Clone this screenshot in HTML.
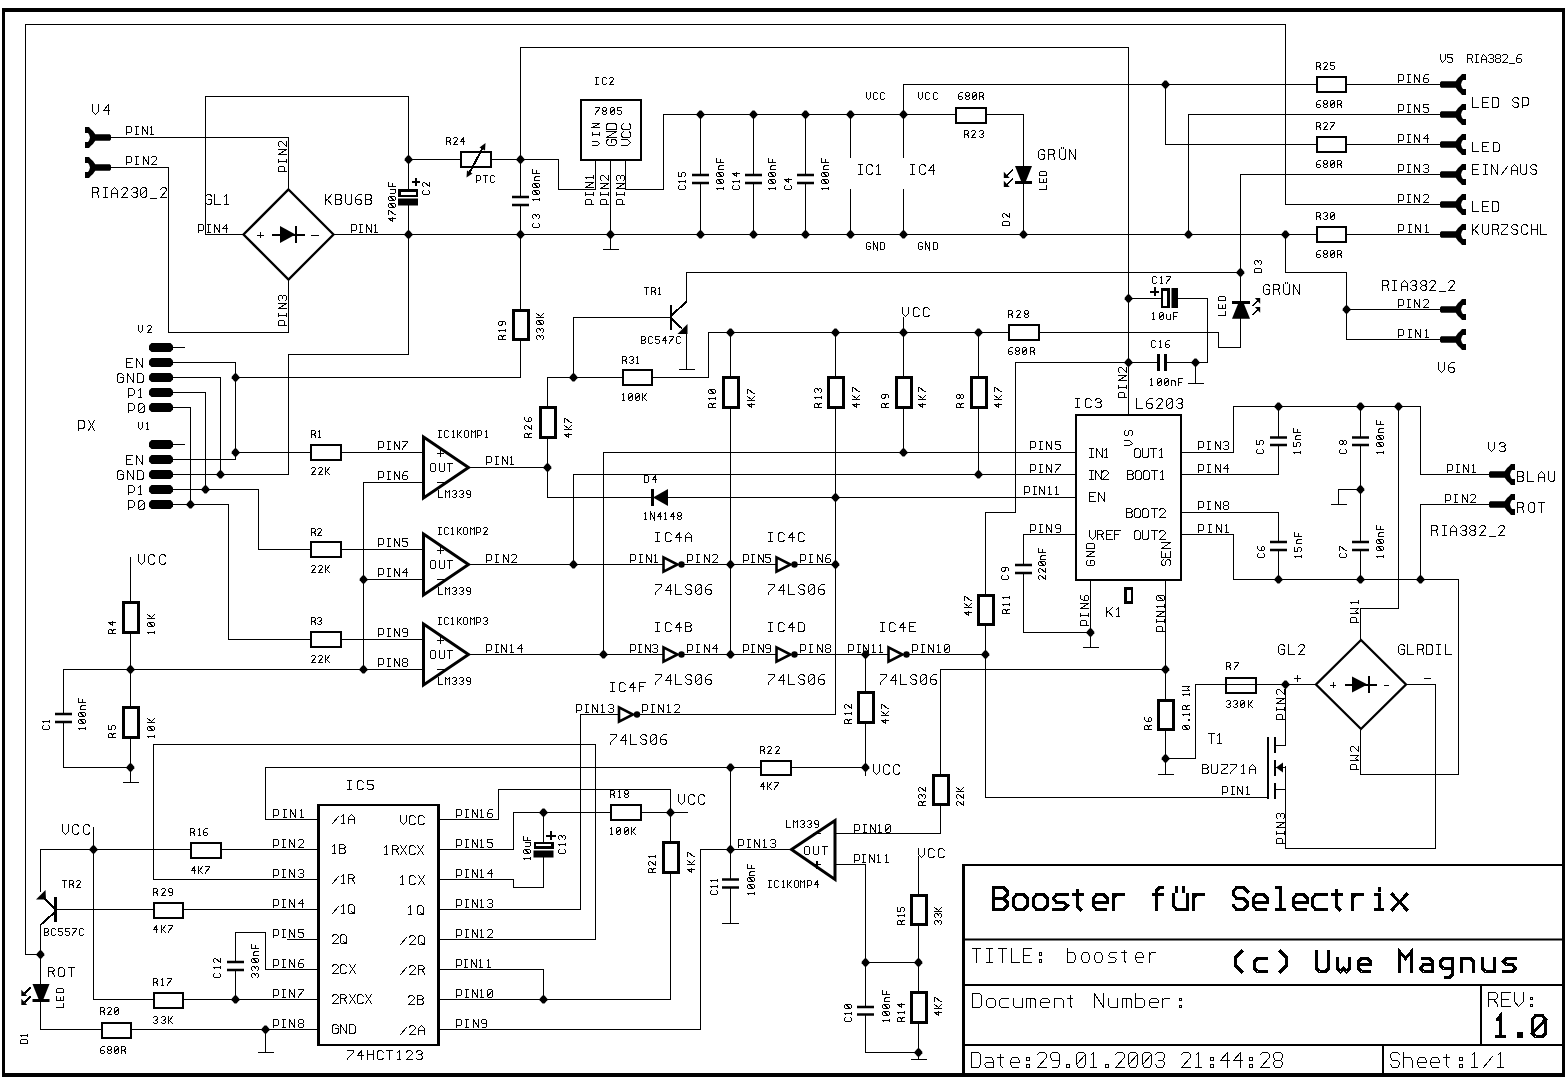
<!DOCTYPE html>
<html><head><meta charset="utf-8"><style>
html,body{margin:0;padding:0;background:#fff;font-family:"Liberation Sans",sans-serif;}
svg{display:block;}
.w{fill:none;stroke:#000;stroke-width:1;shape-rendering:crispEdges;stroke-linecap:square;}
line{stroke:#000;shape-rendering:crispEdges;}
.f{fill:#000;stroke:none;}
.b{fill:none;stroke:#000;shape-rendering:crispEdges;}
.p{fill:none;stroke:#000;stroke-linejoin:miter;}
.t{fill:none;stroke:#000;stroke-linecap:square;stroke-linejoin:miter;shape-rendering:crispEdges;}
</style></head><body>
<svg width="1567" height="1080" viewBox="0 0 1567 1080">
<rect x="0" y="0" width="1567" height="1080" fill="#fff"/>
<rect x="2" y="8" width="1563" height="4" class="f"/>
<rect x="2" y="1073" width="1563" height="4" class="f"/>
<rect x="2" y="8" width="3" height="1069" class="f"/>
<rect x="1562" y="8" width="3" height="1069" class="f"/>
<polyline class="w" points="25.5,954.5 25.5,24.5 1285.5,24.5 1285.5,204.5 1440.5,204.5"/>
<polygon points="85,127 89,127 90.7,129 93,131 94,132.5 95.3,134.3 109.8,134.3 111,135.5 111,139.5 109.8,140.7 95.3,140.7 94,142.5 93,144 90.7,146 89,148 85,148 85,142.1 88,142.1 89.2,140.2 90,137.5 89.2,134.8 88,132.9 85,132.9" class="f"/>
<polygon points="85,157 89,157 90.7,159 93,161 94,162.5 95.3,164.3 109.8,164.3 111,165.5 111,169.5 109.8,170.7 95.3,170.7 94,172.5 93,174 90.7,176 89,178 85,178 85,172.1 88,172.1 89.2,170.2 90,167.5 89.2,164.8 88,162.9 85,162.9" class="f"/>
<path class="t" stroke-width="1" d="M92.5 104.5 L92.5 111.5 L95.5 114.5 L98.5 111.5 L98.5 104.5 M108.5 114.5 L108.5 104.5 L103.5 110.5 L109.5 110.5"/>
<path class="t" stroke-width="1" d="M126.5 134.5 L126.5 126.5 L130.5 126.5 L131.5 127.5 L131.5 131.5 L130.5 132.5 L126.5 132.5 M135.5 126.5 L138.5 126.5 M136.5 126.5 L136.5 134.5 M135.5 134.5 L138.5 134.5 M142.5 134.5 L142.5 126.5 L147.5 134.5 L147.5 126.5 M150.5 127.5 L151.5 126.5 L151.5 134.5 M150.5 134.5 L153.5 134.5"/>
<path class="t" stroke-width="1" d="M126.5 164.5 L126.5 156.5 L130.5 156.5 L131.5 157.5 L131.5 161.5 L130.5 162.5 L126.5 162.5 M135.5 156.5 L138.5 156.5 M136.5 156.5 L136.5 164.5 M135.5 164.5 L138.5 164.5 M143.5 164.5 L143.5 156.5 L148.5 164.5 L148.5 156.5 M151.5 157.5 L152.5 156.5 L155.5 156.5 L156.5 157.5 L156.5 159.5 L151.5 164.5 L156.5 164.5"/>
<path class="t" stroke-width="1" d="M92.5 197.5 L92.5 187.5 L97.5 187.5 L98.5 189.5 L98.5 190.5 L97.5 192.5 L92.5 192.5 M96.5 192.5 L98.5 195.5 L98.5 197.5 M103.5 187.5 L107.5 187.5 M105.5 187.5 L105.5 197.5 M103.5 197.5 L107.5 197.5 M111.5 197.5 L111.5 190.5 L114.5 187.5 L117.5 190.5 L117.5 197.5 M111.5 193.5 L117.5 193.5 M121.5 189.5 L123.5 187.5 L126.5 187.5 L127.5 189.5 L127.5 190.5 L121.5 197.5 L127.5 197.5 M131.5 189.5 L133.5 187.5 L136.5 187.5 L137.5 189.5 L137.5 190.5 L136.5 192.5 L137.5 194.5 L137.5 195.5 L136.5 197.5 L133.5 197.5 L131.5 195.5 M133.5 192.5 L136.5 192.5 M142.5 187.5 L145.5 187.5 L146.5 189.5 L146.5 195.5 L145.5 197.5 L142.5 197.5 L140.5 195.5 L140.5 189.5 L142.5 187.5 M140.5 195.5 L146.5 189.5 M150.5 198.5 L156.5 198.5 M160.5 189.5 L162.5 187.5 L165.5 187.5 L166.5 189.5 L166.5 190.5 L160.5 197.5 L166.5 197.5"/>
<polyline class="w" points="111.5,137.5 288.5,137.5 288.5,190.5"/>
<polyline class="w" points="111.5,167.5 168.5,167.5 168.5,332.5 288.5,332.5 288.5,279.5"/>
<polygon points="288.5,189.5 333.5,234.5 288.5,279.5 243.5,234.5" class="p" stroke-width="2.3"/>
<line x1="272" y1="235" x2="304.5" y2="235" stroke-width="2"/>
<polygon points="280,226 295.5,234.5 280,243" class="f"/>
<line x1="296" y1="226" x2="296" y2="243" stroke-width="2"/>
<line x1="257" y1="235" x2="264" y2="235" stroke-width="1"/>
<line x1="260.5" y1="232" x2="260.5" y2="238" stroke-width="1"/>
<line x1="311" y1="235" x2="318.5" y2="235" stroke-width="1"/>
<path class="t" stroke-width="1" d="M211.5 196.5 L210.5 194.5 L207.5 194.5 L205.5 196.5 L205.5 202.5 L207.5 204.5 L210.5 204.5 L211.5 202.5 L211.5 199.5 L208.5 199.5 M214.5 194.5 L214.5 204.5 L220.5 204.5 M224.5 196.5 L226.5 194.5 L226.5 204.5 M224.5 204.5 L228.5 204.5"/>
<path class="t" stroke-width="1" d="M325.5 194.5 L325.5 204.5 M331.5 194.5 L327.5 199.5 L331.5 204.5 M325.5 200.5 L327.5 199.5 M335.5 204.5 L335.5 194.5 L340.5 194.5 L341.5 196.5 L341.5 197.5 L340.5 199.5 L335.5 199.5 M340.5 199.5 L341.5 201.5 L341.5 202.5 L340.5 204.5 L335.5 204.5 M345.5 194.5 L345.5 202.5 L347.5 204.5 L350.5 204.5 L351.5 202.5 L351.5 194.5 M361.5 194.5 L358.5 194.5 L355.5 197.5 L355.5 202.5 L357.5 204.5 L360.5 204.5 L361.5 202.5 L361.5 201.5 L360.5 199.5 L355.5 199.5 M365.5 204.5 L365.5 194.5 L370.5 194.5 L371.5 196.5 L371.5 197.5 L370.5 199.5 L365.5 199.5 M370.5 199.5 L371.5 201.5 L371.5 202.5 L370.5 204.5 L365.5 204.5"/>
<path class="t" stroke-width="1" d="M198.5 232.5 L198.5 224.5 L202.5 224.5 L203.5 225.5 L203.5 229.5 L202.5 230.5 L198.5 230.5 M207.5 224.5 L210.5 224.5 M208.5 224.5 L208.5 232.5 M207.5 232.5 L210.5 232.5 M214.5 232.5 L214.5 224.5 L219.5 232.5 L219.5 224.5 M226.5 232.5 L226.5 224.5 L222.5 228.5 L227.5 228.5"/>
<path class="t" stroke-width="1" d="M351.5 232.5 L351.5 224.5 L355.5 224.5 L356.5 225.5 L356.5 229.5 L355.5 230.5 L351.5 230.5 M359.5 224.5 L362.5 224.5 M360.5 224.5 L360.5 232.5 M359.5 232.5 L362.5 232.5 M366.5 232.5 L366.5 224.5 L371.5 232.5 L371.5 224.5 M374.5 225.5 L375.5 224.5 L375.5 232.5 M374.5 232.5 L377.5 232.5"/>
<path class="t" stroke-width="1" d="M286.5 171.5 L278.5 171.5 L278.5 167.5 L279.5 166.5 L283.5 166.5 L284.5 167.5 L284.5 171.5 M278.5 162.5 L278.5 159.5 M278.5 161.5 L286.5 161.5 M286.5 162.5 L286.5 159.5 M286.5 154.5 L278.5 154.5 L286.5 149.5 L278.5 149.5 M279.5 146.5 L278.5 145.5 L278.5 142.5 L279.5 141.5 L281.5 141.5 L286.5 146.5 L286.5 141.5"/>
<path class="t" stroke-width="1" d="M286.5 325.5 L278.5 325.5 L278.5 321.5 L279.5 320.5 L283.5 320.5 L284.5 321.5 L284.5 325.5 M278.5 316.5 L278.5 313.5 M278.5 315.5 L286.5 315.5 M286.5 316.5 L286.5 313.5 M286.5 308.5 L278.5 308.5 L286.5 303.5 L278.5 303.5 M279.5 300.5 L278.5 299.5 L278.5 296.5 L279.5 295.5 L281.5 295.5 L282.5 296.5 L283.5 295.5 L285.5 295.5 L286.5 296.5 L286.5 299.5 L285.5 300.5 M282.5 298.5 L282.5 296.5"/>
<polyline class="w" points="243.5,234.5 205.5,234.5 205.5,96.5 408.5,96.5 408.5,190.5"/>
<polyline class="w" points="408.5,205.5 408.5,354.5 288.5,354.5 288.5,474.5 172.5,474.5"/>
<polyline class="w" points="334.5,234.5 1316.5,234.5"/>
<polyline class="w" points="1346.5,234.5 1440.5,234.5"/>
<polygon points="407.5,230.5 409.5,230.5 412.3,233.7 412.3,235.3 409.5,238.5 407.5,238.5 404.7,235.3 404.7,233.7" class="f"/>
<polygon points="519.5,230.5 521.5,230.5 524.3,233.7 524.3,235.3 521.5,238.5 519.5,238.5 516.7,235.3 516.7,233.7" class="f"/>
<polygon points="609.5,230.5 611.5,230.5 614.3,233.7 614.3,235.3 611.5,238.5 609.5,238.5 606.7,235.3 606.7,233.7" class="f"/>
<polygon points="699.5,230.5 701.5,230.5 704.3,233.7 704.3,235.3 701.5,238.5 699.5,238.5 696.7,235.3 696.7,233.7" class="f"/>
<polygon points="752.5,230.5 754.5,230.5 757.3,233.7 757.3,235.3 754.5,238.5 752.5,238.5 749.7,235.3 749.7,233.7" class="f"/>
<polygon points="804.5,230.5 806.5,230.5 809.3,233.7 809.3,235.3 806.5,238.5 804.5,238.5 801.7,235.3 801.7,233.7" class="f"/>
<polygon points="849.5,230.5 851.5,230.5 854.3,233.7 854.3,235.3 851.5,238.5 849.5,238.5 846.7,235.3 846.7,233.7" class="f"/>
<polygon points="902.5,230.5 904.5,230.5 907.3,233.7 907.3,235.3 904.5,238.5 902.5,238.5 899.7,235.3 899.7,233.7" class="f"/>
<polygon points="1022.5,230.5 1024.5,230.5 1027.3,233.7 1027.3,235.3 1024.5,238.5 1022.5,238.5 1019.7,235.3 1019.7,233.7" class="f"/>
<polygon points="1187.5,230.5 1189.5,230.5 1192.3,233.7 1192.3,235.3 1189.5,238.5 1187.5,238.5 1184.7,235.3 1184.7,233.7" class="f"/>
<polygon points="1284.5,230.5 1286.5,230.5 1289.3,233.7 1289.3,235.3 1286.5,238.5 1284.5,238.5 1281.7,235.3 1281.7,233.7" class="f"/>
<rect x="399.25" y="190.25" width="17.5" height="5.5" class="b" stroke-width="2.5"/>
<rect x="398" y="198.5" width="20" height="7" class="f"/>
<line x1="412" y1="181.5" x2="420" y2="181.5" stroke-width="2"/>
<line x1="416" y1="177.5" x2="416" y2="185.5" stroke-width="2"/>
<path class="t" stroke-width="1" d="M423.5 190.5 L422.5 191.5 L422.5 193.5 L423.5 194.5 L428.5 194.5 L429.5 193.5 L429.5 191.5 L428.5 190.5 M423.5 186.5 L422.5 185.5 L422.5 183.5 L423.5 182.5 L424.5 182.5 L429.5 186.5 L429.5 182.5"/>
<path class="t" stroke-width="1" d="M395.5 218.5 L388.5 218.5 L392.5 221.5 L392.5 217.5 M388.5 214.5 L388.5 210.5 L389.5 210.5 L394.5 214.5 L395.5 214.5 M388.5 206.5 L388.5 204.5 L389.5 203.5 L394.5 203.5 L395.5 204.5 L395.5 206.5 L394.5 207.5 L389.5 207.5 L388.5 206.5 M394.5 207.5 L389.5 203.5 M388.5 199.5 L388.5 197.5 L389.5 196.5 L394.5 196.5 L395.5 197.5 L395.5 199.5 L394.5 200.5 L389.5 200.5 L388.5 199.5 M394.5 200.5 L389.5 196.5 M390.5 193.5 L394.5 193.5 L395.5 192.5 L395.5 189.5 M390.5 189.5 L395.5 189.5 M388.5 182.5 L388.5 186.5 L395.5 186.5 M392.5 186.5 L392.5 183.5"/>
<polygon points="407.5,155.5 409.5,155.5 412.3,158.7 412.3,160.3 409.5,163.5 407.5,163.5 404.7,160.3 404.7,158.7" class="f"/>
<polyline class="w" points="408.5,159.5 460.5,159.5"/>
<rect x="461" y="152" width="30" height="15" class="b" stroke-width="2"/>
<polyline class="w" points="491.5,159.5 520.5,159.5"/>
<line x1="468.5" y1="174.5" x2="483.5" y2="146.5" stroke-width="2"/>
<polygon points="485.5,143 479.5,147.5 485,150.5" class="f"/>
<polygon points="466.5,177.5 467,170.5 472.5,173.5" class="f"/>
<path class="t" stroke-width="1" d="M446.5 144.5 L446.5 137.5 L449.5 137.5 L450.5 138.5 L450.5 139.5 L449.5 141.5 L446.5 141.5 M449.5 141.5 L450.5 143.5 L450.5 144.5 M453.5 138.5 L454.5 137.5 L456.5 137.5 L457.5 138.5 L457.5 139.5 L453.5 144.5 L457.5 144.5 M463.5 144.5 L463.5 137.5 L460.5 141.5 L464.5 141.5"/>
<path class="t" stroke-width="1" d="M476.5 182.5 L476.5 175.5 L479.5 175.5 L480.5 176.5 L480.5 179.5 L479.5 180.5 L476.5 180.5 M483.5 175.5 L487.5 175.5 M485.5 175.5 L485.5 182.5 M494.5 176.5 L493.5 175.5 L491.5 175.5 L490.5 176.5 L490.5 181.5 L491.5 182.5 L493.5 182.5 L494.5 181.5"/>
<polygon points="519.5,155.5 521.5,155.5 524.3,158.7 524.3,160.3 521.5,163.5 519.5,163.5 516.7,160.3 516.7,158.7" class="f"/>
<polyline class="w" points="520.5,47.5 1128.5,47.5 1128.5,415.5"/>
<polyline class="w" points="520.5,47.5 520.5,197.5"/>
<rect x="512" y="195.75" width="17" height="2.5" class="f"/>
<rect x="512" y="203.75" width="17" height="2.5" class="f"/>
<polyline class="w" points="520.5,205.5 520.5,309.5"/>
<rect x="513.5" y="310.5" width="15" height="29" class="b" stroke-width="3"/>
<polyline class="w" points="520.5,340.5 520.5,377.5 235.5,377.5"/>
<path class="t" stroke-width="1" d="M533.5 200.5 L532.5 199.5 L539.5 199.5 M539.5 200.5 L539.5 198.5 M532.5 193.5 L532.5 191.5 L533.5 190.5 L538.5 190.5 L539.5 191.5 L539.5 193.5 L538.5 194.5 L533.5 194.5 L532.5 193.5 M538.5 194.5 L533.5 190.5 M532.5 186.5 L532.5 184.5 L533.5 183.5 L538.5 183.5 L539.5 184.5 L539.5 186.5 L538.5 187.5 L533.5 187.5 L532.5 186.5 M538.5 187.5 L533.5 183.5 M539.5 180.5 L534.5 180.5 L534.5 177.5 L536.5 176.5 L539.5 176.5 M532.5 169.5 L532.5 173.5 L539.5 173.5 M536.5 173.5 L536.5 170.5"/>
<path class="t" stroke-width="1" d="M533.5 223.5 L532.5 224.5 L532.5 226.5 L533.5 227.5 L538.5 227.5 L539.5 226.5 L539.5 224.5 L538.5 223.5 M533.5 218.5 L532.5 217.5 L532.5 215.5 L533.5 214.5 L534.5 214.5 L536.5 215.5 L537.5 214.5 L538.5 214.5 L539.5 215.5 L539.5 217.5 L538.5 218.5 M536.5 216.5 L536.5 215.5"/>
<path class="t" stroke-width="1" d="M505.5 339.5 L498.5 339.5 L498.5 336.5 L499.5 335.5 L500.5 335.5 L502.5 336.5 L502.5 339.5 M502.5 336.5 L504.5 335.5 L505.5 335.5 M499.5 331.5 L498.5 330.5 L505.5 330.5 M505.5 331.5 L505.5 329.5 M505.5 324.5 L505.5 322.5 L504.5 321.5 L499.5 321.5 L498.5 322.5 L498.5 324.5 L499.5 325.5 L500.5 325.5 L502.5 324.5 L502.5 321.5"/>
<path class="t" stroke-width="1" d="M537.5 339.5 L536.5 338.5 L536.5 336.5 L537.5 335.5 L538.5 335.5 L540.5 336.5 L541.5 335.5 L542.5 335.5 L543.5 336.5 L543.5 338.5 L542.5 339.5 M540.5 337.5 L540.5 336.5 M537.5 332.5 L536.5 331.5 L536.5 329.5 L537.5 328.5 L538.5 328.5 L540.5 329.5 L541.5 328.5 L542.5 328.5 L543.5 329.5 L543.5 331.5 L542.5 332.5 M540.5 330.5 L540.5 329.5 M536.5 323.5 L536.5 321.5 L537.5 320.5 L542.5 320.5 L543.5 321.5 L543.5 323.5 L542.5 324.5 L537.5 324.5 L536.5 323.5 M542.5 324.5 L537.5 320.5 M536.5 317.5 L543.5 317.5 M536.5 313.5 L540.5 316.5 L543.5 313.5 M540.5 317.5 L540.5 316.5"/>
<polygon points="234.5,373.5 236.5,373.5 239.3,376.7 239.3,378.3 236.5,381.5 234.5,381.5 231.7,378.3 231.7,376.7" class="f"/>
<rect x="581" y="100" width="60" height="60" class="b" stroke-width="2"/>
<path class="t" stroke-width="1" d="M595.5 77.5 L598.5 77.5 M596.5 77.5 L596.5 84.5 M595.5 84.5 L598.5 84.5 M606.5 78.5 L605.5 77.5 L603.5 77.5 L602.5 78.5 L602.5 83.5 L603.5 84.5 L605.5 84.5 L606.5 83.5 M609.5 78.5 L610.5 77.5 L612.5 77.5 L613.5 78.5 L613.5 79.5 L609.5 84.5 L613.5 84.5"/>
<path class="t" stroke-width="1" d="M595.5 107.5 L599.5 107.5 L599.5 108.5 L595.5 113.5 L595.5 114.5 M603.5 107.5 L605.5 107.5 L606.5 108.5 L606.5 109.5 L605.5 111.5 L603.5 111.5 L602.5 109.5 L602.5 108.5 L603.5 107.5 M603.5 111.5 L602.5 112.5 L602.5 113.5 L603.5 114.5 L605.5 114.5 L606.5 113.5 L606.5 112.5 L605.5 111.5 M611.5 107.5 L613.5 107.5 L614.5 108.5 L614.5 113.5 L613.5 114.5 L611.5 114.5 L610.5 113.5 L610.5 108.5 L611.5 107.5 M610.5 113.5 L614.5 108.5 M621.5 107.5 L617.5 107.5 L617.5 110.5 L620.5 110.5 L621.5 111.5 L621.5 113.5 L620.5 114.5 L618.5 114.5 L617.5 113.5"/>
<path class="t" stroke-width="1" d="M592.5 145.5 L597.5 145.5 L599.5 143.5 L597.5 141.5 L592.5 141.5 M592.5 135.5 L592.5 132.5 M592.5 134.5 L599.5 134.5 M599.5 135.5 L599.5 132.5 M599.5 127.5 L592.5 127.5 L599.5 123.5 L592.5 123.5"/>
<path class="t" stroke-width="1" d="M608.5 139.5 L606.5 140.5 L606.5 143.5 L608.5 145.5 L614.5 145.5 L616.5 143.5 L616.5 140.5 L614.5 139.5 L611.5 139.5 L611.5 142.5 M616.5 137.5 L606.5 137.5 L616.5 131.5 L606.5 131.5 M606.5 129.5 L606.5 124.5 L608.5 123.5 L614.5 123.5 L616.5 124.5 L616.5 129.5 L606.5 129.5"/>
<path class="t" stroke-width="1" d="M621.5 145.5 L627.5 145.5 L630.5 142.5 L627.5 139.5 L621.5 139.5 M623.5 131.5 L621.5 133.5 L621.5 136.5 L623.5 137.5 L629.5 137.5 L630.5 136.5 L630.5 133.5 L629.5 131.5 M623.5 123.5 L621.5 125.5 L621.5 128.5 L623.5 129.5 L629.5 129.5 L630.5 128.5 L630.5 125.5 L629.5 123.5"/>
<path class="t" stroke-width="1" d="M593.5 204.5 L585.5 204.5 L585.5 200.5 L586.5 199.5 L590.5 199.5 L591.5 200.5 L591.5 204.5 M585.5 195.5 L585.5 192.5 M585.5 194.5 L593.5 194.5 M593.5 195.5 L593.5 192.5 M593.5 187.5 L585.5 187.5 L593.5 182.5 L585.5 182.5 M586.5 178.5 L585.5 177.5 L593.5 177.5 M593.5 178.5 L593.5 175.5"/>
<path class="t" stroke-width="1" d="M608.5 204.5 L600.5 204.5 L600.5 200.5 L601.5 199.5 L605.5 199.5 L606.5 200.5 L606.5 204.5 M600.5 195.5 L600.5 192.5 M600.5 194.5 L608.5 194.5 M608.5 195.5 L608.5 192.5 M608.5 188.5 L600.5 188.5 L608.5 183.5 L600.5 183.5 M601.5 180.5 L600.5 179.5 L600.5 176.5 L601.5 175.5 L603.5 175.5 L608.5 180.5 L608.5 175.5"/>
<path class="t" stroke-width="1" d="M624.5 204.5 L616.5 204.5 L616.5 200.5 L617.5 199.5 L621.5 199.5 L622.5 200.5 L622.5 204.5 M616.5 195.5 L616.5 192.5 M616.5 194.5 L624.5 194.5 M624.5 195.5 L624.5 192.5 M624.5 188.5 L616.5 188.5 L624.5 183.5 L616.5 183.5 M617.5 180.5 L616.5 179.5 L616.5 176.5 L617.5 175.5 L619.5 175.5 L620.5 176.5 L621.5 175.5 L623.5 175.5 L624.5 176.5 L624.5 179.5 L623.5 180.5 M620.5 178.5 L620.5 176.5"/>
<polyline class="w" points="520.5,159.5 558.5,159.5 558.5,189.5 595.5,189.5 595.5,161.5"/>
<polyline class="w" points="610.5,161.5 610.5,249.5"/>
<line x1="602.5" y1="249.5" x2="618.5" y2="249.5" stroke-width="1.2"/>
<polyline class="w" points="625.5,161.5 625.5,189.5 663.5,189.5 663.5,114.5 955.5,114.5"/>
<polygon points="699.5,110.5 701.5,110.5 704.3,113.7 704.3,115.3 701.5,118.5 699.5,118.5 696.7,115.3 696.7,113.7" class="f"/>
<polygon points="752.5,110.5 754.5,110.5 757.3,113.7 757.3,115.3 754.5,118.5 752.5,118.5 749.7,115.3 749.7,113.7" class="f"/>
<polygon points="804.5,110.5 806.5,110.5 809.3,113.7 809.3,115.3 806.5,118.5 804.5,118.5 801.7,115.3 801.7,113.7" class="f"/>
<polygon points="849.5,110.5 851.5,110.5 854.3,113.7 854.3,115.3 851.5,118.5 849.5,118.5 846.7,115.3 846.7,113.7" class="f"/>
<polygon points="902.5,110.5 904.5,110.5 907.3,113.7 907.3,115.3 904.5,118.5 902.5,118.5 899.7,115.3 899.7,113.7" class="f"/>
<polyline class="w" points="700.5,114.5 700.5,175.5"/>
<rect x="692" y="173.75" width="17" height="2.5" class="f"/>
<rect x="692" y="181.75" width="17" height="2.5" class="f"/>
<polyline class="w" points="700.5,183.5 700.5,234.5"/>
<polyline class="w" points="753.5,114.5 753.5,175.5"/>
<rect x="745" y="173.75" width="17" height="2.5" class="f"/>
<rect x="745" y="181.75" width="17" height="2.5" class="f"/>
<polyline class="w" points="753.5,183.5 753.5,234.5"/>
<polyline class="w" points="805.5,114.5 805.5,175.5"/>
<rect x="797" y="173.75" width="17" height="2.5" class="f"/>
<rect x="797" y="181.75" width="17" height="2.5" class="f"/>
<polyline class="w" points="805.5,183.5 805.5,234.5"/>
<path class="t" stroke-width="1" d="M679.5 185.5 L678.5 186.5 L678.5 188.5 L679.5 189.5 L684.5 189.5 L685.5 188.5 L685.5 186.5 L684.5 185.5 M679.5 182.5 L678.5 181.5 L685.5 181.5 M685.5 182.5 L685.5 180.5 M678.5 172.5 L678.5 176.5 L681.5 176.5 L681.5 173.5 L682.5 172.5 L684.5 172.5 L685.5 173.5 L685.5 175.5 L684.5 176.5"/>
<path class="t" stroke-width="1" d="M717.5 189.5 L716.5 188.5 L723.5 188.5 M723.5 189.5 L723.5 187.5 M716.5 182.5 L716.5 180.5 L717.5 179.5 L722.5 179.5 L723.5 180.5 L723.5 182.5 L722.5 183.5 L717.5 183.5 L716.5 182.5 M722.5 183.5 L717.5 179.5 M716.5 175.5 L716.5 173.5 L717.5 172.5 L722.5 172.5 L723.5 173.5 L723.5 175.5 L722.5 176.5 L717.5 176.5 L716.5 175.5 M722.5 176.5 L717.5 172.5 M723.5 169.5 L718.5 169.5 L718.5 166.5 L720.5 165.5 L723.5 165.5 M716.5 158.5 L716.5 162.5 L723.5 162.5 M720.5 162.5 L720.5 159.5"/>
<path class="t" stroke-width="1" d="M733.5 185.5 L732.5 186.5 L732.5 188.5 L733.5 189.5 L738.5 189.5 L739.5 188.5 L739.5 186.5 L738.5 185.5 M733.5 182.5 L732.5 181.5 L739.5 181.5 M739.5 182.5 L739.5 180.5 M739.5 173.5 L732.5 173.5 L736.5 176.5 L736.5 172.5"/>
<path class="t" stroke-width="1" d="M769.5 189.5 L768.5 188.5 L775.5 188.5 M775.5 189.5 L775.5 187.5 M768.5 182.5 L768.5 180.5 L769.5 179.5 L774.5 179.5 L775.5 180.5 L775.5 182.5 L774.5 183.5 L769.5 183.5 L768.5 182.5 M774.5 183.5 L769.5 179.5 M768.5 175.5 L768.5 173.5 L769.5 172.5 L774.5 172.5 L775.5 173.5 L775.5 175.5 L774.5 176.5 L769.5 176.5 L768.5 175.5 M774.5 176.5 L769.5 172.5 M775.5 169.5 L770.5 169.5 L770.5 166.5 L772.5 165.5 L775.5 165.5 M768.5 158.5 L768.5 162.5 L775.5 162.5 M772.5 162.5 L772.5 159.5"/>
<path class="t" stroke-width="1" d="M785.5 185.5 L784.5 186.5 L784.5 188.5 L785.5 189.5 L790.5 189.5 L791.5 188.5 L791.5 186.5 L790.5 185.5 M791.5 179.5 L784.5 179.5 L788.5 182.5 L788.5 178.5"/>
<path class="t" stroke-width="1" d="M822.5 189.5 L821.5 188.5 L828.5 188.5 M828.5 189.5 L828.5 187.5 M821.5 182.5 L821.5 180.5 L822.5 179.5 L827.5 179.5 L828.5 180.5 L828.5 182.5 L827.5 183.5 L822.5 183.5 L821.5 182.5 M827.5 183.5 L822.5 179.5 M821.5 175.5 L821.5 173.5 L822.5 172.5 L827.5 172.5 L828.5 173.5 L828.5 175.5 L827.5 176.5 L822.5 176.5 L821.5 175.5 M827.5 176.5 L822.5 172.5 M828.5 169.5 L823.5 169.5 L823.5 166.5 L825.5 165.5 L828.5 165.5 M821.5 158.5 L821.5 162.5 L828.5 162.5 M825.5 162.5 L825.5 159.5"/>
<polyline class="w" points="850.5,114.5 850.5,157.5"/>
<polyline class="w" points="850.5,189.5 850.5,234.5"/>
<polyline class="w" points="903.5,114.5 903.5,157.5"/>
<polyline class="w" points="903.5,189.5 903.5,234.5"/>
<path class="t" stroke-width="1" d="M858.5 164.5 L862.5 164.5 M860.5 164.5 L860.5 174.5 M858.5 174.5 L862.5 174.5 M872.5 166.5 L871.5 164.5 L868.5 164.5 L866.5 166.5 L866.5 172.5 L868.5 174.5 L871.5 174.5 L872.5 172.5 M876.5 166.5 L878.5 164.5 L878.5 174.5 M876.5 174.5 L880.5 174.5"/>
<path class="t" stroke-width="1" d="M910.5 164.5 L914.5 164.5 M912.5 164.5 L912.5 174.5 M910.5 174.5 L914.5 174.5 M925.5 166.5 L924.5 164.5 L921.5 164.5 L919.5 166.5 L919.5 172.5 L921.5 174.5 L924.5 174.5 L925.5 172.5 M933.5 174.5 L933.5 164.5 L928.5 170.5 L934.5 170.5"/>
<path class="t" stroke-width="1" d="M866.5 92.5 L866.5 97.5 L868.5 99.5 L870.5 97.5 L870.5 92.5 M877.5 93.5 L876.5 92.5 L874.5 92.5 L873.5 93.5 L873.5 98.5 L874.5 99.5 L876.5 99.5 L877.5 98.5 M884.5 93.5 L883.5 92.5 L881.5 92.5 L880.5 93.5 L880.5 98.5 L881.5 99.5 L883.5 99.5 L884.5 98.5"/>
<path class="t" stroke-width="1" d="M918.5 92.5 L918.5 97.5 L920.5 99.5 L922.5 97.5 L922.5 92.5 M929.5 93.5 L928.5 92.5 L926.5 92.5 L925.5 93.5 L925.5 98.5 L926.5 99.5 L928.5 99.5 L929.5 98.5 M937.5 93.5 L936.5 92.5 L934.5 92.5 L933.5 93.5 L933.5 98.5 L934.5 99.5 L936.5 99.5 L937.5 98.5"/>
<path class="t" stroke-width="1" d="M870.5 243.5 L869.5 242.5 L867.5 242.5 L866.5 243.5 L866.5 248.5 L867.5 249.5 L869.5 249.5 L870.5 248.5 L870.5 246.5 L868.5 246.5 M873.5 249.5 L873.5 242.5 L877.5 249.5 L877.5 242.5 M880.5 242.5 L883.5 242.5 L884.5 243.5 L884.5 248.5 L883.5 249.5 L880.5 249.5 L880.5 242.5"/>
<path class="t" stroke-width="1" d="M922.5 243.5 L921.5 242.5 L919.5 242.5 L918.5 243.5 L918.5 248.5 L919.5 249.5 L921.5 249.5 L922.5 248.5 L922.5 246.5 L920.5 246.5 M925.5 249.5 L925.5 242.5 L929.5 249.5 L929.5 242.5 M933.5 242.5 L936.5 242.5 L937.5 243.5 L937.5 248.5 L936.5 249.5 L933.5 249.5 L933.5 242.5"/>
<rect x="956" y="107.5" width="30" height="15" class="b" stroke-width="2"/>
<polyline class="w" points="986.5,114.5 1023.5,114.5 1023.5,167.5"/>
<polygon points="1015,166 1032,166 1026,181 1021,181" class="f"/>
<rect x="1015" y="181" width="17" height="3" class="f"/>
<line x1="1013" y1="169.5" x2="1007" y2="175.5" stroke-width="1.6"/>
<polygon points="1003.8,171.8 1003.8,178 1009.7,178" class="f"/>
<line x1="1013" y1="178.5" x2="1007" y2="184.5" stroke-width="1.6"/>
<polygon points="1003.8,180.8 1003.8,187 1009.7,187" class="f"/>
<polyline class="w" points="1023.5,183.5 1023.5,234.5"/>
<path class="t" stroke-width="1" d="M962.5 92.5 L960.5 92.5 L958.5 94.5 L958.5 98.5 L959.5 99.5 L961.5 99.5 L962.5 98.5 L962.5 97.5 L961.5 96.5 L958.5 96.5 M966.5 92.5 L968.5 92.5 L969.5 93.5 L969.5 94.5 L968.5 96.5 L966.5 96.5 L965.5 94.5 L965.5 93.5 L966.5 92.5 M966.5 96.5 L965.5 97.5 L965.5 98.5 L966.5 99.5 L968.5 99.5 L969.5 98.5 L969.5 97.5 L968.5 96.5 M973.5 92.5 L975.5 92.5 L976.5 93.5 L976.5 98.5 L975.5 99.5 L973.5 99.5 L972.5 98.5 L972.5 93.5 L973.5 92.5 M972.5 98.5 L976.5 93.5 M979.5 99.5 L979.5 92.5 L982.5 92.5 L983.5 93.5 L983.5 94.5 L982.5 96.5 L979.5 96.5 M982.5 96.5 L983.5 98.5 L983.5 99.5"/>
<path class="t" stroke-width="1" d="M964.5 137.5 L964.5 130.5 L967.5 130.5 L968.5 131.5 L968.5 132.5 L967.5 134.5 L964.5 134.5 M967.5 134.5 L968.5 136.5 L968.5 137.5 M971.5 131.5 L972.5 130.5 L974.5 130.5 L975.5 131.5 L975.5 132.5 L971.5 137.5 L975.5 137.5 M979.5 131.5 L980.5 130.5 L982.5 130.5 L983.5 131.5 L983.5 132.5 L982.5 134.5 L983.5 135.5 L983.5 136.5 L982.5 137.5 L980.5 137.5 L979.5 136.5 M981.5 134.5 L982.5 134.5"/>
<path class="t" stroke-width="1" d="M1044.5 151.5 L1043.5 149.5 L1040.5 149.5 L1038.5 151.5 L1038.5 157.5 L1040.5 159.5 L1043.5 159.5 L1044.5 157.5 L1044.5 154.5 L1041.5 154.5 M1048.5 159.5 L1048.5 149.5 L1053.5 149.5 L1054.5 151.5 L1054.5 152.5 L1053.5 154.5 L1048.5 154.5 M1052.5 154.5 L1054.5 157.5 L1054.5 159.5 M1059.5 149.5 L1059.5 157.5 L1061.5 159.5 L1064.5 159.5 L1065.5 157.5 L1065.5 149.5 M1061.5 147.5 L1061.5 148.5 M1063.5 147.5 L1063.5 148.5 M1069.5 159.5 L1069.5 149.5 L1075.5 159.5 L1075.5 149.5"/>
<path class="t" stroke-width="1" d="M1039.5 189.5 L1046.5 189.5 L1046.5 185.5 M1039.5 178.5 L1039.5 182.5 L1046.5 182.5 L1046.5 178.5 M1043.5 182.5 L1043.5 179.5 M1039.5 175.5 L1039.5 172.5 L1040.5 171.5 L1045.5 171.5 L1046.5 172.5 L1046.5 175.5 L1039.5 175.5"/>
<path class="t" stroke-width="1" d="M1002.5 225.5 L1002.5 222.5 L1003.5 221.5 L1008.5 221.5 L1009.5 222.5 L1009.5 225.5 L1002.5 225.5 M1003.5 217.5 L1002.5 216.5 L1002.5 214.5 L1003.5 213.5 L1004.5 213.5 L1009.5 217.5 L1009.5 213.5"/>
<polyline class="w" points="903.5,114.5 903.5,84.5 1316.5,84.5"/>
<rect x="1316.5" y="77" width="29" height="15" class="b" stroke-width="2"/>
<polyline class="w" points="1346.5,84.5 1440.5,84.5"/>
<polygon points="1164.5,80.5 1166.5,80.5 1169.3,83.7 1169.3,85.3 1166.5,88.5 1164.5,88.5 1161.7,85.3 1161.7,83.7" class="f"/>
<polyline class="w" points="1165.5,84.5 1165.5,144.5 1316.5,144.5"/>
<rect x="1316.5" y="137" width="29" height="15" class="b" stroke-width="2"/>
<polyline class="w" points="1346.5,144.5 1440.5,144.5"/>
<polyline class="w" points="1188.5,234.5 1188.5,114.5 1440.5,114.5"/>
<polyline class="w" points="1240.5,174.5 1440.5,174.5"/>
<rect x="1316.5" y="227" width="29" height="15" class="b" stroke-width="2"/>
<polygon points="1466,74 1462,74 1460.3,76 1458,78 1457,79.5 1455.7,81.3 1441.2,81.3 1440,82.5 1440,86.5 1441.2,87.7 1455.7,87.7 1457,89.5 1458,91 1460.3,93 1462,95 1466,95 1466,89.1 1463,89.1 1461.8,87.2 1461,84.5 1461.8,81.8 1463,79.9 1466,79.9" class="f"/>
<polygon points="1466,104 1462,104 1460.3,106 1458,108 1457,109.5 1455.7,111.3 1441.2,111.3 1440,112.5 1440,116.5 1441.2,117.7 1455.7,117.7 1457,119.5 1458,121 1460.3,123 1462,125 1466,125 1466,119.1 1463,119.1 1461.8,117.2 1461,114.5 1461.8,111.8 1463,109.9 1466,109.9" class="f"/>
<polygon points="1466,134 1462,134 1460.3,136 1458,138 1457,139.5 1455.7,141.3 1441.2,141.3 1440,142.5 1440,146.5 1441.2,147.7 1455.7,147.7 1457,149.5 1458,151 1460.3,153 1462,155 1466,155 1466,149.1 1463,149.1 1461.8,147.2 1461,144.5 1461.8,141.8 1463,139.9 1466,139.9" class="f"/>
<polygon points="1466,164 1462,164 1460.3,166 1458,168 1457,169.5 1455.7,171.3 1441.2,171.3 1440,172.5 1440,176.5 1441.2,177.7 1455.7,177.7 1457,179.5 1458,181 1460.3,183 1462,185 1466,185 1466,179.1 1463,179.1 1461.8,177.2 1461,174.5 1461.8,171.8 1463,169.9 1466,169.9" class="f"/>
<polygon points="1466,194 1462,194 1460.3,196 1458,198 1457,199.5 1455.7,201.3 1441.2,201.3 1440,202.5 1440,206.5 1441.2,207.7 1455.7,207.7 1457,209.5 1458,211 1460.3,213 1462,215 1466,215 1466,209.1 1463,209.1 1461.8,207.2 1461,204.5 1461.8,201.8 1463,199.9 1466,199.9" class="f"/>
<polygon points="1466,224 1462,224 1460.3,226 1458,228 1457,229.5 1455.7,231.3 1441.2,231.3 1440,232.5 1440,236.5 1441.2,237.7 1455.7,237.7 1457,239.5 1458,241 1460.3,243 1462,245 1466,245 1466,239.1 1463,239.1 1461.8,237.2 1461,234.5 1461.8,231.8 1463,229.9 1466,229.9" class="f"/>
<path class="t" stroke-width="1" d="M1316.5 69.5 L1316.5 62.5 L1319.5 62.5 L1320.5 63.5 L1320.5 64.5 L1319.5 66.5 L1316.5 66.5 M1319.5 66.5 L1320.5 68.5 L1320.5 69.5 M1323.5 63.5 L1324.5 62.5 L1326.5 62.5 L1327.5 63.5 L1327.5 64.5 L1323.5 69.5 L1327.5 69.5 M1334.5 62.5 L1330.5 62.5 L1330.5 65.5 L1333.5 65.5 L1334.5 66.5 L1334.5 68.5 L1333.5 69.5 L1331.5 69.5 L1330.5 68.5"/>
<path class="t" stroke-width="1" d="M1320.5 100.5 L1318.5 100.5 L1316.5 102.5 L1316.5 106.5 L1317.5 107.5 L1319.5 107.5 L1320.5 106.5 L1320.5 105.5 L1319.5 104.5 L1316.5 104.5 M1324.5 100.5 L1326.5 100.5 L1327.5 101.5 L1327.5 102.5 L1326.5 104.5 L1324.5 104.5 L1323.5 102.5 L1323.5 101.5 L1324.5 100.5 M1324.5 104.5 L1323.5 105.5 L1323.5 106.5 L1324.5 107.5 L1326.5 107.5 L1327.5 106.5 L1327.5 105.5 L1326.5 104.5 M1331.5 100.5 L1333.5 100.5 L1334.5 101.5 L1334.5 106.5 L1333.5 107.5 L1331.5 107.5 L1330.5 106.5 L1330.5 101.5 L1331.5 100.5 M1330.5 106.5 L1334.5 101.5 M1337.5 107.5 L1337.5 100.5 L1340.5 100.5 L1341.5 101.5 L1341.5 102.5 L1340.5 104.5 L1337.5 104.5 M1340.5 104.5 L1341.5 106.5 L1341.5 107.5"/>
<path class="t" stroke-width="1" d="M1316.5 129.5 L1316.5 122.5 L1319.5 122.5 L1320.5 123.5 L1320.5 124.5 L1319.5 126.5 L1316.5 126.5 M1319.5 126.5 L1320.5 128.5 L1320.5 129.5 M1323.5 123.5 L1324.5 122.5 L1326.5 122.5 L1327.5 123.5 L1327.5 124.5 L1323.5 129.5 L1327.5 129.5 M1330.5 122.5 L1334.5 122.5 L1334.5 123.5 L1330.5 128.5 L1330.5 129.5"/>
<path class="t" stroke-width="1" d="M1320.5 160.5 L1318.5 160.5 L1316.5 162.5 L1316.5 166.5 L1317.5 167.5 L1319.5 167.5 L1320.5 166.5 L1320.5 165.5 L1319.5 164.5 L1316.5 164.5 M1324.5 160.5 L1326.5 160.5 L1327.5 161.5 L1327.5 162.5 L1326.5 164.5 L1324.5 164.5 L1323.5 162.5 L1323.5 161.5 L1324.5 160.5 M1324.5 164.5 L1323.5 165.5 L1323.5 166.5 L1324.5 167.5 L1326.5 167.5 L1327.5 166.5 L1327.5 165.5 L1326.5 164.5 M1331.5 160.5 L1333.5 160.5 L1334.5 161.5 L1334.5 166.5 L1333.5 167.5 L1331.5 167.5 L1330.5 166.5 L1330.5 161.5 L1331.5 160.5 M1330.5 166.5 L1334.5 161.5 M1337.5 167.5 L1337.5 160.5 L1340.5 160.5 L1341.5 161.5 L1341.5 162.5 L1340.5 164.5 L1337.5 164.5 M1340.5 164.5 L1341.5 166.5 L1341.5 167.5"/>
<path class="t" stroke-width="1" d="M1316.5 219.5 L1316.5 212.5 L1319.5 212.5 L1320.5 213.5 L1320.5 214.5 L1319.5 216.5 L1316.5 216.5 M1319.5 216.5 L1320.5 218.5 L1320.5 219.5 M1323.5 213.5 L1324.5 212.5 L1326.5 212.5 L1327.5 213.5 L1327.5 214.5 L1326.5 216.5 L1327.5 217.5 L1327.5 218.5 L1326.5 219.5 L1324.5 219.5 L1323.5 218.5 M1325.5 216.5 L1326.5 216.5 M1331.5 212.5 L1333.5 212.5 L1334.5 213.5 L1334.5 218.5 L1333.5 219.5 L1331.5 219.5 L1330.5 218.5 L1330.5 213.5 L1331.5 212.5 M1330.5 218.5 L1334.5 213.5"/>
<path class="t" stroke-width="1" d="M1320.5 250.5 L1318.5 250.5 L1316.5 252.5 L1316.5 256.5 L1317.5 257.5 L1319.5 257.5 L1320.5 256.5 L1320.5 255.5 L1319.5 254.5 L1316.5 254.5 M1324.5 250.5 L1326.5 250.5 L1327.5 251.5 L1327.5 252.5 L1326.5 254.5 L1324.5 254.5 L1323.5 252.5 L1323.5 251.5 L1324.5 250.5 M1324.5 254.5 L1323.5 255.5 L1323.5 256.5 L1324.5 257.5 L1326.5 257.5 L1327.5 256.5 L1327.5 255.5 L1326.5 254.5 M1331.5 250.5 L1333.5 250.5 L1334.5 251.5 L1334.5 256.5 L1333.5 257.5 L1331.5 257.5 L1330.5 256.5 L1330.5 251.5 L1331.5 250.5 M1330.5 256.5 L1334.5 251.5 M1337.5 257.5 L1337.5 250.5 L1340.5 250.5 L1341.5 251.5 L1341.5 252.5 L1340.5 254.5 L1337.5 254.5 M1340.5 254.5 L1341.5 256.5 L1341.5 257.5"/>
<path class="t" stroke-width="1" d="M1398.5 82.5 L1398.5 74.5 L1402.5 74.5 L1403.5 75.5 L1403.5 79.5 L1402.5 80.5 L1398.5 80.5 M1407.5 74.5 L1410.5 74.5 M1408.5 74.5 L1408.5 82.5 M1407.5 82.5 L1410.5 82.5 M1414.5 82.5 L1414.5 74.5 L1419.5 82.5 L1419.5 74.5 M1428.5 74.5 L1425.5 74.5 L1423.5 77.5 L1423.5 81.5 L1424.5 82.5 L1427.5 82.5 L1428.5 81.5 L1428.5 79.5 L1427.5 78.5 L1423.5 78.5"/>
<path class="t" stroke-width="1" d="M1398.5 112.5 L1398.5 104.5 L1402.5 104.5 L1403.5 105.5 L1403.5 109.5 L1402.5 110.5 L1398.5 110.5 M1407.5 104.5 L1410.5 104.5 M1408.5 104.5 L1408.5 112.5 M1407.5 112.5 L1410.5 112.5 M1414.5 112.5 L1414.5 104.5 L1419.5 112.5 L1419.5 104.5 M1428.5 104.5 L1423.5 104.5 L1423.5 107.5 L1427.5 107.5 L1428.5 109.5 L1428.5 111.5 L1427.5 112.5 L1424.5 112.5 L1423.5 111.5"/>
<path class="t" stroke-width="1" d="M1398.5 142.5 L1398.5 134.5 L1402.5 134.5 L1403.5 135.5 L1403.5 139.5 L1402.5 140.5 L1398.5 140.5 M1407.5 134.5 L1410.5 134.5 M1408.5 134.5 L1408.5 142.5 M1407.5 142.5 L1410.5 142.5 M1414.5 142.5 L1414.5 134.5 L1419.5 142.5 L1419.5 134.5 M1427.5 142.5 L1427.5 134.5 L1423.5 138.5 L1428.5 138.5"/>
<path class="t" stroke-width="1" d="M1398.5 172.5 L1398.5 164.5 L1402.5 164.5 L1403.5 165.5 L1403.5 169.5 L1402.5 170.5 L1398.5 170.5 M1407.5 164.5 L1410.5 164.5 M1408.5 164.5 L1408.5 172.5 M1407.5 172.5 L1410.5 172.5 M1414.5 172.5 L1414.5 164.5 L1419.5 172.5 L1419.5 164.5 M1423.5 165.5 L1424.5 164.5 L1427.5 164.5 L1428.5 165.5 L1428.5 167.5 L1427.5 168.5 L1428.5 169.5 L1428.5 171.5 L1427.5 172.5 L1424.5 172.5 L1423.5 171.5 M1425.5 168.5 L1427.5 168.5"/>
<path class="t" stroke-width="1" d="M1398.5 202.5 L1398.5 194.5 L1402.5 194.5 L1403.5 195.5 L1403.5 199.5 L1402.5 200.5 L1398.5 200.5 M1407.5 194.5 L1410.5 194.5 M1408.5 194.5 L1408.5 202.5 M1407.5 202.5 L1410.5 202.5 M1414.5 202.5 L1414.5 194.5 L1419.5 202.5 L1419.5 194.5 M1423.5 195.5 L1424.5 194.5 L1427.5 194.5 L1428.5 195.5 L1428.5 197.5 L1423.5 202.5 L1428.5 202.5"/>
<path class="t" stroke-width="1" d="M1398.5 232.5 L1398.5 224.5 L1402.5 224.5 L1403.5 225.5 L1403.5 229.5 L1402.5 230.5 L1398.5 230.5 M1408.5 224.5 L1411.5 224.5 M1409.5 224.5 L1409.5 232.5 M1408.5 232.5 L1411.5 232.5 M1415.5 232.5 L1415.5 224.5 L1420.5 232.5 L1420.5 224.5 M1425.5 225.5 L1426.5 224.5 L1426.5 232.5 M1425.5 232.5 L1428.5 232.5"/>
<path class="t" stroke-width="1" d="M1440.5 54.5 L1440.5 59.5 L1442.5 62.5 L1445.5 59.5 L1445.5 54.5 M1452.5 54.5 L1447.5 54.5 L1447.5 57.5 L1451.5 57.5 L1452.5 59.5 L1452.5 61.5 L1451.5 62.5 L1448.5 62.5 L1447.5 61.5"/>
<path class="t" stroke-width="1" d="M1467.5 62.5 L1467.5 54.5 L1471.5 54.5 L1472.5 55.5 L1472.5 57.5 L1471.5 58.5 L1467.5 58.5 M1470.5 58.5 L1472.5 61.5 L1472.5 62.5 M1475.5 54.5 L1478.5 54.5 M1476.5 54.5 L1476.5 62.5 M1475.5 62.5 L1478.5 62.5 M1481.5 62.5 L1481.5 57.5 L1483.5 54.5 L1486.5 57.5 L1486.5 62.5 M1481.5 59.5 L1486.5 59.5 M1488.5 55.5 L1489.5 54.5 L1492.5 54.5 L1493.5 55.5 L1493.5 57.5 L1492.5 58.5 L1493.5 59.5 L1493.5 61.5 L1492.5 62.5 L1489.5 62.5 L1488.5 61.5 M1490.5 58.5 L1492.5 58.5 M1496.5 54.5 L1499.5 54.5 L1500.5 55.5 L1500.5 57.5 L1499.5 58.5 L1496.5 58.5 L1495.5 57.5 L1495.5 55.5 L1496.5 54.5 M1496.5 58.5 L1495.5 59.5 L1495.5 61.5 L1496.5 62.5 L1499.5 62.5 L1500.5 61.5 L1500.5 59.5 L1499.5 58.5 M1502.5 55.5 L1503.5 54.5 L1506.5 54.5 L1507.5 55.5 L1507.5 57.5 L1502.5 62.5 L1507.5 62.5 M1509.5 63.5 L1514.5 63.5 M1521.5 54.5 L1518.5 54.5 L1516.5 57.5 L1516.5 61.5 L1517.5 62.5 L1520.5 62.5 L1521.5 61.5 L1521.5 59.5 L1520.5 58.5 L1516.5 58.5"/>
<path class="t" stroke-width="1" d="M1472.5 97.5 L1472.5 107.5 L1478.5 107.5 M1488.5 97.5 L1482.5 97.5 L1482.5 107.5 L1488.5 107.5 M1482.5 102.5 L1487.5 102.5 M1492.5 97.5 L1497.5 97.5 L1498.5 99.5 L1498.5 105.5 L1497.5 107.5 L1492.5 107.5 L1492.5 97.5 M1518.5 99.5 L1517.5 97.5 L1514.5 97.5 L1512.5 99.5 L1512.5 100.5 L1514.5 102.5 L1517.5 102.5 L1518.5 104.5 L1518.5 105.5 L1517.5 107.5 L1514.5 107.5 L1512.5 105.5 M1522.5 107.5 L1522.5 97.5 L1527.5 97.5 L1528.5 99.5 L1528.5 103.5 L1527.5 105.5 L1522.5 105.5"/>
<path class="t" stroke-width="1" d="M1472.5 142.5 L1472.5 151.5 L1478.5 151.5 M1488.5 142.5 L1482.5 142.5 L1482.5 151.5 L1488.5 151.5 M1482.5 146.5 L1486.5 146.5 M1493.5 142.5 L1497.5 142.5 L1499.5 144.5 L1499.5 150.5 L1497.5 151.5 L1493.5 151.5 L1493.5 142.5"/>
<path class="t" stroke-width="1" d="M1478.5 164.5 L1472.5 164.5 L1472.5 174.5 L1478.5 174.5 M1472.5 169.5 L1477.5 169.5 M1483.5 164.5 L1487.5 164.5 M1485.5 164.5 L1485.5 174.5 M1483.5 174.5 L1487.5 174.5 M1491.5 174.5 L1491.5 164.5 L1497.5 174.5 L1497.5 164.5 M1501.5 174.5 L1507.5 166.5 M1511.5 174.5 L1511.5 167.5 L1514.5 164.5 L1517.5 167.5 L1517.5 174.5 M1511.5 170.5 L1517.5 170.5 M1520.5 164.5 L1520.5 172.5 L1522.5 174.5 L1525.5 174.5 L1526.5 172.5 L1526.5 164.5 M1536.5 166.5 L1535.5 164.5 L1532.5 164.5 L1530.5 166.5 L1530.5 167.5 L1532.5 169.5 L1535.5 169.5 L1536.5 171.5 L1536.5 172.5 L1535.5 174.5 L1532.5 174.5 L1530.5 172.5"/>
<path class="t" stroke-width="1" d="M1472.5 201.5 L1472.5 211.5 L1478.5 211.5 M1488.5 201.5 L1482.5 201.5 L1482.5 211.5 L1488.5 211.5 M1482.5 206.5 L1487.5 206.5 M1492.5 201.5 L1497.5 201.5 L1498.5 203.5 L1498.5 209.5 L1497.5 211.5 L1492.5 211.5 L1492.5 201.5"/>
<path class="t" stroke-width="1" d="M1472.5 224.5 L1472.5 234.5 M1478.5 224.5 L1474.5 229.5 L1478.5 234.5 M1472.5 230.5 L1474.5 229.5 M1482.5 224.5 L1482.5 232.5 L1484.5 234.5 L1487.5 234.5 L1488.5 232.5 L1488.5 224.5 M1492.5 234.5 L1492.5 224.5 L1497.5 224.5 L1498.5 226.5 L1498.5 227.5 L1497.5 229.5 L1492.5 229.5 M1496.5 229.5 L1498.5 232.5 L1498.5 234.5 M1501.5 224.5 L1507.5 224.5 L1507.5 226.5 L1501.5 232.5 L1501.5 234.5 L1507.5 234.5 M1517.5 226.5 L1516.5 224.5 L1513.5 224.5 L1511.5 226.5 L1511.5 227.5 L1513.5 229.5 L1516.5 229.5 L1517.5 231.5 L1517.5 232.5 L1516.5 234.5 L1513.5 234.5 L1511.5 232.5 M1527.5 226.5 L1526.5 224.5 L1523.5 224.5 L1521.5 226.5 L1521.5 232.5 L1523.5 234.5 L1526.5 234.5 L1527.5 232.5 M1531.5 224.5 L1531.5 234.5 M1537.5 224.5 L1537.5 234.5 M1531.5 229.5 L1537.5 229.5 M1540.5 224.5 L1540.5 234.5 L1546.5 234.5"/>
<polygon points="149,345.5 151.5,343 170.5,343 173,345.5 173,349.5 170.5,352 151.5,352 149,349.5" class="f"/>
<polygon points="149,360.5 151.5,358 170.5,358 173,360.5 173,364.5 170.5,367 151.5,367 149,364.5" class="f"/>
<polygon points="149,375.5 151.5,373 170.5,373 173,375.5 173,379.5 170.5,382 151.5,382 149,379.5" class="f"/>
<polygon points="149,390.5 151.5,388 170.5,388 173,390.5 173,394.5 170.5,397 151.5,397 149,394.5" class="f"/>
<polygon points="149,405.5 151.5,403 170.5,403 173,405.5 173,409.5 170.5,412 151.5,412 149,409.5" class="f"/>
<polygon points="149,442.5 151.5,440 170.5,440 173,442.5 173,446.5 170.5,449 151.5,449 149,446.5" class="f"/>
<polygon points="149,457.5 151.5,455 170.5,455 173,457.5 173,461.5 170.5,464 151.5,464 149,461.5" class="f"/>
<polygon points="149,472.5 151.5,470 170.5,470 173,472.5 173,476.5 170.5,479 151.5,479 149,476.5" class="f"/>
<polygon points="149,487.5 151.5,485 170.5,485 173,487.5 173,491.5 170.5,494 151.5,494 149,491.5" class="f"/>
<polygon points="149,502.5 151.5,500 170.5,500 173,502.5 173,506.5 170.5,509 151.5,509 149,506.5" class="f"/>
<polyline class="w" points="173.5,347.5 184.5,347.5"/>
<polyline class="w" points="173.5,444.5 184.5,444.5"/>
<path class="t" stroke-width="1" d="M138.5 325.5 L138.5 330.5 L140.5 332.5 L142.5 330.5 L142.5 325.5 M147.5 326.5 L148.5 325.5 L150.5 325.5 L151.5 326.5 L151.5 327.5 L147.5 332.5 L151.5 332.5"/>
<path class="t" stroke-width="1" d="M138.5 422.5 L138.5 427.5 L140.5 429.5 L142.5 427.5 L142.5 422.5 M146.5 423.5 L147.5 422.5 L147.5 429.5 M146.5 429.5 L148.5 429.5"/>
<path class="t" stroke-width="1" d="M78.5 430.5 L78.5 420.5 L83.5 420.5 L84.5 422.5 L84.5 426.5 L83.5 428.5 L78.5 428.5 M88.5 420.5 L94.5 430.5 M94.5 420.5 L88.5 430.5"/>
<path class="t" stroke-width="1" d="M132.5 358.5 L126.5 358.5 L126.5 367.5 L132.5 367.5 M126.5 362.5 L130.5 362.5 M136.5 367.5 L136.5 358.5 L142.5 367.5 L142.5 358.5"/>
<path class="t" stroke-width="1" d="M123.5 375.5 L121.5 373.5 L118.5 373.5 L117.5 375.5 L117.5 381.5 L118.5 382.5 L121.5 382.5 L123.5 381.5 L123.5 377.5 L120.5 377.5 M127.5 382.5 L127.5 373.5 L133.5 382.5 L133.5 373.5 M137.5 373.5 L141.5 373.5 L143.5 375.5 L143.5 381.5 L141.5 382.5 L137.5 382.5 L137.5 373.5"/>
<path class="t" stroke-width="1" d="M128.5 397.5 L128.5 388.5 L132.5 388.5 L134.5 390.5 L134.5 393.5 L132.5 395.5 L128.5 395.5 M138.5 390.5 L140.5 388.5 L140.5 397.5 M138.5 397.5 L141.5 397.5"/>
<path class="t" stroke-width="1" d="M128.5 412.5 L128.5 403.5 L132.5 403.5 L134.5 405.5 L134.5 408.5 L132.5 410.5 L128.5 410.5 M139.5 403.5 L142.5 403.5 L144.5 405.5 L144.5 411.5 L142.5 412.5 L139.5 412.5 L138.5 411.5 L138.5 405.5 L139.5 403.5 M138.5 411.5 L144.5 405.5"/>
<path class="t" stroke-width="1" d="M132.5 455.5 L126.5 455.5 L126.5 464.5 L132.5 464.5 M126.5 459.5 L130.5 459.5 M136.5 464.5 L136.5 455.5 L142.5 464.5 L142.5 455.5"/>
<path class="t" stroke-width="1" d="M123.5 472.5 L121.5 470.5 L118.5 470.5 L117.5 472.5 L117.5 478.5 L118.5 479.5 L121.5 479.5 L123.5 478.5 L123.5 474.5 L120.5 474.5 M127.5 479.5 L127.5 470.5 L133.5 479.5 L133.5 470.5 M137.5 470.5 L141.5 470.5 L143.5 472.5 L143.5 478.5 L141.5 479.5 L137.5 479.5 L137.5 470.5"/>
<path class="t" stroke-width="1" d="M128.5 494.5 L128.5 485.5 L132.5 485.5 L134.5 487.5 L134.5 490.5 L132.5 492.5 L128.5 492.5 M138.5 487.5 L140.5 485.5 L140.5 494.5 M138.5 494.5 L141.5 494.5"/>
<path class="t" stroke-width="1" d="M128.5 509.5 L128.5 500.5 L132.5 500.5 L134.5 502.5 L134.5 505.5 L132.5 507.5 L128.5 507.5 M139.5 500.5 L142.5 500.5 L144.5 502.5 L144.5 508.5 L142.5 509.5 L139.5 509.5 L138.5 508.5 L138.5 502.5 L139.5 500.5 M138.5 508.5 L144.5 502.5"/>
<polyline class="w" points="173.5,362.5 235.5,362.5 235.5,459.5 173.5,459.5"/>
<polygon points="234.5,448.5 236.5,448.5 239.3,451.7 239.3,453.3 236.5,456.5 234.5,456.5 231.7,453.3 231.7,451.7" class="f"/>
<polyline class="w" points="173.5,377.5 220.5,377.5 220.5,474.5"/>
<polygon points="219.5,470.5 221.5,470.5 224.3,473.7 224.3,475.3 221.5,478.5 219.5,478.5 216.7,475.3 216.7,473.7" class="f"/>
<polyline class="w" points="173.5,392.5 205.5,392.5 205.5,489.5"/>
<polygon points="204.5,485.5 206.5,485.5 209.3,488.7 209.3,490.3 206.5,493.5 204.5,493.5 201.7,490.3 201.7,488.7" class="f"/>
<polyline class="w" points="173.5,407.5 190.5,407.5 190.5,504.5"/>
<polygon points="189.5,500.5 191.5,500.5 194.3,503.7 194.3,505.3 191.5,508.5 189.5,508.5 186.7,505.3 186.7,503.7" class="f"/>
<polyline class="w" points="173.5,489.5 258.5,489.5 258.5,549.5 310.5,549.5"/>
<polyline class="w" points="173.5,504.5 228.5,504.5 228.5,639.5 310.5,639.5"/>
<polyline class="w" points="235.5,452.5 310.5,452.5"/>
<rect x="311" y="445" width="30" height="15" class="b" stroke-width="2"/>
<rect x="311" y="542" width="30" height="15" class="b" stroke-width="2"/>
<rect x="311" y="632" width="30" height="15" class="b" stroke-width="2"/>
<path class="t" stroke-width="1" d="M311.5 437.5 L311.5 430.5 L314.5 430.5 L315.5 431.5 L315.5 432.5 L314.5 434.5 L311.5 434.5 M314.5 434.5 L315.5 436.5 L315.5 437.5 M318.5 431.5 L319.5 430.5 L319.5 437.5 M318.5 437.5 L320.5 437.5"/>
<path class="t" stroke-width="1" d="M311.5 468.5 L312.5 467.5 L314.5 467.5 L315.5 468.5 L315.5 469.5 L311.5 474.5 L315.5 474.5 M318.5 468.5 L319.5 467.5 L321.5 467.5 L322.5 468.5 L322.5 469.5 L318.5 474.5 L322.5 474.5 M325.5 467.5 L325.5 474.5 M329.5 467.5 L326.5 471.5 L329.5 474.5 M325.5 471.5 L326.5 471.5"/>
<path class="t" stroke-width="1" d="M311.5 535.5 L311.5 528.5 L314.5 528.5 L315.5 529.5 L315.5 530.5 L314.5 532.5 L311.5 532.5 M314.5 532.5 L315.5 534.5 L315.5 535.5 M317.5 529.5 L318.5 528.5 L320.5 528.5 L321.5 529.5 L321.5 530.5 L317.5 535.5 L321.5 535.5"/>
<path class="t" stroke-width="1" d="M311.5 566.5 L312.5 565.5 L314.5 565.5 L315.5 566.5 L315.5 567.5 L311.5 572.5 L315.5 572.5 M318.5 566.5 L319.5 565.5 L321.5 565.5 L322.5 566.5 L322.5 567.5 L318.5 572.5 L322.5 572.5 M325.5 565.5 L325.5 572.5 M329.5 565.5 L326.5 569.5 L329.5 572.5 M325.5 569.5 L326.5 569.5"/>
<path class="t" stroke-width="1" d="M311.5 624.5 L311.5 617.5 L314.5 617.5 L315.5 618.5 L315.5 619.5 L314.5 621.5 L311.5 621.5 M314.5 621.5 L315.5 623.5 L315.5 624.5 M317.5 618.5 L318.5 617.5 L320.5 617.5 L321.5 618.5 L321.5 619.5 L320.5 621.5 L321.5 622.5 L321.5 623.5 L320.5 624.5 L318.5 624.5 L317.5 623.5 M319.5 621.5 L320.5 621.5"/>
<path class="t" stroke-width="1" d="M311.5 656.5 L312.5 655.5 L314.5 655.5 L315.5 656.5 L315.5 657.5 L311.5 662.5 L315.5 662.5 M318.5 656.5 L319.5 655.5 L321.5 655.5 L322.5 656.5 L322.5 657.5 L318.5 662.5 L322.5 662.5 M325.5 655.5 L325.5 662.5 M329.5 655.5 L326.5 659.5 L329.5 662.5 M325.5 659.5 L326.5 659.5"/>
<polyline class="w" points="342.5,452.5 422.5,452.5"/>
<polyline class="w" points="342.5,549.5 422.5,549.5"/>
<polyline class="w" points="342.5,639.5 422.5,639.5"/>
<polyline class="w" points="363.5,482.5 422.5,482.5"/>
<polyline class="w" points="363.5,482.5 363.5,669.5"/>
<polyline class="w" points="363.5,579.5 422.5,579.5"/>
<polyline class="w" points="63.5,669.5 422.5,669.5"/>
<polygon points="362.5,575.5 364.5,575.5 367.3,578.7 367.3,580.3 364.5,583.5 362.5,583.5 359.7,580.3 359.7,578.7" class="f"/>
<polygon points="362.5,665.5 364.5,665.5 367.3,668.7 367.3,670.3 364.5,673.5 362.5,673.5 359.7,670.3 359.7,668.7" class="f"/>
<path class="t" stroke-width="1" d="M378.5 449.5 L378.5 441.5 L382.5 441.5 L383.5 442.5 L383.5 446.5 L382.5 447.5 L378.5 447.5 M387.5 441.5 L390.5 441.5 M388.5 441.5 L388.5 449.5 M387.5 449.5 L390.5 449.5 M394.5 449.5 L394.5 441.5 L399.5 449.5 L399.5 441.5 M402.5 441.5 L407.5 441.5 L407.5 442.5 L402.5 448.5 L402.5 449.5"/>
<path class="t" stroke-width="1" d="M378.5 479.5 L378.5 471.5 L382.5 471.5 L383.5 472.5 L383.5 476.5 L382.5 477.5 L378.5 477.5 M387.5 471.5 L390.5 471.5 M388.5 471.5 L388.5 479.5 M387.5 479.5 L390.5 479.5 M394.5 479.5 L394.5 471.5 L399.5 479.5 L399.5 471.5 M407.5 471.5 L404.5 471.5 L402.5 474.5 L402.5 478.5 L403.5 479.5 L406.5 479.5 L407.5 478.5 L407.5 476.5 L406.5 475.5 L402.5 475.5"/>
<path class="t" stroke-width="1" d="M378.5 546.5 L378.5 538.5 L382.5 538.5 L383.5 539.5 L383.5 543.5 L382.5 544.5 L378.5 544.5 M387.5 538.5 L390.5 538.5 M388.5 538.5 L388.5 546.5 M387.5 546.5 L390.5 546.5 M394.5 546.5 L394.5 538.5 L399.5 546.5 L399.5 538.5 M407.5 538.5 L402.5 538.5 L402.5 541.5 L406.5 541.5 L407.5 543.5 L407.5 545.5 L406.5 546.5 L403.5 546.5 L402.5 545.5"/>
<path class="t" stroke-width="1" d="M378.5 576.5 L378.5 568.5 L382.5 568.5 L383.5 569.5 L383.5 573.5 L382.5 574.5 L378.5 574.5 M387.5 568.5 L390.5 568.5 M388.5 568.5 L388.5 576.5 M387.5 576.5 L390.5 576.5 M394.5 576.5 L394.5 568.5 L399.5 576.5 L399.5 568.5 M406.5 576.5 L406.5 568.5 L402.5 572.5 L407.5 572.5"/>
<path class="t" stroke-width="1" d="M378.5 636.5 L378.5 628.5 L382.5 628.5 L383.5 629.5 L383.5 633.5 L382.5 634.5 L378.5 634.5 M387.5 628.5 L390.5 628.5 M388.5 628.5 L388.5 636.5 M387.5 636.5 L390.5 636.5 M394.5 636.5 L394.5 628.5 L399.5 636.5 L399.5 628.5 M403.5 636.5 L406.5 636.5 L407.5 635.5 L407.5 629.5 L406.5 628.5 L403.5 628.5 L402.5 629.5 L402.5 631.5 L403.5 632.5 L407.5 632.5"/>
<path class="t" stroke-width="1" d="M378.5 666.5 L378.5 658.5 L382.5 658.5 L383.5 659.5 L383.5 663.5 L382.5 664.5 L378.5 664.5 M387.5 658.5 L390.5 658.5 M388.5 658.5 L388.5 666.5 M387.5 666.5 L390.5 666.5 M394.5 666.5 L394.5 658.5 L399.5 666.5 L399.5 658.5 M403.5 658.5 L406.5 658.5 L407.5 659.5 L407.5 661.5 L406.5 662.5 L403.5 662.5 L402.5 661.5 L402.5 659.5 L403.5 658.5 M403.5 662.5 L402.5 663.5 L402.5 665.5 L403.5 666.5 L406.5 666.5 L407.5 665.5 L407.5 663.5 L406.5 662.5"/>
<polygon points="423.5,437 468.5,467.5 423.5,498" class="p" stroke-width="3" stroke-linejoin="bevel"/>
<path class="t" stroke-width="1" d="M438.5 430.5 L441.5 430.5 M439.5 430.5 L439.5 437.5 M438.5 437.5 L441.5 437.5 M448.5 431.5 L447.5 430.5 L445.5 430.5 L444.5 431.5 L444.5 436.5 L445.5 437.5 L447.5 437.5 L448.5 436.5 M452.5 431.5 L453.5 430.5 L453.5 437.5 M452.5 437.5 L454.5 437.5 M457.5 430.5 L457.5 437.5 M461.5 430.5 L458.5 434.5 L461.5 437.5 M457.5 434.5 L458.5 434.5 M465.5 430.5 L467.5 430.5 L468.5 431.5 L468.5 436.5 L467.5 437.5 L465.5 437.5 L464.5 436.5 L464.5 431.5 L465.5 430.5 M471.5 437.5 L471.5 430.5 L473.5 432.5 L475.5 430.5 L475.5 437.5 M477.5 437.5 L477.5 430.5 L480.5 430.5 L481.5 431.5 L481.5 434.5 L480.5 435.5 L477.5 435.5 M485.5 431.5 L486.5 430.5 L486.5 437.5 M485.5 437.5 L487.5 437.5"/>
<path class="t" stroke-width="1" d="M431.5 463.5 L434.5 463.5 L435.5 464.5 L435.5 470.5 L434.5 471.5 L431.5 471.5 L430.5 470.5 L430.5 464.5 L431.5 463.5 M439.5 463.5 L439.5 470.5 L440.5 471.5 L443.5 471.5 L444.5 470.5 L444.5 463.5 M447.5 463.5 L452.5 463.5 M449.5 463.5 L449.5 471.5"/>
<path class="t" stroke-width="1" d="M438.5 490.5 L438.5 497.5 L442.5 497.5 M445.5 497.5 L445.5 490.5 L447.5 492.5 L449.5 490.5 L449.5 497.5 M452.5 491.5 L453.5 490.5 L455.5 490.5 L456.5 491.5 L456.5 492.5 L455.5 494.5 L456.5 495.5 L456.5 496.5 L455.5 497.5 L453.5 497.5 L452.5 496.5 M454.5 494.5 L455.5 494.5 M459.5 491.5 L460.5 490.5 L462.5 490.5 L463.5 491.5 L463.5 492.5 L462.5 494.5 L463.5 495.5 L463.5 496.5 L462.5 497.5 L460.5 497.5 L459.5 496.5 M461.5 494.5 L462.5 494.5 M467.5 497.5 L469.5 497.5 L470.5 496.5 L470.5 491.5 L469.5 490.5 L467.5 490.5 L466.5 491.5 L466.5 492.5 L467.5 494.5 L470.5 494.5"/>
<line x1="437" y1="453.5" x2="444" y2="453.5" stroke-width="1.2"/>
<line x1="440.5" y1="449.5" x2="440.5" y2="456.5" stroke-width="1.2"/>
<line x1="437" y1="482.5" x2="445" y2="482.5" stroke-width="1.2"/>
<polygon points="423.5,534 468.5,564.5 423.5,595" class="p" stroke-width="3" stroke-linejoin="bevel"/>
<path class="t" stroke-width="1" d="M438.5 527.5 L441.5 527.5 M439.5 527.5 L439.5 534.5 M438.5 534.5 L441.5 534.5 M448.5 528.5 L447.5 527.5 L445.5 527.5 L444.5 528.5 L444.5 533.5 L445.5 534.5 L447.5 534.5 L448.5 533.5 M451.5 528.5 L452.5 527.5 L452.5 534.5 M451.5 534.5 L453.5 534.5 M457.5 527.5 L457.5 534.5 M461.5 527.5 L458.5 531.5 L461.5 534.5 M457.5 531.5 L458.5 531.5 M464.5 527.5 L466.5 527.5 L467.5 528.5 L467.5 533.5 L466.5 534.5 L464.5 534.5 L463.5 533.5 L463.5 528.5 L464.5 527.5 M470.5 534.5 L470.5 527.5 L472.5 529.5 L474.5 527.5 L474.5 534.5 M476.5 534.5 L476.5 527.5 L479.5 527.5 L480.5 528.5 L480.5 531.5 L479.5 532.5 L476.5 532.5 M483.5 528.5 L484.5 527.5 L486.5 527.5 L487.5 528.5 L487.5 529.5 L483.5 534.5 L487.5 534.5"/>
<path class="t" stroke-width="1" d="M431.5 560.5 L434.5 560.5 L435.5 561.5 L435.5 567.5 L434.5 568.5 L431.5 568.5 L430.5 567.5 L430.5 561.5 L431.5 560.5 M439.5 560.5 L439.5 567.5 L440.5 568.5 L443.5 568.5 L444.5 567.5 L444.5 560.5 M447.5 560.5 L452.5 560.5 M449.5 560.5 L449.5 568.5"/>
<path class="t" stroke-width="1" d="M438.5 587.5 L438.5 594.5 L442.5 594.5 M445.5 594.5 L445.5 587.5 L447.5 589.5 L449.5 587.5 L449.5 594.5 M452.5 588.5 L453.5 587.5 L455.5 587.5 L456.5 588.5 L456.5 589.5 L455.5 591.5 L456.5 592.5 L456.5 593.5 L455.5 594.5 L453.5 594.5 L452.5 593.5 M454.5 591.5 L455.5 591.5 M459.5 588.5 L460.5 587.5 L462.5 587.5 L463.5 588.5 L463.5 589.5 L462.5 591.5 L463.5 592.5 L463.5 593.5 L462.5 594.5 L460.5 594.5 L459.5 593.5 M461.5 591.5 L462.5 591.5 M467.5 594.5 L469.5 594.5 L470.5 593.5 L470.5 588.5 L469.5 587.5 L467.5 587.5 L466.5 588.5 L466.5 589.5 L467.5 591.5 L470.5 591.5"/>
<line x1="437" y1="550.5" x2="444" y2="550.5" stroke-width="1.2"/>
<line x1="440.5" y1="546.5" x2="440.5" y2="553.5" stroke-width="1.2"/>
<line x1="437" y1="579.5" x2="445" y2="579.5" stroke-width="1.2"/>
<polygon points="423.5,624 468.5,654.5 423.5,685" class="p" stroke-width="3" stroke-linejoin="bevel"/>
<path class="t" stroke-width="1" d="M438.5 617.5 L441.5 617.5 M439.5 617.5 L439.5 624.5 M438.5 624.5 L441.5 624.5 M448.5 618.5 L447.5 617.5 L445.5 617.5 L444.5 618.5 L444.5 623.5 L445.5 624.5 L447.5 624.5 L448.5 623.5 M451.5 618.5 L452.5 617.5 L452.5 624.5 M451.5 624.5 L453.5 624.5 M457.5 617.5 L457.5 624.5 M461.5 617.5 L458.5 621.5 L461.5 624.5 M457.5 621.5 L458.5 621.5 M464.5 617.5 L466.5 617.5 L467.5 618.5 L467.5 623.5 L466.5 624.5 L464.5 624.5 L463.5 623.5 L463.5 618.5 L464.5 617.5 M470.5 624.5 L470.5 617.5 L472.5 619.5 L474.5 617.5 L474.5 624.5 M476.5 624.5 L476.5 617.5 L479.5 617.5 L480.5 618.5 L480.5 621.5 L479.5 622.5 L476.5 622.5 M483.5 618.5 L484.5 617.5 L486.5 617.5 L487.5 618.5 L487.5 619.5 L486.5 621.5 L487.5 622.5 L487.5 623.5 L486.5 624.5 L484.5 624.5 L483.5 623.5 M485.5 621.5 L486.5 621.5"/>
<path class="t" stroke-width="1" d="M431.5 650.5 L434.5 650.5 L435.5 651.5 L435.5 657.5 L434.5 658.5 L431.5 658.5 L430.5 657.5 L430.5 651.5 L431.5 650.5 M439.5 650.5 L439.5 657.5 L440.5 658.5 L443.5 658.5 L444.5 657.5 L444.5 650.5 M447.5 650.5 L452.5 650.5 M449.5 650.5 L449.5 658.5"/>
<path class="t" stroke-width="1" d="M438.5 677.5 L438.5 684.5 L442.5 684.5 M445.5 684.5 L445.5 677.5 L447.5 679.5 L449.5 677.5 L449.5 684.5 M452.5 678.5 L453.5 677.5 L455.5 677.5 L456.5 678.5 L456.5 679.5 L455.5 681.5 L456.5 682.5 L456.5 683.5 L455.5 684.5 L453.5 684.5 L452.5 683.5 M454.5 681.5 L455.5 681.5 M459.5 678.5 L460.5 677.5 L462.5 677.5 L463.5 678.5 L463.5 679.5 L462.5 681.5 L463.5 682.5 L463.5 683.5 L462.5 684.5 L460.5 684.5 L459.5 683.5 M461.5 681.5 L462.5 681.5 M467.5 684.5 L469.5 684.5 L470.5 683.5 L470.5 678.5 L469.5 677.5 L467.5 677.5 L466.5 678.5 L466.5 679.5 L467.5 681.5 L470.5 681.5"/>
<line x1="437" y1="640.5" x2="444" y2="640.5" stroke-width="1.2"/>
<line x1="440.5" y1="636.5" x2="440.5" y2="643.5" stroke-width="1.2"/>
<line x1="437" y1="669.5" x2="445" y2="669.5" stroke-width="1.2"/>
<path class="t" stroke-width="1" d="M486.5 464.5 L486.5 456.5 L490.5 456.5 L491.5 457.5 L491.5 461.5 L490.5 462.5 L486.5 462.5 M495.5 456.5 L498.5 456.5 M496.5 456.5 L496.5 464.5 M495.5 464.5 L498.5 464.5 M502.5 464.5 L502.5 456.5 L507.5 464.5 L507.5 456.5 M510.5 457.5 L511.5 456.5 L511.5 464.5 M510.5 464.5 L513.5 464.5"/>
<path class="t" stroke-width="1" d="M486.5 562.5 L486.5 554.5 L490.5 554.5 L491.5 555.5 L491.5 559.5 L490.5 560.5 L486.5 560.5 M495.5 554.5 L498.5 554.5 M496.5 554.5 L496.5 562.5 M495.5 562.5 L498.5 562.5 M503.5 562.5 L503.5 554.5 L508.5 562.5 L508.5 554.5 M511.5 555.5 L512.5 554.5 L515.5 554.5 L516.5 555.5 L516.5 557.5 L511.5 562.5 L516.5 562.5"/>
<path class="t" stroke-width="1" d="M486.5 652.5 L486.5 644.5 L490.5 644.5 L491.5 645.5 L491.5 649.5 L490.5 650.5 L486.5 650.5 M495.5 644.5 L498.5 644.5 M496.5 644.5 L496.5 652.5 M495.5 652.5 L498.5 652.5 M501.5 652.5 L501.5 644.5 L506.5 652.5 L506.5 644.5 M510.5 645.5 L511.5 644.5 L511.5 652.5 M510.5 652.5 L513.5 652.5 M521.5 652.5 L521.5 644.5 L517.5 648.5 L522.5 648.5"/>
<path class="t" stroke-width="1" d="M138.5 554.5 L138.5 561.5 L141.5 564.5 L144.5 561.5 L144.5 554.5 M154.5 556.5 L153.5 554.5 L150.5 554.5 L148.5 556.5 L148.5 562.5 L150.5 564.5 L153.5 564.5 L154.5 562.5 M165.5 556.5 L164.5 554.5 L161.5 554.5 L159.5 556.5 L159.5 562.5 L161.5 564.5 L164.5 564.5 L165.5 562.5"/>
<polyline class="w" points="130.5,557.5 130.5,602.5"/>
<rect x="123.5" y="602.5" width="15" height="30" class="b" stroke-width="3"/>
<polyline class="w" points="130.5,633.5 130.5,707.5"/>
<rect x="123.5" y="707.5" width="15" height="30" class="b" stroke-width="3"/>
<polyline class="w" points="130.5,738.5 130.5,782.5"/>
<line x1="122.5" y1="782.5" x2="138.5" y2="782.5" stroke-width="1.2"/>
<polygon points="129.5,665.5 131.5,665.5 134.3,668.7 134.3,670.3 131.5,673.5 129.5,673.5 126.7,670.3 126.7,668.7" class="f"/>
<polygon points="129.5,763.5 131.5,763.5 134.3,766.7 134.3,768.3 131.5,771.5 129.5,771.5 126.7,768.3 126.7,766.7" class="f"/>
<polyline class="w" points="63.5,669.5 63.5,714.5"/>
<rect x="55" y="712.75" width="17" height="2.5" class="f"/>
<rect x="55" y="720.75" width="17" height="2.5" class="f"/>
<polyline class="w" points="63.5,722.5 63.5,767.5 130.5,767.5"/>
<path class="t" stroke-width="1" d="M115.5 633.5 L108.5 633.5 L108.5 630.5 L109.5 629.5 L110.5 629.5 L112.5 630.5 L112.5 633.5 M112.5 630.5 L114.5 629.5 L115.5 629.5 M115.5 622.5 L108.5 622.5 L112.5 625.5 L112.5 621.5"/>
<path class="t" stroke-width="1" d="M148.5 633.5 L147.5 632.5 L154.5 632.5 M154.5 633.5 L154.5 631.5 M147.5 625.5 L147.5 623.5 L148.5 622.5 L153.5 622.5 L154.5 623.5 L154.5 625.5 L153.5 626.5 L148.5 626.5 L147.5 625.5 M153.5 626.5 L148.5 622.5 M147.5 618.5 L154.5 618.5 M147.5 614.5 L151.5 617.5 L154.5 614.5 M151.5 618.5 L151.5 617.5"/>
<path class="t" stroke-width="1" d="M115.5 737.5 L108.5 737.5 L108.5 734.5 L109.5 733.5 L110.5 733.5 L112.5 734.5 L112.5 737.5 M112.5 734.5 L114.5 733.5 L115.5 733.5 M108.5 725.5 L108.5 729.5 L111.5 729.5 L111.5 726.5 L112.5 725.5 L114.5 725.5 L115.5 726.5 L115.5 728.5 L114.5 729.5"/>
<path class="t" stroke-width="1" d="M148.5 737.5 L147.5 736.5 L154.5 736.5 M154.5 737.5 L154.5 735.5 M147.5 729.5 L147.5 727.5 L148.5 726.5 L153.5 726.5 L154.5 727.5 L154.5 729.5 L153.5 730.5 L148.5 730.5 L147.5 729.5 M153.5 730.5 L148.5 726.5 M147.5 722.5 L154.5 722.5 M147.5 718.5 L151.5 721.5 L154.5 718.5 M151.5 722.5 L151.5 721.5"/>
<path class="t" stroke-width="1" d="M43.5 725.5 L42.5 726.5 L42.5 728.5 L43.5 729.5 L48.5 729.5 L49.5 728.5 L49.5 726.5 L48.5 725.5 M43.5 722.5 L42.5 721.5 L49.5 721.5 M49.5 722.5 L49.5 720.5"/>
<path class="t" stroke-width="1" d="M79.5 729.5 L78.5 728.5 L85.5 728.5 M85.5 729.5 L85.5 727.5 M78.5 722.5 L78.5 720.5 L79.5 719.5 L84.5 719.5 L85.5 720.5 L85.5 722.5 L84.5 723.5 L79.5 723.5 L78.5 722.5 M84.5 723.5 L79.5 719.5 M78.5 715.5 L78.5 713.5 L79.5 712.5 L84.5 712.5 L85.5 713.5 L85.5 715.5 L84.5 716.5 L79.5 716.5 L78.5 715.5 M84.5 716.5 L79.5 712.5 M85.5 709.5 L80.5 709.5 L80.5 706.5 L82.5 705.5 L85.5 705.5 M78.5 698.5 L78.5 702.5 L85.5 702.5 M82.5 702.5 L82.5 699.5"/>
<line x1="671" y1="305" x2="671" y2="330" stroke-width="2.2"/>
<polyline class="w" points="573.5,317.5 670.5,317.5"/>
<line x1="671" y1="316" x2="686.5" y2="301.5" stroke-width="2"/>
<polyline class="w" points="686.5,302.5 686.5,272.5 1240.5,272.5"/>
<line x1="671" y1="318" x2="682" y2="328.5" stroke-width="2"/>
<polygon points="687.5,324 687.5,334 677.5,334" class="f"/>
<polyline class="w" points="686.5,333.5 686.5,369.5"/>
<line x1="678.5" y1="369.5" x2="694.5" y2="369.5" stroke-width="1.2"/>
<path class="t" stroke-width="1" d="M644.5 287.5 L648.5 287.5 M646.5 287.5 L646.5 294.5 M651.5 294.5 L651.5 287.5 L654.5 287.5 L655.5 288.5 L655.5 289.5 L654.5 291.5 L651.5 291.5 M654.5 291.5 L655.5 293.5 L655.5 294.5 M658.5 288.5 L659.5 287.5 L659.5 294.5 M658.5 294.5 L660.5 294.5"/>
<path class="t" stroke-width="1" d="M641.5 343.5 L641.5 336.5 L644.5 336.5 L645.5 337.5 L645.5 338.5 L644.5 340.5 L641.5 340.5 M644.5 340.5 L645.5 341.5 L645.5 342.5 L644.5 343.5 L641.5 343.5 M652.5 337.5 L651.5 336.5 L649.5 336.5 L648.5 337.5 L648.5 342.5 L649.5 343.5 L651.5 343.5 L652.5 342.5 M659.5 336.5 L655.5 336.5 L655.5 339.5 L658.5 339.5 L659.5 340.5 L659.5 342.5 L658.5 343.5 L656.5 343.5 L655.5 342.5 M665.5 343.5 L665.5 336.5 L662.5 340.5 L666.5 340.5 M669.5 336.5 L673.5 336.5 L673.5 337.5 L669.5 342.5 L669.5 343.5 M680.5 337.5 L679.5 336.5 L677.5 336.5 L676.5 337.5 L676.5 342.5 L677.5 343.5 L679.5 343.5 L680.5 342.5"/>
<polygon points="572.5,373.5 574.5,373.5 577.3,376.7 577.3,378.3 574.5,381.5 572.5,381.5 569.7,378.3 569.7,376.7" class="f"/>
<polyline class="w" points="573.5,317.5 573.5,377.5"/>
<polyline class="w" points="573.5,377.5 622.5,377.5"/>
<rect x="622.5" y="370" width="29" height="14.5" class="b" stroke-width="2"/>
<polyline class="w" points="652.5,377.5 708.5,377.5 708.5,332.5 1008.5,332.5"/>
<path class="t" stroke-width="1" d="M622.5 363.5 L622.5 356.5 L625.5 356.5 L626.5 357.5 L626.5 358.5 L625.5 360.5 L622.5 360.5 M625.5 360.5 L626.5 362.5 L626.5 363.5 M629.5 357.5 L630.5 356.5 L632.5 356.5 L633.5 357.5 L633.5 358.5 L632.5 360.5 L633.5 361.5 L633.5 362.5 L632.5 363.5 L630.5 363.5 L629.5 362.5 M631.5 360.5 L632.5 360.5 M636.5 357.5 L637.5 356.5 L637.5 363.5 M636.5 363.5 L638.5 363.5"/>
<path class="t" stroke-width="1" d="M622.5 394.5 L623.5 393.5 L623.5 400.5 M622.5 400.5 L624.5 400.5 M629.5 393.5 L631.5 393.5 L632.5 394.5 L632.5 399.5 L631.5 400.5 L629.5 400.5 L628.5 399.5 L628.5 394.5 L629.5 393.5 M628.5 399.5 L632.5 394.5 M636.5 393.5 L638.5 393.5 L639.5 394.5 L639.5 399.5 L638.5 400.5 L636.5 400.5 L635.5 399.5 L635.5 394.5 L636.5 393.5 M635.5 399.5 L639.5 394.5 M642.5 393.5 L642.5 400.5 M646.5 393.5 L643.5 397.5 L646.5 400.5 M642.5 397.5 L643.5 397.5"/>
<polyline class="w" points="573.5,377.5 547.5,377.5 547.5,407.5"/>
<rect x="540" y="407.5" width="15" height="30" class="b" stroke-width="3"/>
<polyline class="w" points="547.5,438.5 547.5,497.5 652.5,497.5"/>
<path class="t" stroke-width="1" d="M531.5 437.5 L524.5 437.5 L524.5 434.5 L525.5 433.5 L526.5 433.5 L528.5 434.5 L528.5 437.5 M528.5 434.5 L530.5 433.5 L531.5 433.5 M525.5 429.5 L524.5 428.5 L524.5 426.5 L525.5 425.5 L526.5 425.5 L531.5 429.5 L531.5 425.5 M524.5 417.5 L524.5 419.5 L526.5 421.5 L530.5 421.5 L531.5 420.5 L531.5 418.5 L530.5 417.5 L529.5 417.5 L528.5 418.5 L528.5 421.5"/>
<path class="t" stroke-width="1" d="M571.5 434.5 L564.5 434.5 L568.5 437.5 L568.5 433.5 M564.5 429.5 L571.5 429.5 M564.5 425.5 L568.5 428.5 L571.5 425.5 M568.5 429.5 L568.5 428.5 M564.5 422.5 L564.5 418.5 L565.5 418.5 L570.5 422.5 L571.5 422.5"/>
<polyline class="w" points="469.5,467.5 547.5,467.5"/>
<polygon points="546.5,463.5 548.5,463.5 551.3,466.7 551.3,468.3 548.5,471.5 546.5,471.5 543.7,468.3 543.7,466.7" class="f"/>
<polygon points="668,489 668,506 653,497.5" class="f"/>
<line x1="652.5" y1="489" x2="652.5" y2="506" stroke-width="2.2"/>
<polyline class="w" points="667.5,497.5 1076.5,497.5"/>
<path class="t" stroke-width="1" d="M644.5 475.5 L647.5 475.5 L648.5 476.5 L648.5 481.5 L647.5 482.5 L644.5 482.5 L644.5 475.5 M655.5 482.5 L655.5 475.5 L652.5 479.5 L656.5 479.5"/>
<path class="t" stroke-width="1" d="M644.5 513.5 L645.5 512.5 L645.5 519.5 M644.5 519.5 L646.5 519.5 M650.5 519.5 L650.5 512.5 L654.5 519.5 L654.5 512.5 M660.5 519.5 L660.5 512.5 L657.5 516.5 L661.5 516.5 M664.5 513.5 L665.5 512.5 L665.5 519.5 M664.5 519.5 L666.5 519.5 M673.5 519.5 L673.5 512.5 L670.5 516.5 L674.5 516.5 M678.5 512.5 L680.5 512.5 L681.5 513.5 L681.5 514.5 L680.5 516.5 L678.5 516.5 L677.5 514.5 L677.5 513.5 L678.5 512.5 M678.5 516.5 L677.5 517.5 L677.5 518.5 L678.5 519.5 L680.5 519.5 L681.5 518.5 L681.5 517.5 L680.5 516.5"/>
<polygon points="729.5,328.5 731.5,328.5 734.3,331.7 734.3,333.3 731.5,336.5 729.5,336.5 726.7,333.3 726.7,331.7" class="f"/>
<polygon points="834.5,328.5 836.5,328.5 839.3,331.7 839.3,333.3 836.5,336.5 834.5,336.5 831.7,333.3 831.7,331.7" class="f"/>
<polygon points="902.5,328.5 904.5,328.5 907.3,331.7 907.3,333.3 904.5,336.5 902.5,336.5 899.7,333.3 899.7,331.7" class="f"/>
<polygon points="977.5,328.5 979.5,328.5 982.3,331.7 982.3,333.3 979.5,336.5 977.5,336.5 974.7,333.3 974.7,331.7" class="f"/>
<polyline class="w" points="730.5,332.5 730.5,377.5"/>
<rect x="723.5" y="377.5" width="15" height="30" class="b" stroke-width="3"/>
<polyline class="w" points="835.5,332.5 835.5,377.5"/>
<rect x="828.5" y="377.5" width="15" height="30" class="b" stroke-width="3"/>
<polyline class="w" points="903.5,332.5 903.5,377.5"/>
<rect x="896.5" y="377.5" width="15" height="30" class="b" stroke-width="3"/>
<polyline class="w" points="978.5,332.5 978.5,377.5"/>
<rect x="971.5" y="377.5" width="15" height="30" class="b" stroke-width="3"/>
<polyline class="w" points="903.5,332.5 903.5,317.5"/>
<path class="t" stroke-width="1" d="M902.5 307.5 L902.5 313.5 L905.5 316.5 L908.5 313.5 L908.5 307.5 M919.5 309.5 L917.5 307.5 L914.5 307.5 L913.5 309.5 L913.5 315.5 L914.5 316.5 L917.5 316.5 L919.5 315.5 M929.5 309.5 L927.5 307.5 L924.5 307.5 L923.5 309.5 L923.5 315.5 L924.5 316.5 L927.5 316.5 L929.5 315.5"/>
<path class="t" stroke-width="1" d="M715.5 407.5 L708.5 407.5 L708.5 404.5 L709.5 403.5 L710.5 403.5 L712.5 404.5 L712.5 407.5 M712.5 404.5 L714.5 403.5 L715.5 403.5 M709.5 399.5 L708.5 398.5 L715.5 398.5 M715.5 399.5 L715.5 397.5 M708.5 392.5 L708.5 390.5 L709.5 389.5 L714.5 389.5 L715.5 390.5 L715.5 392.5 L714.5 393.5 L709.5 393.5 L708.5 392.5 M714.5 393.5 L709.5 389.5"/>
<path class="t" stroke-width="1" d="M754.5 404.5 L747.5 404.5 L751.5 407.5 L751.5 403.5 M747.5 400.5 L754.5 400.5 M747.5 396.5 L751.5 399.5 L754.5 396.5 M751.5 400.5 L751.5 399.5 M747.5 393.5 L747.5 389.5 L748.5 389.5 L753.5 393.5 L754.5 393.5"/>
<path class="t" stroke-width="1" d="M821.5 407.5 L814.5 407.5 L814.5 404.5 L815.5 403.5 L816.5 403.5 L818.5 404.5 L818.5 407.5 M818.5 404.5 L820.5 403.5 L821.5 403.5 M815.5 398.5 L814.5 397.5 L821.5 397.5 M821.5 398.5 L821.5 396.5 M815.5 392.5 L814.5 391.5 L814.5 389.5 L815.5 388.5 L816.5 388.5 L818.5 389.5 L819.5 388.5 L820.5 388.5 L821.5 389.5 L821.5 391.5 L820.5 392.5 M818.5 390.5 L818.5 389.5"/>
<path class="t" stroke-width="1" d="M859.5 404.5 L852.5 404.5 L856.5 407.5 L856.5 403.5 M852.5 399.5 L859.5 399.5 M852.5 395.5 L856.5 398.5 L859.5 395.5 M856.5 399.5 L856.5 398.5 M852.5 391.5 L852.5 387.5 L853.5 387.5 L858.5 391.5 L859.5 391.5"/>
<path class="t" stroke-width="1" d="M888.5 407.5 L881.5 407.5 L881.5 404.5 L882.5 403.5 L883.5 403.5 L885.5 404.5 L885.5 407.5 M885.5 404.5 L887.5 403.5 L888.5 403.5 M888.5 397.5 L888.5 395.5 L887.5 394.5 L882.5 394.5 L881.5 395.5 L881.5 397.5 L882.5 398.5 L883.5 398.5 L885.5 397.5 L885.5 394.5"/>
<path class="t" stroke-width="1" d="M925.5 404.5 L918.5 404.5 L922.5 407.5 L922.5 403.5 M918.5 399.5 L925.5 399.5 M918.5 395.5 L922.5 398.5 L925.5 395.5 M922.5 399.5 L922.5 398.5 M918.5 391.5 L918.5 387.5 L919.5 387.5 L924.5 391.5 L925.5 391.5"/>
<path class="t" stroke-width="1" d="M963.5 407.5 L956.5 407.5 L956.5 404.5 L957.5 403.5 L958.5 403.5 L960.5 404.5 L960.5 407.5 M960.5 404.5 L962.5 403.5 L963.5 403.5 M956.5 397.5 L956.5 395.5 L957.5 394.5 L958.5 394.5 L960.5 395.5 L960.5 397.5 L958.5 398.5 L957.5 398.5 L956.5 397.5 M960.5 397.5 L961.5 398.5 L962.5 398.5 L963.5 397.5 L963.5 395.5 L962.5 394.5 L961.5 394.5 L960.5 395.5"/>
<path class="t" stroke-width="1" d="M1001.5 404.5 L994.5 404.5 L998.5 407.5 L998.5 403.5 M994.5 399.5 L1001.5 399.5 M994.5 395.5 L998.5 398.5 L1001.5 395.5 M998.5 399.5 L998.5 398.5 M994.5 391.5 L994.5 387.5 L995.5 387.5 L1000.5 391.5 L1001.5 391.5"/>
<rect x="1008.5" y="325" width="30" height="15" class="b" stroke-width="2"/>
<path class="t" stroke-width="1" d="M1008.5 317.5 L1008.5 310.5 L1011.5 310.5 L1012.5 311.5 L1012.5 312.5 L1011.5 314.5 L1008.5 314.5 M1011.5 314.5 L1012.5 316.5 L1012.5 317.5 M1016.5 311.5 L1017.5 310.5 L1019.5 310.5 L1020.5 311.5 L1020.5 312.5 L1016.5 317.5 L1020.5 317.5 M1025.5 310.5 L1027.5 310.5 L1028.5 311.5 L1028.5 312.5 L1027.5 314.5 L1025.5 314.5 L1024.5 312.5 L1024.5 311.5 L1025.5 310.5 M1025.5 314.5 L1024.5 315.5 L1024.5 316.5 L1025.5 317.5 L1027.5 317.5 L1028.5 316.5 L1028.5 315.5 L1027.5 314.5"/>
<path class="t" stroke-width="1" d="M1012.5 347.5 L1010.5 347.5 L1008.5 349.5 L1008.5 353.5 L1009.5 354.5 L1011.5 354.5 L1012.5 353.5 L1012.5 352.5 L1011.5 351.5 L1008.5 351.5 M1016.5 347.5 L1018.5 347.5 L1019.5 348.5 L1019.5 349.5 L1018.5 351.5 L1016.5 351.5 L1015.5 349.5 L1015.5 348.5 L1016.5 347.5 M1016.5 351.5 L1015.5 352.5 L1015.5 353.5 L1016.5 354.5 L1018.5 354.5 L1019.5 353.5 L1019.5 352.5 L1018.5 351.5 M1023.5 347.5 L1025.5 347.5 L1026.5 348.5 L1026.5 353.5 L1025.5 354.5 L1023.5 354.5 L1022.5 353.5 L1022.5 348.5 L1023.5 347.5 M1022.5 353.5 L1026.5 348.5 M1030.5 354.5 L1030.5 347.5 L1033.5 347.5 L1034.5 348.5 L1034.5 349.5 L1033.5 351.5 L1030.5 351.5 M1033.5 351.5 L1034.5 353.5 L1034.5 354.5"/>
<polyline class="w" points="1039.5,332.5 1218.5,332.5 1218.5,347.5 1240.5,347.5 1240.5,318.5"/>
<polyline class="w" points="1240.5,174.5 1240.5,302.5"/>
<polygon points="1239.5,268.5 1241.5,268.5 1244.3,271.7 1244.3,273.3 1241.5,276.5 1239.5,276.5 1236.7,273.3 1236.7,271.7" class="f"/>
<rect x="1232" y="301" width="18" height="3" class="f"/>
<polygon points="1238,304 1244,304 1250,318.8 1232,318.8" class="f"/>
<line x1="1252.5" y1="306" x2="1258" y2="300.5" stroke-width="1.6"/>
<polygon points="1254.8,298 1260.2,298 1260.2,303.8" class="f"/>
<line x1="1252.5" y1="315" x2="1258" y2="309.5" stroke-width="1.6"/>
<polygon points="1254.8,307 1260.2,307 1260.2,312.8" class="f"/>
<path class="t" stroke-width="1" d="M1218.5 315.5 L1225.5 315.5 L1225.5 311.5 M1218.5 304.5 L1218.5 308.5 L1225.5 308.5 L1225.5 304.5 M1222.5 308.5 L1222.5 305.5 M1218.5 300.5 L1218.5 297.5 L1219.5 296.5 L1224.5 296.5 L1225.5 297.5 L1225.5 300.5 L1218.5 300.5"/>
<path class="t" stroke-width="1" d="M1254.5 272.5 L1254.5 269.5 L1255.5 268.5 L1260.5 268.5 L1261.5 269.5 L1261.5 272.5 L1254.5 272.5 M1255.5 264.5 L1254.5 263.5 L1254.5 261.5 L1255.5 260.5 L1256.5 260.5 L1258.5 261.5 L1259.5 260.5 L1260.5 260.5 L1261.5 261.5 L1261.5 263.5 L1260.5 264.5 M1258.5 262.5 L1258.5 261.5"/>
<path class="t" stroke-width="1" d="M1269.5 286.5 L1268.5 284.5 L1265.5 284.5 L1263.5 286.5 L1263.5 292.5 L1265.5 294.5 L1268.5 294.5 L1269.5 292.5 L1269.5 289.5 L1266.5 289.5 M1273.5 294.5 L1273.5 284.5 L1278.5 284.5 L1279.5 286.5 L1279.5 287.5 L1278.5 289.5 L1273.5 289.5 M1277.5 289.5 L1279.5 292.5 L1279.5 294.5 M1283.5 284.5 L1283.5 292.5 L1285.5 294.5 L1288.5 294.5 L1289.5 292.5 L1289.5 284.5 M1285.5 282.5 L1285.5 283.5 M1287.5 282.5 L1287.5 283.5 M1293.5 294.5 L1293.5 284.5 L1299.5 294.5 L1299.5 284.5"/>
<polyline class="w" points="730.5,408.5 730.5,654.5"/>
<polygon points="729.5,560.5 731.5,560.5 734.3,563.7 734.3,565.3 731.5,568.5 729.5,568.5 726.7,565.3 726.7,563.7" class="f"/>
<polygon points="729.5,650.5 731.5,650.5 734.3,653.7 734.3,655.3 731.5,658.5 729.5,658.5 726.7,655.3 726.7,653.7" class="f"/>
<polyline class="w" points="835.5,408.5 835.5,714.5 640.5,714.5"/>
<polygon points="834.5,493.5 836.5,493.5 839.3,496.7 839.3,498.3 836.5,501.5 834.5,501.5 831.7,498.3 831.7,496.7" class="f"/>
<polygon points="834.5,560.5 836.5,560.5 839.3,563.7 839.3,565.3 836.5,568.5 834.5,568.5 831.7,565.3 831.7,563.7" class="f"/>
<polyline class="w" points="903.5,408.5 903.5,452.5"/>
<polygon points="902.5,448.5 904.5,448.5 907.3,451.7 907.3,453.3 904.5,456.5 902.5,456.5 899.7,453.3 899.7,451.7" class="f"/>
<polyline class="w" points="978.5,408.5 978.5,474.5"/>
<polygon points="977.5,470.5 979.5,470.5 982.3,473.7 982.3,475.3 979.5,478.5 977.5,478.5 974.7,475.3 974.7,473.7" class="f"/>
<polyline class="w" points="469.5,564.5 662.5,564.5"/>
<polygon points="572.5,560.5 574.5,560.5 577.3,563.7 577.3,565.3 574.5,568.5 572.5,568.5 569.7,565.3 569.7,563.7" class="f"/>
<polyline class="w" points="573.5,564.5 573.5,474.5 1076.5,474.5"/>
<polyline class="w" points="469.5,654.5 662.5,654.5"/>
<polygon points="602.5,650.5 604.5,650.5 607.3,653.7 607.3,655.3 604.5,658.5 602.5,658.5 599.7,655.3 599.7,653.7" class="f"/>
<polyline class="w" points="603.5,654.5 603.5,452.5 1076.5,452.5"/>
<path class="t" stroke-width="1" d="M1030.5 449.5 L1030.5 441.5 L1034.5 441.5 L1035.5 442.5 L1035.5 446.5 L1034.5 447.5 L1030.5 447.5 M1039.5 441.5 L1042.5 441.5 M1040.5 441.5 L1040.5 449.5 M1039.5 449.5 L1042.5 449.5 M1046.5 449.5 L1046.5 441.5 L1051.5 449.5 L1051.5 441.5 M1060.5 441.5 L1055.5 441.5 L1055.5 444.5 L1059.5 444.5 L1060.5 446.5 L1060.5 448.5 L1059.5 449.5 L1056.5 449.5 L1055.5 448.5"/>
<path class="t" stroke-width="1" d="M1030.5 472.5 L1030.5 464.5 L1034.5 464.5 L1035.5 465.5 L1035.5 469.5 L1034.5 470.5 L1030.5 470.5 M1039.5 464.5 L1042.5 464.5 M1040.5 464.5 L1040.5 472.5 M1039.5 472.5 L1042.5 472.5 M1046.5 472.5 L1046.5 464.5 L1051.5 472.5 L1051.5 464.5 M1055.5 464.5 L1060.5 464.5 L1060.5 465.5 L1055.5 471.5 L1055.5 472.5"/>
<path class="t" stroke-width="1" d="M1024.5 494.5 L1024.5 486.5 L1028.5 486.5 L1029.5 487.5 L1029.5 491.5 L1028.5 492.5 L1024.5 492.5 M1033.5 486.5 L1036.5 486.5 M1034.5 486.5 L1034.5 494.5 M1033.5 494.5 L1036.5 494.5 M1039.5 494.5 L1039.5 486.5 L1044.5 494.5 L1044.5 486.5 M1048.5 487.5 L1049.5 486.5 L1049.5 494.5 M1048.5 494.5 L1051.5 494.5 M1055.5 487.5 L1056.5 486.5 L1056.5 494.5 M1055.5 494.5 L1058.5 494.5"/>
<path class="t" stroke-width="1" d="M1030.5 532.5 L1030.5 524.5 L1034.5 524.5 L1035.5 525.5 L1035.5 529.5 L1034.5 530.5 L1030.5 530.5 M1039.5 524.5 L1042.5 524.5 M1040.5 524.5 L1040.5 532.5 M1039.5 532.5 L1042.5 532.5 M1046.5 532.5 L1046.5 524.5 L1051.5 532.5 L1051.5 524.5 M1056.5 532.5 L1059.5 532.5 L1060.5 531.5 L1060.5 525.5 L1059.5 524.5 L1056.5 524.5 L1055.5 525.5 L1055.5 527.5 L1056.5 528.5 L1060.5 528.5"/>
<polygon points="663.5,557.3 677.5,564.5 663.5,571.7" class="p" stroke-width="2.6" stroke-linejoin="bevel"/>
<circle cx="681.5" cy="564.5" r="3.2" class="f"/>
<path class="t" stroke-width="1" d="M655.5 532.5 L659.5 532.5 M657.5 532.5 L657.5 541.5 M655.5 541.5 L659.5 541.5 M671.5 534.5 L669.5 532.5 L666.5 532.5 L665.5 534.5 L665.5 540.5 L666.5 541.5 L669.5 541.5 L671.5 540.5 M679.5 541.5 L679.5 532.5 L675.5 537.5 L681.5 537.5 M685.5 541.5 L685.5 535.5 L688.5 532.5 L691.5 535.5 L691.5 541.5 M685.5 537.5 L691.5 537.5"/>
<path class="t" stroke-width="1" d="M655.5 584.5 L661.5 584.5 L661.5 586.5 L655.5 592.5 L655.5 594.5 M670.5 594.5 L670.5 584.5 L665.5 590.5 L671.5 590.5 M675.5 584.5 L675.5 594.5 L681.5 594.5 M691.5 586.5 L690.5 584.5 L687.5 584.5 L685.5 586.5 L685.5 587.5 L687.5 589.5 L690.5 589.5 L691.5 591.5 L691.5 592.5 L690.5 594.5 L687.5 594.5 L685.5 592.5 M697.5 584.5 L700.5 584.5 L701.5 586.5 L701.5 592.5 L700.5 594.5 L697.5 594.5 L695.5 592.5 L695.5 586.5 L697.5 584.5 M695.5 592.5 L701.5 586.5 M711.5 584.5 L708.5 584.5 L705.5 587.5 L705.5 592.5 L707.5 594.5 L710.5 594.5 L711.5 592.5 L711.5 591.5 L710.5 589.5 L705.5 589.5"/>
<path class="t" stroke-width="1" d="M630.5 562.5 L630.5 554.5 L634.5 554.5 L635.5 555.5 L635.5 559.5 L634.5 560.5 L630.5 560.5 M639.5 554.5 L642.5 554.5 M640.5 554.5 L640.5 562.5 M639.5 562.5 L642.5 562.5 M646.5 562.5 L646.5 554.5 L651.5 562.5 L651.5 554.5 M654.5 555.5 L655.5 554.5 L655.5 562.5 M654.5 562.5 L657.5 562.5"/>
<path class="t" stroke-width="1" d="M687.5 562.5 L687.5 554.5 L691.5 554.5 L692.5 555.5 L692.5 559.5 L691.5 560.5 L687.5 560.5 M696.5 554.5 L699.5 554.5 M697.5 554.5 L697.5 562.5 M696.5 562.5 L699.5 562.5 M704.5 562.5 L704.5 554.5 L709.5 562.5 L709.5 554.5 M712.5 555.5 L713.5 554.5 L716.5 554.5 L717.5 555.5 L717.5 557.5 L712.5 562.5 L717.5 562.5"/>
<polygon points="663.5,647.3 677.5,654.5 663.5,661.7" class="p" stroke-width="2.6" stroke-linejoin="bevel"/>
<circle cx="681.5" cy="654.5" r="3.2" class="f"/>
<path class="t" stroke-width="1" d="M655.5 622.5 L659.5 622.5 M657.5 622.5 L657.5 631.5 M655.5 631.5 L659.5 631.5 M671.5 624.5 L669.5 622.5 L666.5 622.5 L665.5 624.5 L665.5 630.5 L666.5 631.5 L669.5 631.5 L671.5 630.5 M679.5 631.5 L679.5 622.5 L675.5 627.5 L681.5 627.5 M685.5 631.5 L685.5 622.5 L689.5 622.5 L691.5 624.5 L691.5 625.5 L689.5 626.5 L685.5 626.5 M689.5 626.5 L691.5 628.5 L691.5 630.5 L689.5 631.5 L685.5 631.5"/>
<path class="t" stroke-width="1" d="M655.5 674.5 L661.5 674.5 L661.5 676.5 L655.5 682.5 L655.5 684.5 M670.5 684.5 L670.5 674.5 L665.5 680.5 L671.5 680.5 M675.5 674.5 L675.5 684.5 L681.5 684.5 M691.5 676.5 L690.5 674.5 L687.5 674.5 L685.5 676.5 L685.5 677.5 L687.5 679.5 L690.5 679.5 L691.5 681.5 L691.5 682.5 L690.5 684.5 L687.5 684.5 L685.5 682.5 M697.5 674.5 L700.5 674.5 L701.5 676.5 L701.5 682.5 L700.5 684.5 L697.5 684.5 L695.5 682.5 L695.5 676.5 L697.5 674.5 M695.5 682.5 L701.5 676.5 M711.5 674.5 L708.5 674.5 L705.5 677.5 L705.5 682.5 L707.5 684.5 L710.5 684.5 L711.5 682.5 L711.5 681.5 L710.5 679.5 L705.5 679.5"/>
<path class="t" stroke-width="1" d="M630.5 652.5 L630.5 644.5 L634.5 644.5 L635.5 645.5 L635.5 649.5 L634.5 650.5 L630.5 650.5 M638.5 644.5 L641.5 644.5 M639.5 644.5 L639.5 652.5 M638.5 652.5 L641.5 652.5 M645.5 652.5 L645.5 644.5 L650.5 652.5 L650.5 644.5 M652.5 645.5 L653.5 644.5 L656.5 644.5 L657.5 645.5 L657.5 647.5 L656.5 648.5 L657.5 649.5 L657.5 651.5 L656.5 652.5 L653.5 652.5 L652.5 651.5 M654.5 648.5 L656.5 648.5"/>
<path class="t" stroke-width="1" d="M687.5 652.5 L687.5 644.5 L691.5 644.5 L692.5 645.5 L692.5 649.5 L691.5 650.5 L687.5 650.5 M696.5 644.5 L699.5 644.5 M697.5 644.5 L697.5 652.5 M696.5 652.5 L699.5 652.5 M704.5 652.5 L704.5 644.5 L709.5 652.5 L709.5 644.5 M716.5 652.5 L716.5 644.5 L712.5 648.5 L717.5 648.5"/>
<polygon points="776.5,557.3 790.5,564.5 776.5,571.7" class="p" stroke-width="2.6" stroke-linejoin="bevel"/>
<circle cx="794.5" cy="564.5" r="3.2" class="f"/>
<path class="t" stroke-width="1" d="M768.5 532.5 L772.5 532.5 M770.5 532.5 L770.5 541.5 M768.5 541.5 L772.5 541.5 M784.5 534.5 L782.5 532.5 L779.5 532.5 L778.5 534.5 L778.5 540.5 L779.5 541.5 L782.5 541.5 L784.5 540.5 M792.5 541.5 L792.5 532.5 L788.5 537.5 L794.5 537.5 M804.5 534.5 L802.5 532.5 L799.5 532.5 L798.5 534.5 L798.5 540.5 L799.5 541.5 L802.5 541.5 L804.5 540.5"/>
<path class="t" stroke-width="1" d="M768.5 584.5 L774.5 584.5 L774.5 586.5 L768.5 592.5 L768.5 594.5 M783.5 594.5 L783.5 584.5 L778.5 590.5 L784.5 590.5 M788.5 584.5 L788.5 594.5 L794.5 594.5 M804.5 586.5 L803.5 584.5 L800.5 584.5 L798.5 586.5 L798.5 587.5 L800.5 589.5 L803.5 589.5 L804.5 591.5 L804.5 592.5 L803.5 594.5 L800.5 594.5 L798.5 592.5 M810.5 584.5 L813.5 584.5 L814.5 586.5 L814.5 592.5 L813.5 594.5 L810.5 594.5 L808.5 592.5 L808.5 586.5 L810.5 584.5 M808.5 592.5 L814.5 586.5 M824.5 584.5 L821.5 584.5 L818.5 587.5 L818.5 592.5 L820.5 594.5 L823.5 594.5 L824.5 592.5 L824.5 591.5 L823.5 589.5 L818.5 589.5"/>
<path class="t" stroke-width="1" d="M743.5 562.5 L743.5 554.5 L747.5 554.5 L748.5 555.5 L748.5 559.5 L747.5 560.5 L743.5 560.5 M751.5 554.5 L754.5 554.5 M752.5 554.5 L752.5 562.5 M751.5 562.5 L754.5 562.5 M758.5 562.5 L758.5 554.5 L763.5 562.5 L763.5 554.5 M770.5 554.5 L765.5 554.5 L765.5 557.5 L769.5 557.5 L770.5 559.5 L770.5 561.5 L769.5 562.5 L766.5 562.5 L765.5 561.5"/>
<path class="t" stroke-width="1" d="M800.5 562.5 L800.5 554.5 L804.5 554.5 L805.5 555.5 L805.5 559.5 L804.5 560.5 L800.5 560.5 M809.5 554.5 L812.5 554.5 M810.5 554.5 L810.5 562.5 M809.5 562.5 L812.5 562.5 M817.5 562.5 L817.5 554.5 L822.5 562.5 L822.5 554.5 M830.5 554.5 L827.5 554.5 L825.5 557.5 L825.5 561.5 L826.5 562.5 L829.5 562.5 L830.5 561.5 L830.5 559.5 L829.5 558.5 L825.5 558.5"/>
<polygon points="776.5,647.3 790.5,654.5 776.5,661.7" class="p" stroke-width="2.6" stroke-linejoin="bevel"/>
<circle cx="794.5" cy="654.5" r="3.2" class="f"/>
<path class="t" stroke-width="1" d="M768.5 622.5 L772.5 622.5 M770.5 622.5 L770.5 631.5 M768.5 631.5 L772.5 631.5 M784.5 624.5 L782.5 622.5 L779.5 622.5 L778.5 624.5 L778.5 630.5 L779.5 631.5 L782.5 631.5 L784.5 630.5 M792.5 631.5 L792.5 622.5 L788.5 627.5 L794.5 627.5 M798.5 622.5 L802.5 622.5 L804.5 624.5 L804.5 630.5 L802.5 631.5 L798.5 631.5 L798.5 622.5"/>
<path class="t" stroke-width="1" d="M768.5 674.5 L774.5 674.5 L774.5 676.5 L768.5 682.5 L768.5 684.5 M783.5 684.5 L783.5 674.5 L778.5 680.5 L784.5 680.5 M788.5 674.5 L788.5 684.5 L794.5 684.5 M804.5 676.5 L803.5 674.5 L800.5 674.5 L798.5 676.5 L798.5 677.5 L800.5 679.5 L803.5 679.5 L804.5 681.5 L804.5 682.5 L803.5 684.5 L800.5 684.5 L798.5 682.5 M810.5 674.5 L813.5 674.5 L814.5 676.5 L814.5 682.5 L813.5 684.5 L810.5 684.5 L808.5 682.5 L808.5 676.5 L810.5 674.5 M808.5 682.5 L814.5 676.5 M824.5 674.5 L821.5 674.5 L818.5 677.5 L818.5 682.5 L820.5 684.5 L823.5 684.5 L824.5 682.5 L824.5 681.5 L823.5 679.5 L818.5 679.5"/>
<path class="t" stroke-width="1" d="M743.5 652.5 L743.5 644.5 L747.5 644.5 L748.5 645.5 L748.5 649.5 L747.5 650.5 L743.5 650.5 M751.5 644.5 L754.5 644.5 M752.5 644.5 L752.5 652.5 M751.5 652.5 L754.5 652.5 M758.5 652.5 L758.5 644.5 L763.5 652.5 L763.5 644.5 M766.5 652.5 L769.5 652.5 L770.5 651.5 L770.5 645.5 L769.5 644.5 L766.5 644.5 L765.5 645.5 L765.5 647.5 L766.5 648.5 L770.5 648.5"/>
<path class="t" stroke-width="1" d="M800.5 652.5 L800.5 644.5 L804.5 644.5 L805.5 645.5 L805.5 649.5 L804.5 650.5 L800.5 650.5 M809.5 644.5 L812.5 644.5 M810.5 644.5 L810.5 652.5 M809.5 652.5 L812.5 652.5 M817.5 652.5 L817.5 644.5 L822.5 652.5 L822.5 644.5 M826.5 644.5 L829.5 644.5 L830.5 645.5 L830.5 647.5 L829.5 648.5 L826.5 648.5 L825.5 647.5 L825.5 645.5 L826.5 644.5 M826.5 648.5 L825.5 649.5 L825.5 651.5 L826.5 652.5 L829.5 652.5 L830.5 651.5 L830.5 649.5 L829.5 648.5"/>
<polyline class="w" points="684.5,564.5 776.5,564.5"/>
<polyline class="w" points="797.5,564.5 835.5,564.5"/>
<polyline class="w" points="684.5,654.5 776.5,654.5"/>
<polyline class="w" points="797.5,654.5 888.5,654.5"/>
<polygon points="888.5,647.3 902.5,654.5 888.5,661.7" class="p" stroke-width="2.6" stroke-linejoin="bevel"/>
<circle cx="906.5" cy="654.5" r="3.2" class="f"/>
<path class="t" stroke-width="1" d="M880.5 622.5 L884.5 622.5 M882.5 622.5 L882.5 631.5 M880.5 631.5 L884.5 631.5 M895.5 624.5 L893.5 622.5 L890.5 622.5 L889.5 624.5 L889.5 630.5 L890.5 631.5 L893.5 631.5 L895.5 630.5 M903.5 631.5 L903.5 622.5 L899.5 627.5 L905.5 627.5 M915.5 622.5 L909.5 622.5 L909.5 631.5 L915.5 631.5 M909.5 626.5 L913.5 626.5"/>
<path class="t" stroke-width="1" d="M880.5 674.5 L886.5 674.5 L886.5 676.5 L880.5 682.5 L880.5 684.5 M895.5 684.5 L895.5 674.5 L890.5 680.5 L896.5 680.5 M900.5 674.5 L900.5 684.5 L906.5 684.5 M916.5 676.5 L915.5 674.5 L912.5 674.5 L910.5 676.5 L910.5 677.5 L912.5 679.5 L915.5 679.5 L916.5 681.5 L916.5 682.5 L915.5 684.5 L912.5 684.5 L910.5 682.5 M922.5 674.5 L925.5 674.5 L926.5 676.5 L926.5 682.5 L925.5 684.5 L922.5 684.5 L920.5 682.5 L920.5 676.5 L922.5 674.5 M920.5 682.5 L926.5 676.5 M936.5 674.5 L933.5 674.5 L930.5 677.5 L930.5 682.5 L932.5 684.5 L935.5 684.5 L936.5 682.5 L936.5 681.5 L935.5 679.5 L930.5 679.5"/>
<path class="t" stroke-width="1" d="M848.5 652.5 L848.5 644.5 L852.5 644.5 L853.5 645.5 L853.5 649.5 L852.5 650.5 L848.5 650.5 M857.5 644.5 L860.5 644.5 M858.5 644.5 L858.5 652.5 M857.5 652.5 L860.5 652.5 M863.5 652.5 L863.5 644.5 L868.5 652.5 L868.5 644.5 M872.5 645.5 L873.5 644.5 L873.5 652.5 M872.5 652.5 L875.5 652.5 M879.5 645.5 L880.5 644.5 L880.5 652.5 M879.5 652.5 L882.5 652.5"/>
<path class="t" stroke-width="1" d="M912.5 652.5 L912.5 644.5 L916.5 644.5 L917.5 645.5 L917.5 649.5 L916.5 650.5 L912.5 650.5 M921.5 644.5 L924.5 644.5 M922.5 644.5 L922.5 652.5 M921.5 652.5 L924.5 652.5 M928.5 652.5 L928.5 644.5 L933.5 652.5 L933.5 644.5 M937.5 645.5 L938.5 644.5 L938.5 652.5 M937.5 652.5 L940.5 652.5 M945.5 644.5 L948.5 644.5 L949.5 645.5 L949.5 651.5 L948.5 652.5 L945.5 652.5 L944.5 651.5 L944.5 645.5 L945.5 644.5 M944.5 651.5 L949.5 645.5"/>
<polyline class="w" points="909.5,654.5 985.5,654.5"/>
<polygon points="864.5,650.5 866.5,650.5 869.3,653.7 869.3,655.3 866.5,658.5 864.5,658.5 861.7,655.3 861.7,653.7" class="f"/>
<polygon points="984.5,650.5 986.5,650.5 989.3,653.7 989.3,655.3 986.5,658.5 984.5,658.5 981.7,655.3 981.7,653.7" class="f"/>
<polygon points="619,707.3 633,714.5 619,721.7" class="p" stroke-width="2.6" stroke-linejoin="bevel"/>
<circle cx="637" cy="714.5" r="3.2" class="f"/>
<path class="t" stroke-width="1" d="M610.5 682.5 L614.5 682.5 M612.5 682.5 L612.5 691.5 M610.5 691.5 L614.5 691.5 M625.5 684.5 L623.5 682.5 L620.5 682.5 L619.5 684.5 L619.5 690.5 L620.5 691.5 L623.5 691.5 L625.5 690.5 M633.5 691.5 L633.5 682.5 L629.5 687.5 L635.5 687.5 M645.5 682.5 L639.5 682.5 L639.5 691.5 M639.5 686.5 L643.5 686.5"/>
<path class="t" stroke-width="1" d="M576.5 712.5 L576.5 704.5 L580.5 704.5 L581.5 705.5 L581.5 709.5 L580.5 710.5 L576.5 710.5 M585.5 704.5 L588.5 704.5 M586.5 704.5 L586.5 712.5 M585.5 712.5 L588.5 712.5 M592.5 712.5 L592.5 704.5 L597.5 712.5 L597.5 704.5 M601.5 705.5 L602.5 704.5 L602.5 712.5 M601.5 712.5 L604.5 712.5 M608.5 705.5 L609.5 704.5 L612.5 704.5 L613.5 705.5 L613.5 707.5 L612.5 708.5 L613.5 709.5 L613.5 711.5 L612.5 712.5 L609.5 712.5 L608.5 711.5 M610.5 708.5 L612.5 708.5"/>
<path class="t" stroke-width="1" d="M642.5 712.5 L642.5 704.5 L646.5 704.5 L647.5 705.5 L647.5 709.5 L646.5 710.5 L642.5 710.5 M651.5 704.5 L654.5 704.5 M652.5 704.5 L652.5 712.5 M651.5 712.5 L654.5 712.5 M658.5 712.5 L658.5 704.5 L663.5 712.5 L663.5 704.5 M667.5 705.5 L668.5 704.5 L668.5 712.5 M667.5 712.5 L670.5 712.5 M674.5 705.5 L675.5 704.5 L678.5 704.5 L679.5 705.5 L679.5 707.5 L674.5 712.5 L679.5 712.5"/>
<path class="t" stroke-width="1" d="M610.5 734.5 L616.5 734.5 L616.5 736.5 L610.5 742.5 L610.5 744.5 M625.5 744.5 L625.5 734.5 L620.5 740.5 L626.5 740.5 M630.5 734.5 L630.5 744.5 L636.5 744.5 M646.5 736.5 L645.5 734.5 L642.5 734.5 L640.5 736.5 L640.5 737.5 L642.5 739.5 L645.5 739.5 L646.5 741.5 L646.5 742.5 L645.5 744.5 L642.5 744.5 L640.5 742.5 M652.5 734.5 L655.5 734.5 L656.5 736.5 L656.5 742.5 L655.5 744.5 L652.5 744.5 L650.5 742.5 L650.5 736.5 L652.5 734.5 M650.5 742.5 L656.5 736.5 M666.5 734.5 L663.5 734.5 L660.5 737.5 L660.5 742.5 L662.5 744.5 L665.5 744.5 L666.5 742.5 L666.5 741.5 L665.5 739.5 L660.5 739.5"/>
<polyline class="w" points="580.5,714.5 618.5,714.5"/>
<polyline class="w" points="865.5,654.5 865.5,692.5"/>
<rect x="858.5" y="692.5" width="15" height="30" class="b" stroke-width="3"/>
<polyline class="w" points="865.5,723.5 865.5,775.5"/>
<path class="t" stroke-width="1" d="M851.5 723.5 L844.5 723.5 L844.5 720.5 L845.5 719.5 L846.5 719.5 L848.5 720.5 L848.5 723.5 M848.5 720.5 L850.5 719.5 L851.5 719.5 M845.5 714.5 L844.5 713.5 L851.5 713.5 M851.5 714.5 L851.5 712.5 M845.5 708.5 L844.5 707.5 L844.5 705.5 L845.5 704.5 L846.5 704.5 L851.5 708.5 L851.5 704.5"/>
<path class="t" stroke-width="1" d="M888.5 720.5 L881.5 720.5 L885.5 723.5 L885.5 719.5 M881.5 715.5 L888.5 715.5 M881.5 711.5 L885.5 714.5 L888.5 711.5 M885.5 715.5 L885.5 714.5 M881.5 708.5 L881.5 704.5 L882.5 704.5 L887.5 708.5 L888.5 708.5"/>
<polygon points="864.5,763.5 866.5,763.5 869.3,766.7 869.3,768.3 866.5,771.5 864.5,771.5 861.7,768.3 861.7,766.7" class="f"/>
<path class="t" stroke-width="1" d="M873.5 764.5 L873.5 771.5 L876.5 774.5 L879.5 771.5 L879.5 764.5 M889.5 766.5 L888.5 764.5 L885.5 764.5 L883.5 766.5 L883.5 772.5 L885.5 774.5 L888.5 774.5 L889.5 772.5 M899.5 766.5 L898.5 764.5 L895.5 764.5 L893.5 766.5 L893.5 772.5 L895.5 774.5 L898.5 774.5 L899.5 772.5"/>
<polygon points="1127.5,294.5 1129.5,294.5 1132.3,297.7 1132.3,299.3 1129.5,302.5 1127.5,302.5 1124.7,299.3 1124.7,297.7" class="f"/>
<polygon points="1127.5,358.5 1129.5,358.5 1132.3,361.7 1132.3,363.3 1129.5,366.5 1127.5,366.5 1124.7,363.3 1124.7,361.7" class="f"/>
<polyline class="w" points="1128.5,298.5 1161.5,298.5"/>
<line x1="1150" y1="291.5" x2="1159" y2="291.5" stroke-width="2"/>
<line x1="1154.5" y1="287" x2="1154.5" y2="296" stroke-width="2"/>
<rect x="1161.75" y="289.25" width="6.5" height="17.5" class="b" stroke-width="2.5"/>
<rect x="1171.5" y="288" width="6.5" height="20" class="f"/>
<polyline class="w" points="1178.5,298.5 1207.5,298.5 1207.5,362.5 1195.5,362.5"/>
<path class="t" stroke-width="1" d="M1156.5 277.5 L1155.5 276.5 L1153.5 276.5 L1152.5 277.5 L1152.5 282.5 L1153.5 283.5 L1155.5 283.5 L1156.5 282.5 M1160.5 277.5 L1161.5 276.5 L1161.5 283.5 M1160.5 283.5 L1162.5 283.5 M1166.5 276.5 L1170.5 276.5 L1170.5 277.5 L1166.5 282.5 L1166.5 283.5"/>
<path class="t" stroke-width="1" d="M1152.5 313.5 L1153.5 312.5 L1153.5 319.5 M1152.5 319.5 L1154.5 319.5 M1160.5 312.5 L1162.5 312.5 L1163.5 313.5 L1163.5 318.5 L1162.5 319.5 L1160.5 319.5 L1159.5 318.5 L1159.5 313.5 L1160.5 312.5 M1159.5 318.5 L1163.5 313.5 M1166.5 314.5 L1166.5 318.5 L1167.5 319.5 L1170.5 319.5 M1170.5 314.5 L1170.5 319.5 M1177.5 312.5 L1173.5 312.5 L1173.5 319.5 M1173.5 316.5 L1176.5 316.5"/>
<polyline class="w" points="1128.5,362.5 1157.5,362.5"/>
<rect x="1157" y="354" width="3" height="17" class="f"/>
<rect x="1164" y="354" width="3" height="17" class="f"/>
<polyline class="w" points="1166.5,362.5 1195.5,362.5"/>
<polygon points="1194.5,358.5 1196.5,358.5 1199.3,361.7 1199.3,363.3 1196.5,366.5 1194.5,366.5 1191.7,363.3 1191.7,361.7" class="f"/>
<polyline class="w" points="1195.5,362.5 1195.5,383.5"/>
<line x1="1187.5" y1="383.5" x2="1203.5" y2="383.5" stroke-width="1.2"/>
<path class="t" stroke-width="1" d="M1155.5 341.5 L1154.5 340.5 L1152.5 340.5 L1151.5 341.5 L1151.5 346.5 L1152.5 347.5 L1154.5 347.5 L1155.5 346.5 M1159.5 341.5 L1160.5 340.5 L1160.5 347.5 M1159.5 347.5 L1161.5 347.5 M1169.5 340.5 L1167.5 340.5 L1165.5 342.5 L1165.5 346.5 L1166.5 347.5 L1168.5 347.5 L1169.5 346.5 L1169.5 345.5 L1168.5 344.5 L1165.5 344.5"/>
<path class="t" stroke-width="1" d="M1150.5 379.5 L1151.5 378.5 L1151.5 385.5 M1150.5 385.5 L1152.5 385.5 M1158.5 378.5 L1160.5 378.5 L1161.5 379.5 L1161.5 384.5 L1160.5 385.5 L1158.5 385.5 L1157.5 384.5 L1157.5 379.5 L1158.5 378.5 M1157.5 384.5 L1161.5 379.5 M1165.5 378.5 L1167.5 378.5 L1168.5 379.5 L1168.5 384.5 L1167.5 385.5 L1165.5 385.5 L1164.5 384.5 L1164.5 379.5 L1165.5 378.5 M1164.5 384.5 L1168.5 379.5 M1171.5 385.5 L1171.5 380.5 L1174.5 380.5 L1175.5 382.5 L1175.5 385.5 M1182.5 378.5 L1178.5 378.5 L1178.5 385.5 M1178.5 382.5 L1181.5 382.5"/>
<polyline class="w" points="1128.5,362.5 1015.5,362.5 1015.5,512.5 985.5,512.5 985.5,595.5"/>
<path class="t" stroke-width="1" d="M1126.5 397.5 L1118.5 397.5 L1118.5 393.5 L1119.5 392.5 L1123.5 392.5 L1124.5 393.5 L1124.5 397.5 M1118.5 388.5 L1118.5 385.5 M1118.5 387.5 L1126.5 387.5 M1126.5 388.5 L1126.5 385.5 M1126.5 380.5 L1118.5 380.5 L1126.5 375.5 L1118.5 375.5 M1119.5 372.5 L1118.5 371.5 L1118.5 368.5 L1119.5 367.5 L1121.5 367.5 L1126.5 372.5 L1126.5 367.5"/>
<rect x="1076" y="415" width="105" height="165" class="b" stroke-width="2"/>
<path class="t" stroke-width="1" d="M1075.5 398.5 L1079.5 398.5 M1077.5 398.5 L1077.5 407.5 M1075.5 407.5 L1079.5 407.5 M1091.5 400.5 L1089.5 398.5 L1086.5 398.5 L1085.5 400.5 L1085.5 406.5 L1086.5 407.5 L1089.5 407.5 L1091.5 406.5 M1095.5 400.5 L1096.5 398.5 L1099.5 398.5 L1101.5 400.5 L1101.5 401.5 L1099.5 402.5 L1101.5 404.5 L1101.5 406.5 L1099.5 407.5 L1096.5 407.5 L1095.5 406.5 M1097.5 402.5 L1099.5 402.5"/>
<path class="t" stroke-width="1" d="M1136.5 398.5 L1136.5 408.5 L1142.5 408.5 M1152.5 398.5 L1149.5 398.5 L1146.5 401.5 L1146.5 406.5 L1148.5 408.5 L1151.5 408.5 L1152.5 406.5 L1152.5 405.5 L1151.5 403.5 L1146.5 403.5 M1156.5 400.5 L1158.5 398.5 L1161.5 398.5 L1162.5 400.5 L1162.5 401.5 L1156.5 408.5 L1162.5 408.5 M1168.5 398.5 L1171.5 398.5 L1172.5 400.5 L1172.5 406.5 L1171.5 408.5 L1168.5 408.5 L1166.5 406.5 L1166.5 400.5 L1168.5 398.5 M1166.5 406.5 L1172.5 400.5 M1176.5 400.5 L1178.5 398.5 L1181.5 398.5 L1182.5 400.5 L1182.5 401.5 L1181.5 403.5 L1182.5 405.5 L1182.5 406.5 L1181.5 408.5 L1178.5 408.5 L1176.5 406.5 M1178.5 403.5 L1181.5 403.5"/>
<path class="t" stroke-width="1" d="M1124.5 445.5 L1129.5 445.5 L1132.5 443.5 L1129.5 440.5 L1124.5 440.5 M1125.5 430.5 L1124.5 431.5 L1124.5 434.5 L1125.5 435.5 L1127.5 435.5 L1128.5 434.5 L1128.5 431.5 L1129.5 430.5 L1131.5 430.5 L1132.5 431.5 L1132.5 434.5 L1131.5 435.5"/>
<path class="t" stroke-width="1" d="M1089.5 448.5 L1093.5 448.5 M1091.5 448.5 L1091.5 457.5 M1089.5 457.5 L1093.5 457.5 M1096.5 457.5 L1096.5 448.5 L1102.5 457.5 L1102.5 448.5 M1104.5 450.5 L1106.5 448.5 L1106.5 457.5 M1104.5 457.5 L1107.5 457.5"/>
<path class="t" stroke-width="1" d="M1089.5 470.5 L1093.5 470.5 M1091.5 470.5 L1091.5 479.5 M1089.5 479.5 L1093.5 479.5 M1095.5 479.5 L1095.5 470.5 L1101.5 479.5 L1101.5 470.5 M1102.5 472.5 L1103.5 470.5 L1106.5 470.5 L1108.5 472.5 L1108.5 473.5 L1102.5 479.5 L1108.5 479.5"/>
<path class="t" stroke-width="1" d="M1095.5 492.5 L1089.5 492.5 L1089.5 501.5 L1095.5 501.5 M1089.5 496.5 L1093.5 496.5 M1098.5 501.5 L1098.5 492.5 L1104.5 501.5 L1104.5 492.5"/>
<path class="t" stroke-width="1" d="M1089.5 530.5 L1089.5 536.5 L1092.5 539.5 L1095.5 536.5 L1095.5 530.5 M1097.5 539.5 L1097.5 530.5 L1101.5 530.5 L1103.5 532.5 L1103.5 533.5 L1101.5 534.5 L1097.5 534.5 M1100.5 534.5 L1103.5 538.5 L1103.5 539.5 M1112.5 530.5 L1106.5 530.5 L1106.5 539.5 L1112.5 539.5 M1106.5 534.5 L1110.5 534.5 M1120.5 530.5 L1114.5 530.5 L1114.5 539.5 M1114.5 534.5 L1118.5 534.5"/>
<path class="t" stroke-width="1" d="M1135.5 448.5 L1138.5 448.5 L1140.5 450.5 L1140.5 456.5 L1138.5 457.5 L1135.5 457.5 L1134.5 456.5 L1134.5 450.5 L1135.5 448.5 M1142.5 448.5 L1142.5 456.5 L1143.5 457.5 L1146.5 457.5 L1148.5 456.5 L1148.5 448.5 M1150.5 448.5 L1156.5 448.5 M1153.5 448.5 L1153.5 457.5 M1159.5 450.5 L1161.5 448.5 L1161.5 457.5 M1159.5 457.5 L1162.5 457.5"/>
<path class="t" stroke-width="1" d="M1127.5 479.5 L1127.5 470.5 L1131.5 470.5 L1133.5 472.5 L1133.5 473.5 L1131.5 474.5 L1127.5 474.5 M1131.5 474.5 L1133.5 476.5 L1133.5 478.5 L1131.5 479.5 L1127.5 479.5 M1136.5 470.5 L1139.5 470.5 L1141.5 472.5 L1141.5 478.5 L1139.5 479.5 L1136.5 479.5 L1135.5 478.5 L1135.5 472.5 L1136.5 470.5 M1144.5 470.5 L1147.5 470.5 L1149.5 472.5 L1149.5 478.5 L1147.5 479.5 L1144.5 479.5 L1143.5 478.5 L1143.5 472.5 L1144.5 470.5 M1151.5 470.5 L1157.5 470.5 M1154.5 470.5 L1154.5 479.5 M1160.5 472.5 L1162.5 470.5 L1162.5 479.5 M1160.5 479.5 L1163.5 479.5"/>
<path class="t" stroke-width="1" d="M1126.5 517.5 L1126.5 508.5 L1130.5 508.5 L1132.5 510.5 L1132.5 511.5 L1130.5 512.5 L1126.5 512.5 M1130.5 512.5 L1132.5 514.5 L1132.5 516.5 L1130.5 517.5 L1126.5 517.5 M1135.5 508.5 L1138.5 508.5 L1140.5 510.5 L1140.5 516.5 L1138.5 517.5 L1135.5 517.5 L1134.5 516.5 L1134.5 510.5 L1135.5 508.5 M1143.5 508.5 L1146.5 508.5 L1148.5 510.5 L1148.5 516.5 L1146.5 517.5 L1143.5 517.5 L1142.5 516.5 L1142.5 510.5 L1143.5 508.5 M1151.5 508.5 L1157.5 508.5 M1154.5 508.5 L1154.5 517.5 M1159.5 510.5 L1160.5 508.5 L1163.5 508.5 L1165.5 510.5 L1165.5 511.5 L1159.5 517.5 L1165.5 517.5"/>
<path class="t" stroke-width="1" d="M1135.5 530.5 L1138.5 530.5 L1140.5 532.5 L1140.5 538.5 L1138.5 539.5 L1135.5 539.5 L1134.5 538.5 L1134.5 532.5 L1135.5 530.5 M1142.5 530.5 L1142.5 538.5 L1143.5 539.5 L1146.5 539.5 L1148.5 538.5 L1148.5 530.5 M1151.5 530.5 L1157.5 530.5 M1154.5 530.5 L1154.5 539.5 M1159.5 532.5 L1160.5 530.5 L1163.5 530.5 L1165.5 532.5 L1165.5 533.5 L1159.5 539.5 L1165.5 539.5"/>
<path class="t" stroke-width="1" d="M1087.5 560.5 L1086.5 561.5 L1086.5 564.5 L1087.5 565.5 L1093.5 565.5 L1094.5 564.5 L1094.5 561.5 L1093.5 560.5 L1090.5 560.5 L1090.5 563.5 M1094.5 556.5 L1086.5 556.5 L1094.5 551.5 L1086.5 551.5 M1086.5 548.5 L1086.5 544.5 L1087.5 543.5 L1093.5 543.5 L1094.5 544.5 L1094.5 548.5 L1086.5 548.5"/>
<path class="t" stroke-width="1" d="M1163.5 559.5 L1161.5 561.5 L1161.5 564.5 L1163.5 565.5 L1164.5 565.5 L1165.5 564.5 L1165.5 561.5 L1167.5 559.5 L1169.5 559.5 L1170.5 561.5 L1170.5 564.5 L1169.5 565.5 M1161.5 551.5 L1161.5 557.5 L1170.5 557.5 L1170.5 551.5 M1165.5 557.5 L1165.5 553.5 M1170.5 548.5 L1161.5 548.5 L1170.5 542.5 L1161.5 542.5"/>
<polyline class="w" points="1076.5,534.5 1023.5,534.5 1023.5,565.5"/>
<rect x="1015" y="563.75" width="17" height="2.5" class="f"/>
<rect x="1015" y="571.75" width="17" height="2.5" class="f"/>
<polyline class="w" points="1023.5,573.5 1023.5,632.5 1090.5,632.5"/>
<path class="t" stroke-width="1" d="M1002.5 575.5 L1001.5 576.5 L1001.5 578.5 L1002.5 579.5 L1007.5 579.5 L1008.5 578.5 L1008.5 576.5 L1007.5 575.5 M1008.5 570.5 L1008.5 568.5 L1007.5 567.5 L1002.5 567.5 L1001.5 568.5 L1001.5 570.5 L1002.5 571.5 L1003.5 571.5 L1005.5 570.5 L1005.5 567.5"/>
<path class="t" stroke-width="1" d="M1039.5 579.5 L1038.5 578.5 L1038.5 576.5 L1039.5 575.5 L1040.5 575.5 L1045.5 579.5 L1045.5 575.5 M1039.5 572.5 L1038.5 571.5 L1038.5 569.5 L1039.5 568.5 L1040.5 568.5 L1045.5 572.5 L1045.5 568.5 M1038.5 564.5 L1038.5 562.5 L1039.5 561.5 L1044.5 561.5 L1045.5 562.5 L1045.5 564.5 L1044.5 565.5 L1039.5 565.5 L1038.5 564.5 M1044.5 565.5 L1039.5 561.5 M1045.5 559.5 L1040.5 559.5 L1040.5 556.5 L1042.5 555.5 L1045.5 555.5 M1038.5 548.5 L1038.5 552.5 L1045.5 552.5 M1042.5 552.5 L1042.5 549.5"/>
<polyline class="w" points="1090.5,580.5 1090.5,647.5"/>
<line x1="1082.5" y1="647.5" x2="1098.5" y2="647.5" stroke-width="1.2"/>
<polygon points="1089.5,628.5 1091.5,628.5 1094.3,631.7 1094.3,633.3 1091.5,636.5 1089.5,636.5 1086.7,633.3 1086.7,631.7" class="f"/>
<path class="t" stroke-width="1" d="M1088.5 625.5 L1080.5 625.5 L1080.5 621.5 L1081.5 620.5 L1085.5 620.5 L1086.5 621.5 L1086.5 625.5 M1080.5 616.5 L1080.5 613.5 M1080.5 615.5 L1088.5 615.5 M1088.5 616.5 L1088.5 613.5 M1088.5 608.5 L1080.5 608.5 L1088.5 603.5 L1080.5 603.5 M1080.5 595.5 L1080.5 598.5 L1083.5 600.5 L1087.5 600.5 L1088.5 599.5 L1088.5 596.5 L1087.5 595.5 L1085.5 595.5 L1084.5 596.5 L1084.5 600.5"/>
<rect x="1125.25" y="588.25" width="6.5" height="14" class="b" stroke-width="2.5"/>
<path class="t" stroke-width="1" d="M1106.5 607.5 L1106.5 616.5 M1112.5 607.5 L1108.5 611.5 L1112.5 616.5 M1106.5 612.5 L1108.5 611.5 M1116.5 609.5 L1118.5 607.5 L1118.5 616.5 M1116.5 616.5 L1119.5 616.5"/>
<polyline class="w" points="1165.5,580.5 1165.5,700.5"/>
<rect x="1158.5" y="700.5" width="15" height="29" class="b" stroke-width="3"/>
<polyline class="w" points="1165.5,730.5 1165.5,774.5"/>
<line x1="1157.5" y1="774.5" x2="1173.5" y2="774.5" stroke-width="1.2"/>
<polygon points="1164.5,665.5 1166.5,665.5 1169.3,668.7 1169.3,670.3 1166.5,673.5 1164.5,673.5 1161.7,670.3 1161.7,668.7" class="f"/>
<polygon points="1164.5,754.5 1166.5,754.5 1169.3,757.7 1169.3,759.3 1166.5,762.5 1164.5,762.5 1161.7,759.3 1161.7,757.7" class="f"/>
<path class="t" stroke-width="1" d="M1164.5 631.5 L1156.5 631.5 L1156.5 627.5 L1157.5 626.5 L1161.5 626.5 L1162.5 627.5 L1162.5 631.5 M1156.5 622.5 L1156.5 619.5 M1156.5 621.5 L1164.5 621.5 M1164.5 622.5 L1164.5 619.5 M1164.5 616.5 L1156.5 616.5 L1164.5 611.5 L1156.5 611.5 M1157.5 607.5 L1156.5 606.5 L1164.5 606.5 M1164.5 607.5 L1164.5 604.5 M1156.5 599.5 L1156.5 596.5 L1157.5 595.5 L1163.5 595.5 L1164.5 596.5 L1164.5 599.5 L1163.5 600.5 L1157.5 600.5 L1156.5 599.5 M1163.5 600.5 L1157.5 595.5"/>
<path class="t" stroke-width="1" d="M1151.5 729.5 L1144.5 729.5 L1144.5 726.5 L1145.5 725.5 L1146.5 725.5 L1148.5 726.5 L1148.5 729.5 M1148.5 726.5 L1150.5 725.5 L1151.5 725.5 M1144.5 717.5 L1144.5 719.5 L1146.5 721.5 L1150.5 721.5 L1151.5 720.5 L1151.5 718.5 L1150.5 717.5 L1149.5 717.5 L1148.5 718.5 L1148.5 721.5"/>
<path class="t" stroke-width="1" d="M1182.5 728.5 L1182.5 726.5 L1183.5 725.5 L1188.5 725.5 L1189.5 726.5 L1189.5 728.5 L1188.5 729.5 L1183.5 729.5 L1182.5 728.5 M1188.5 729.5 L1183.5 725.5 M1188.5 720.5 L1188.5 719.5 L1189.5 719.5 L1189.5 720.5 L1188.5 720.5 M1183.5 715.5 L1182.5 714.5 L1189.5 714.5 M1189.5 715.5 L1189.5 713.5 M1189.5 709.5 L1182.5 709.5 L1182.5 706.5 L1183.5 705.5 L1184.5 705.5 L1186.5 706.5 L1186.5 709.5 M1186.5 706.5 L1188.5 705.5 L1189.5 705.5 M1183.5 695.5 L1182.5 694.5 L1189.5 694.5 M1189.5 695.5 L1189.5 693.5 M1182.5 690.5 L1189.5 690.5 L1187.5 688.5 L1189.5 686.5 L1182.5 686.5"/>
<rect x="978.5" y="595.5" width="15" height="29" class="b" stroke-width="3"/>
<polyline class="w" points="985.5,625.5 985.5,797.5 1267.5,797.5"/>
<path class="t" stroke-width="1" d="M971.5 612.5 L964.5 612.5 L968.5 615.5 L968.5 611.5 M964.5 607.5 L971.5 607.5 M964.5 603.5 L968.5 606.5 L971.5 603.5 M968.5 607.5 L968.5 606.5 M964.5 600.5 L964.5 596.5 L965.5 596.5 L970.5 600.5 L971.5 600.5"/>
<path class="t" stroke-width="1" d="M1009.5 613.5 L1002.5 613.5 L1002.5 610.5 L1003.5 609.5 L1004.5 609.5 L1006.5 610.5 L1006.5 613.5 M1006.5 610.5 L1008.5 609.5 L1009.5 609.5 M1003.5 605.5 L1002.5 604.5 L1009.5 604.5 M1009.5 605.5 L1009.5 603.5 M1003.5 598.5 L1002.5 597.5 L1009.5 597.5 M1009.5 598.5 L1009.5 596.5"/>
<polyline class="w" points="940.5,669.5 1165.5,669.5"/>
<polyline class="w" points="940.5,669.5 940.5,775.5"/>
<rect x="933.5" y="775.5" width="15" height="29" class="b" stroke-width="3"/>
<polyline class="w" points="940.5,805.5 940.5,833.5 836.5,833.5"/>
<path class="t" stroke-width="1" d="M925.5 805.5 L918.5 805.5 L918.5 802.5 L919.5 801.5 L920.5 801.5 L922.5 802.5 L922.5 805.5 M922.5 802.5 L924.5 801.5 L925.5 801.5 M919.5 798.5 L918.5 797.5 L918.5 795.5 L919.5 794.5 L920.5 794.5 L922.5 795.5 L923.5 794.5 L924.5 794.5 L925.5 795.5 L925.5 797.5 L924.5 798.5 M922.5 796.5 L922.5 795.5 M919.5 791.5 L918.5 790.5 L918.5 788.5 L919.5 787.5 L920.5 787.5 L925.5 791.5 L925.5 787.5"/>
<path class="t" stroke-width="1" d="M957.5 805.5 L956.5 804.5 L956.5 802.5 L957.5 801.5 L958.5 801.5 L963.5 805.5 L963.5 801.5 M957.5 798.5 L956.5 797.5 L956.5 795.5 L957.5 794.5 L958.5 794.5 L963.5 798.5 L963.5 794.5 M956.5 791.5 L963.5 791.5 M956.5 787.5 L960.5 790.5 L963.5 787.5 M960.5 791.5 L960.5 790.5"/>
<polyline class="w" points="1182.5,452.5 1233.5,452.5 1233.5,406.5 1420.5,406.5 1420.5,474.5 1489.5,474.5"/>
<polyline class="w" points="1182.5,474.5 1278.5,474.5 1278.5,445.5"/>
<rect x="1270" y="436.25" width="17" height="2.5" class="f"/>
<rect x="1270" y="443.75" width="17" height="2.5" class="f"/>
<polyline class="w" points="1278.5,437.5 1278.5,406.5"/>
<polyline class="w" points="1182.5,512.5 1278.5,512.5 1278.5,542.5"/>
<rect x="1270" y="540.75" width="17" height="2.5" class="f"/>
<rect x="1270" y="548.75" width="17" height="2.5" class="f"/>
<polyline class="w" points="1278.5,550.5 1278.5,579.5"/>
<polyline class="w" points="1182.5,534.5 1233.5,534.5 1233.5,579.5 1458.5,579.5 1458.5,774.5 1360.5,774.5 1360.5,730.5"/>
<polygon points="1277.5,402.5 1279.5,402.5 1282.3,405.7 1282.3,407.3 1279.5,410.5 1277.5,410.5 1274.7,407.3 1274.7,405.7" class="f"/>
<polygon points="1359.5,402.5 1361.5,402.5 1364.3,405.7 1364.3,407.3 1361.5,410.5 1359.5,410.5 1356.7,407.3 1356.7,405.7" class="f"/>
<polygon points="1397.5,402.5 1399.5,402.5 1402.3,405.7 1402.3,407.3 1399.5,410.5 1397.5,410.5 1394.7,407.3 1394.7,405.7" class="f"/>
<polygon points="1277.5,575.5 1279.5,575.5 1282.3,578.7 1282.3,580.3 1279.5,583.5 1277.5,583.5 1274.7,580.3 1274.7,578.7" class="f"/>
<polygon points="1359.5,575.5 1361.5,575.5 1364.3,578.7 1364.3,580.3 1361.5,583.5 1359.5,583.5 1356.7,580.3 1356.7,578.7" class="f"/>
<polygon points="1419.5,575.5 1421.5,575.5 1424.3,578.7 1424.3,580.3 1421.5,583.5 1419.5,583.5 1416.7,580.3 1416.7,578.7" class="f"/>
<polyline class="w" points="1360.5,406.5 1360.5,437.5"/>
<rect x="1352" y="436.25" width="17" height="2.5" class="f"/>
<rect x="1352" y="443.75" width="17" height="2.5" class="f"/>
<polyline class="w" points="1360.5,445.5 1360.5,542.5"/>
<rect x="1352" y="540.75" width="17" height="2.5" class="f"/>
<rect x="1352" y="548.75" width="17" height="2.5" class="f"/>
<polyline class="w" points="1360.5,550.5 1360.5,579.5"/>
<polygon points="1359.5,485.5 1361.5,485.5 1364.3,488.7 1364.3,490.3 1361.5,493.5 1359.5,493.5 1356.7,490.3 1356.7,488.7" class="f"/>
<polyline class="w" points="1360.5,489.5 1338.5,489.5 1338.5,504.5"/>
<line x1="1330.5" y1="504.5" x2="1346.5" y2="504.5" stroke-width="1.2"/>
<polyline class="w" points="1398.5,406.5 1398.5,608.5 1360.5,608.5 1360.5,640.5"/>
<polyline class="w" points="1489.5,504.5 1420.5,504.5 1420.5,579.5"/>
<path class="t" stroke-width="1" d="M1198.5 449.5 L1198.5 441.5 L1202.5 441.5 L1203.5 442.5 L1203.5 446.5 L1202.5 447.5 L1198.5 447.5 M1207.5 441.5 L1210.5 441.5 M1208.5 441.5 L1208.5 449.5 M1207.5 449.5 L1210.5 449.5 M1215.5 449.5 L1215.5 441.5 L1220.5 449.5 L1220.5 441.5 M1223.5 442.5 L1224.5 441.5 L1227.5 441.5 L1228.5 442.5 L1228.5 444.5 L1227.5 445.5 L1228.5 446.5 L1228.5 448.5 L1227.5 449.5 L1224.5 449.5 L1223.5 448.5 M1225.5 445.5 L1227.5 445.5"/>
<path class="t" stroke-width="1" d="M1198.5 472.5 L1198.5 464.5 L1202.5 464.5 L1203.5 465.5 L1203.5 469.5 L1202.5 470.5 L1198.5 470.5 M1207.5 464.5 L1210.5 464.5 M1208.5 464.5 L1208.5 472.5 M1207.5 472.5 L1210.5 472.5 M1215.5 472.5 L1215.5 464.5 L1220.5 472.5 L1220.5 464.5 M1227.5 472.5 L1227.5 464.5 L1223.5 468.5 L1228.5 468.5"/>
<path class="t" stroke-width="1" d="M1198.5 509.5 L1198.5 501.5 L1202.5 501.5 L1203.5 502.5 L1203.5 506.5 L1202.5 507.5 L1198.5 507.5 M1207.5 501.5 L1210.5 501.5 M1208.5 501.5 L1208.5 509.5 M1207.5 509.5 L1210.5 509.5 M1215.5 509.5 L1215.5 501.5 L1220.5 509.5 L1220.5 501.5 M1224.5 501.5 L1227.5 501.5 L1228.5 502.5 L1228.5 504.5 L1227.5 505.5 L1224.5 505.5 L1223.5 504.5 L1223.5 502.5 L1224.5 501.5 M1224.5 505.5 L1223.5 506.5 L1223.5 508.5 L1224.5 509.5 L1227.5 509.5 L1228.5 508.5 L1228.5 506.5 L1227.5 505.5"/>
<path class="t" stroke-width="1" d="M1198.5 532.5 L1198.5 524.5 L1202.5 524.5 L1203.5 525.5 L1203.5 529.5 L1202.5 530.5 L1198.5 530.5 M1208.5 524.5 L1211.5 524.5 M1209.5 524.5 L1209.5 532.5 M1208.5 532.5 L1211.5 532.5 M1216.5 532.5 L1216.5 524.5 L1221.5 532.5 L1221.5 524.5 M1225.5 525.5 L1226.5 524.5 L1226.5 532.5 M1225.5 532.5 L1228.5 532.5"/>
<path class="t" stroke-width="1" d="M1257.5 449.5 L1256.5 450.5 L1256.5 452.5 L1257.5 453.5 L1262.5 453.5 L1263.5 452.5 L1263.5 450.5 L1262.5 449.5 M1256.5 440.5 L1256.5 444.5 L1259.5 444.5 L1259.5 441.5 L1260.5 440.5 L1262.5 440.5 L1263.5 441.5 L1263.5 443.5 L1262.5 444.5"/>
<path class="t" stroke-width="1" d="M1294.5 453.5 L1293.5 452.5 L1300.5 452.5 M1300.5 453.5 L1300.5 451.5 M1293.5 442.5 L1293.5 446.5 L1296.5 446.5 L1296.5 443.5 L1297.5 442.5 L1299.5 442.5 L1300.5 443.5 L1300.5 445.5 L1299.5 446.5 M1300.5 439.5 L1295.5 439.5 L1295.5 436.5 L1297.5 435.5 L1300.5 435.5 M1293.5 428.5 L1293.5 432.5 L1300.5 432.5 M1297.5 432.5 L1297.5 429.5"/>
<path class="t" stroke-width="1" d="M1340.5 449.5 L1339.5 450.5 L1339.5 452.5 L1340.5 453.5 L1345.5 453.5 L1346.5 452.5 L1346.5 450.5 L1345.5 449.5 M1339.5 443.5 L1339.5 441.5 L1340.5 440.5 L1341.5 440.5 L1343.5 441.5 L1343.5 443.5 L1341.5 444.5 L1340.5 444.5 L1339.5 443.5 M1343.5 443.5 L1344.5 444.5 L1345.5 444.5 L1346.5 443.5 L1346.5 441.5 L1345.5 440.5 L1344.5 440.5 L1343.5 441.5"/>
<path class="t" stroke-width="1" d="M1377.5 453.5 L1376.5 452.5 L1383.5 452.5 M1383.5 453.5 L1383.5 451.5 M1376.5 445.5 L1376.5 443.5 L1377.5 442.5 L1382.5 442.5 L1383.5 443.5 L1383.5 445.5 L1382.5 446.5 L1377.5 446.5 L1376.5 445.5 M1382.5 446.5 L1377.5 442.5 M1376.5 438.5 L1376.5 436.5 L1377.5 435.5 L1382.5 435.5 L1383.5 436.5 L1383.5 438.5 L1382.5 439.5 L1377.5 439.5 L1376.5 438.5 M1382.5 439.5 L1377.5 435.5 M1383.5 432.5 L1378.5 432.5 L1378.5 429.5 L1380.5 428.5 L1383.5 428.5 M1376.5 420.5 L1376.5 424.5 L1383.5 424.5 M1380.5 424.5 L1380.5 421.5"/>
<path class="t" stroke-width="1" d="M1258.5 553.5 L1257.5 554.5 L1257.5 556.5 L1258.5 557.5 L1263.5 557.5 L1264.5 556.5 L1264.5 554.5 L1263.5 553.5 M1257.5 546.5 L1257.5 548.5 L1259.5 550.5 L1263.5 550.5 L1264.5 549.5 L1264.5 547.5 L1263.5 546.5 L1262.5 546.5 L1261.5 547.5 L1261.5 550.5"/>
<path class="t" stroke-width="1" d="M1295.5 557.5 L1294.5 556.5 L1301.5 556.5 M1301.5 557.5 L1301.5 555.5 M1294.5 547.5 L1294.5 551.5 L1297.5 551.5 L1297.5 548.5 L1298.5 547.5 L1300.5 547.5 L1301.5 548.5 L1301.5 550.5 L1300.5 551.5 M1301.5 543.5 L1296.5 543.5 L1296.5 540.5 L1298.5 539.5 L1301.5 539.5 M1294.5 532.5 L1294.5 536.5 L1301.5 536.5 M1298.5 536.5 L1298.5 533.5"/>
<path class="t" stroke-width="1" d="M1340.5 553.5 L1339.5 554.5 L1339.5 556.5 L1340.5 557.5 L1345.5 557.5 L1346.5 556.5 L1346.5 554.5 L1345.5 553.5 M1339.5 550.5 L1339.5 546.5 L1340.5 546.5 L1345.5 550.5 L1346.5 550.5"/>
<path class="t" stroke-width="1" d="M1377.5 557.5 L1376.5 556.5 L1383.5 556.5 M1383.5 557.5 L1383.5 555.5 M1376.5 549.5 L1376.5 547.5 L1377.5 546.5 L1382.5 546.5 L1383.5 547.5 L1383.5 549.5 L1382.5 550.5 L1377.5 550.5 L1376.5 549.5 M1382.5 550.5 L1377.5 546.5 M1376.5 542.5 L1376.5 540.5 L1377.5 539.5 L1382.5 539.5 L1383.5 540.5 L1383.5 542.5 L1382.5 543.5 L1377.5 543.5 L1376.5 542.5 M1382.5 543.5 L1377.5 539.5 M1383.5 536.5 L1378.5 536.5 L1378.5 533.5 L1380.5 532.5 L1383.5 532.5 M1376.5 525.5 L1376.5 529.5 L1383.5 529.5 M1380.5 529.5 L1380.5 526.5"/>
<polygon points="1515,464 1511,464 1509.3,466 1507,468 1506,469.5 1504.7,471.3 1490.2,471.3 1489,472.5 1489,476.5 1490.2,477.7 1504.7,477.7 1506,479.5 1507,481 1509.3,483 1511,485 1515,485 1515,479.1 1512,479.1 1510.8,477.2 1510,474.5 1510.8,471.8 1512,469.9 1515,469.9" class="f"/>
<polygon points="1515,494 1511,494 1509.3,496 1507,498 1506,499.5 1504.7,501.3 1490.2,501.3 1489,502.5 1489,506.5 1490.2,507.7 1504.7,507.7 1506,509.5 1507,511 1509.3,513 1511,515 1515,515 1515,509.1 1512,509.1 1510.8,507.2 1510,504.5 1510.8,501.8 1512,499.9 1515,499.9" class="f"/>
<path class="t" stroke-width="1" d="M1488.5 442.5 L1488.5 448.5 L1491.5 451.5 L1494.5 448.5 L1494.5 442.5 M1499.5 444.5 L1500.5 442.5 L1503.5 442.5 L1505.5 444.5 L1505.5 445.5 L1503.5 446.5 L1505.5 448.5 L1505.5 450.5 L1503.5 451.5 L1500.5 451.5 L1499.5 450.5 M1501.5 446.5 L1503.5 446.5"/>
<path class="t" stroke-width="1" d="M1447.5 472.5 L1447.5 464.5 L1451.5 464.5 L1452.5 465.5 L1452.5 469.5 L1451.5 470.5 L1447.5 470.5 M1456.5 464.5 L1459.5 464.5 M1457.5 464.5 L1457.5 472.5 M1456.5 472.5 L1459.5 472.5 M1463.5 472.5 L1463.5 464.5 L1468.5 472.5 L1468.5 464.5 M1472.5 465.5 L1473.5 464.5 L1473.5 472.5 M1472.5 472.5 L1475.5 472.5"/>
<path class="t" stroke-width="1" d="M1517.5 481.5 L1517.5 471.5 L1522.5 471.5 L1523.5 473.5 L1523.5 474.5 L1522.5 476.5 L1517.5 476.5 M1522.5 476.5 L1523.5 478.5 L1523.5 479.5 L1522.5 481.5 L1517.5 481.5 M1527.5 471.5 L1527.5 481.5 L1533.5 481.5 M1538.5 481.5 L1538.5 474.5 L1541.5 471.5 L1544.5 474.5 L1544.5 481.5 M1538.5 477.5 L1544.5 477.5 M1548.5 471.5 L1548.5 479.5 L1550.5 481.5 L1553.5 481.5 L1554.5 479.5 L1554.5 471.5"/>
<path class="t" stroke-width="1" d="M1445.5 502.5 L1445.5 494.5 L1449.5 494.5 L1450.5 495.5 L1450.5 499.5 L1449.5 500.5 L1445.5 500.5 M1454.5 494.5 L1457.5 494.5 M1455.5 494.5 L1455.5 502.5 M1454.5 502.5 L1457.5 502.5 M1462.5 502.5 L1462.5 494.5 L1467.5 502.5 L1467.5 494.5 M1470.5 495.5 L1471.5 494.5 L1474.5 494.5 L1475.5 495.5 L1475.5 497.5 L1470.5 502.5 L1475.5 502.5"/>
<path class="t" stroke-width="1" d="M1517.5 512.5 L1517.5 502.5 L1522.5 502.5 L1523.5 504.5 L1523.5 505.5 L1522.5 507.5 L1517.5 507.5 M1521.5 507.5 L1523.5 510.5 L1523.5 512.5 M1530.5 502.5 L1533.5 502.5 L1534.5 504.5 L1534.5 510.5 L1533.5 512.5 L1530.5 512.5 L1528.5 510.5 L1528.5 504.5 L1530.5 502.5 M1538.5 502.5 L1544.5 502.5 M1541.5 502.5 L1541.5 512.5"/>
<path class="t" stroke-width="1" d="M1431.5 535.5 L1431.5 525.5 L1436.5 525.5 L1437.5 527.5 L1437.5 528.5 L1436.5 530.5 L1431.5 530.5 M1435.5 530.5 L1437.5 533.5 L1437.5 535.5 M1442.5 525.5 L1446.5 525.5 M1444.5 525.5 L1444.5 535.5 M1442.5 535.5 L1446.5 535.5 M1450.5 535.5 L1450.5 528.5 L1453.5 525.5 L1456.5 528.5 L1456.5 535.5 M1450.5 531.5 L1456.5 531.5 M1460.5 527.5 L1462.5 525.5 L1465.5 525.5 L1466.5 527.5 L1466.5 528.5 L1465.5 530.5 L1466.5 532.5 L1466.5 533.5 L1465.5 535.5 L1462.5 535.5 L1460.5 533.5 M1462.5 530.5 L1465.5 530.5 M1471.5 525.5 L1474.5 525.5 L1475.5 527.5 L1475.5 528.5 L1474.5 530.5 L1471.5 530.5 L1469.5 528.5 L1469.5 527.5 L1471.5 525.5 M1471.5 530.5 L1469.5 532.5 L1469.5 533.5 L1471.5 535.5 L1474.5 535.5 L1475.5 533.5 L1475.5 532.5 L1474.5 530.5 M1479.5 527.5 L1481.5 525.5 L1484.5 525.5 L1485.5 527.5 L1485.5 528.5 L1479.5 535.5 L1485.5 535.5 M1489.5 536.5 L1495.5 536.5 M1498.5 527.5 L1500.5 525.5 L1503.5 525.5 L1504.5 527.5 L1504.5 528.5 L1498.5 535.5 L1504.5 535.5"/>
<polyline class="w" points="1285.5,234.5 1285.5,272.5 1346.5,272.5 1346.5,339.5 1440.5,339.5"/>
<polyline class="w" points="1346.5,309.5 1440.5,309.5"/>
<polygon points="1345.5,305.5 1347.5,305.5 1350.3,308.7 1350.3,310.3 1347.5,313.5 1345.5,313.5 1342.7,310.3 1342.7,308.7" class="f"/>
<polygon points="1466,299 1462,299 1460.3,301 1458,303 1457,304.5 1455.7,306.3 1441.2,306.3 1440,307.5 1440,311.5 1441.2,312.7 1455.7,312.7 1457,314.5 1458,316 1460.3,318 1462,320 1466,320 1466,314.1 1463,314.1 1461.8,312.2 1461,309.5 1461.8,306.8 1463,304.9 1466,304.9" class="f"/>
<polygon points="1466,329 1462,329 1460.3,331 1458,333 1457,334.5 1455.7,336.3 1441.2,336.3 1440,337.5 1440,341.5 1441.2,342.7 1455.7,342.7 1457,344.5 1458,346 1460.3,348 1462,350 1466,350 1466,344.1 1463,344.1 1461.8,342.2 1461,339.5 1461.8,336.8 1463,334.9 1466,334.9" class="f"/>
<path class="t" stroke-width="1" d="M1382.5 290.5 L1382.5 280.5 L1387.5 280.5 L1388.5 282.5 L1388.5 283.5 L1387.5 285.5 L1382.5 285.5 M1386.5 285.5 L1388.5 288.5 L1388.5 290.5 M1392.5 280.5 L1396.5 280.5 M1394.5 280.5 L1394.5 290.5 M1392.5 290.5 L1396.5 290.5 M1401.5 290.5 L1401.5 283.5 L1404.5 280.5 L1407.5 283.5 L1407.5 290.5 M1401.5 286.5 L1407.5 286.5 M1410.5 282.5 L1412.5 280.5 L1415.5 280.5 L1416.5 282.5 L1416.5 283.5 L1415.5 285.5 L1416.5 287.5 L1416.5 288.5 L1415.5 290.5 L1412.5 290.5 L1410.5 288.5 M1412.5 285.5 L1415.5 285.5 M1422.5 280.5 L1425.5 280.5 L1426.5 282.5 L1426.5 283.5 L1425.5 285.5 L1422.5 285.5 L1420.5 283.5 L1420.5 282.5 L1422.5 280.5 M1422.5 285.5 L1420.5 287.5 L1420.5 288.5 L1422.5 290.5 L1425.5 290.5 L1426.5 288.5 L1426.5 287.5 L1425.5 285.5 M1429.5 282.5 L1431.5 280.5 L1434.5 280.5 L1435.5 282.5 L1435.5 283.5 L1429.5 290.5 L1435.5 290.5 M1439.5 291.5 L1445.5 291.5 M1448.5 282.5 L1450.5 280.5 L1453.5 280.5 L1454.5 282.5 L1454.5 283.5 L1448.5 290.5 L1454.5 290.5"/>
<path class="t" stroke-width="1" d="M1398.5 307.5 L1398.5 299.5 L1402.5 299.5 L1403.5 300.5 L1403.5 304.5 L1402.5 305.5 L1398.5 305.5 M1407.5 299.5 L1410.5 299.5 M1408.5 299.5 L1408.5 307.5 M1407.5 307.5 L1410.5 307.5 M1414.5 307.5 L1414.5 299.5 L1419.5 307.5 L1419.5 299.5 M1423.5 300.5 L1424.5 299.5 L1427.5 299.5 L1428.5 300.5 L1428.5 302.5 L1423.5 307.5 L1428.5 307.5"/>
<path class="t" stroke-width="1" d="M1398.5 337.5 L1398.5 329.5 L1402.5 329.5 L1403.5 330.5 L1403.5 334.5 L1402.5 335.5 L1398.5 335.5 M1408.5 329.5 L1411.5 329.5 M1409.5 329.5 L1409.5 337.5 M1408.5 337.5 L1411.5 337.5 M1415.5 337.5 L1415.5 329.5 L1420.5 337.5 L1420.5 329.5 M1425.5 330.5 L1426.5 329.5 L1426.5 337.5 M1425.5 337.5 L1428.5 337.5"/>
<path class="t" stroke-width="1" d="M1438.5 362.5 L1438.5 369.5 L1441.5 372.5 L1444.5 369.5 L1444.5 362.5 M1454.5 362.5 L1451.5 362.5 L1448.5 365.5 L1448.5 370.5 L1450.5 372.5 L1453.5 372.5 L1454.5 370.5 L1454.5 369.5 L1453.5 367.5 L1448.5 367.5"/>
<polygon points="1361,640 1406,684.5 1361,729 1316,684.5" class="p" stroke-width="2.3"/>
<line x1="1345" y1="685" x2="1377" y2="685" stroke-width="2"/>
<polygon points="1352,676.5 1367.5,684.5 1352,692.5" class="f"/>
<line x1="1369" y1="676" x2="1369" y2="693" stroke-width="2"/>
<line x1="1330" y1="685" x2="1336" y2="685" stroke-width="1"/>
<line x1="1333.5" y1="682" x2="1333.5" y2="688" stroke-width="1"/>
<line x1="1383.5" y1="685" x2="1389" y2="685" stroke-width="1"/>
<line x1="1293.5" y1="678.5" x2="1300.5" y2="678.5" stroke-width="1"/>
<line x1="1297.5" y1="675" x2="1297.5" y2="682" stroke-width="1"/>
<line x1="1424" y1="678.5" x2="1431" y2="678.5" stroke-width="1"/>
<path class="t" stroke-width="1" d="M1284.5 646.5 L1283.5 644.5 L1280.5 644.5 L1278.5 646.5 L1278.5 652.5 L1280.5 654.5 L1283.5 654.5 L1284.5 652.5 L1284.5 649.5 L1281.5 649.5 M1288.5 644.5 L1288.5 654.5 L1294.5 654.5 M1298.5 646.5 L1300.5 644.5 L1303.5 644.5 L1304.5 646.5 L1304.5 647.5 L1298.5 654.5 L1304.5 654.5"/>
<path class="t" stroke-width="1" d="M1404.5 646.5 L1403.5 644.5 L1400.5 644.5 L1398.5 646.5 L1398.5 652.5 L1400.5 654.5 L1403.5 654.5 L1404.5 652.5 L1404.5 649.5 L1401.5 649.5 M1407.5 644.5 L1407.5 654.5 L1413.5 654.5 M1417.5 654.5 L1417.5 644.5 L1422.5 644.5 L1423.5 646.5 L1423.5 647.5 L1422.5 649.5 L1417.5 649.5 M1421.5 649.5 L1423.5 652.5 L1423.5 654.5 M1426.5 644.5 L1431.5 644.5 L1432.5 646.5 L1432.5 652.5 L1431.5 654.5 L1426.5 654.5 L1426.5 644.5 M1436.5 644.5 L1440.5 644.5 M1438.5 644.5 L1438.5 654.5 M1436.5 654.5 L1440.5 654.5 M1445.5 644.5 L1445.5 654.5 L1451.5 654.5"/>
<path class="t" stroke-width="1" d="M1358.5 622.5 L1350.5 622.5 L1350.5 618.5 L1351.5 617.5 L1355.5 617.5 L1356.5 618.5 L1356.5 622.5 M1350.5 613.5 L1358.5 613.5 L1355.5 611.5 L1358.5 608.5 L1350.5 608.5 M1351.5 603.5 L1350.5 602.5 L1358.5 602.5 M1358.5 603.5 L1358.5 600.5"/>
<path class="t" stroke-width="1" d="M1358.5 769.5 L1350.5 769.5 L1350.5 765.5 L1351.5 764.5 L1355.5 764.5 L1356.5 765.5 L1356.5 769.5 M1350.5 760.5 L1358.5 760.5 L1355.5 758.5 L1358.5 755.5 L1350.5 755.5 M1351.5 751.5 L1350.5 750.5 L1350.5 747.5 L1351.5 746.5 L1353.5 746.5 L1358.5 751.5 L1358.5 746.5"/>
<polyline class="w" points="1316.5,684.5 1225.5,684.5"/>
<rect x="1226" y="677.5" width="29.5" height="15" class="b" stroke-width="2"/>
<polyline class="w" points="1225.5,684.5 1195.5,684.5 1195.5,758.5 1165.5,758.5"/>
<polygon points="1284.5,680.5 1286.5,680.5 1289.3,683.7 1289.3,685.3 1286.5,688.5 1284.5,688.5 1281.7,685.3 1281.7,683.7" class="f"/>
<path class="t" stroke-width="1" d="M1226.5 669.5 L1226.5 662.5 L1229.5 662.5 L1230.5 663.5 L1230.5 664.5 L1229.5 666.5 L1226.5 666.5 M1229.5 666.5 L1230.5 668.5 L1230.5 669.5 M1234.5 662.5 L1238.5 662.5 L1238.5 663.5 L1234.5 668.5 L1234.5 669.5"/>
<path class="t" stroke-width="1" d="M1226.5 701.5 L1227.5 700.5 L1229.5 700.5 L1230.5 701.5 L1230.5 702.5 L1229.5 704.5 L1230.5 705.5 L1230.5 706.5 L1229.5 707.5 L1227.5 707.5 L1226.5 706.5 M1228.5 704.5 L1229.5 704.5 M1233.5 701.5 L1234.5 700.5 L1236.5 700.5 L1237.5 701.5 L1237.5 702.5 L1236.5 704.5 L1237.5 705.5 L1237.5 706.5 L1236.5 707.5 L1234.5 707.5 L1233.5 706.5 M1235.5 704.5 L1236.5 704.5 M1241.5 700.5 L1243.5 700.5 L1244.5 701.5 L1244.5 706.5 L1243.5 707.5 L1241.5 707.5 L1240.5 706.5 L1240.5 701.5 L1241.5 700.5 M1240.5 706.5 L1244.5 701.5 M1248.5 700.5 L1248.5 707.5 M1252.5 700.5 L1249.5 704.5 L1252.5 707.5 M1248.5 704.5 L1249.5 704.5"/>
<polyline class="w" points="1406.5,684.5 1435.5,684.5 1435.5,848.5 1285.5,848.5 1285.5,766.5"/>
<polyline class="w" points="1285.5,684.5 1285.5,745.5 1274.5,745.5"/>
<line x1="1267.5" y1="736.5" x2="1267.5" y2="798.5" stroke-width="2"/>
<line x1="1275" y1="736.5" x2="1275" y2="753" stroke-width="2.5"/>
<line x1="1275" y1="760" x2="1275" y2="775.5" stroke-width="2.5"/>
<line x1="1275" y1="782.5" x2="1275" y2="798.5" stroke-width="2.5"/>
<polyline class="w" points="1274.5,789.5 1285.5,789.5"/>
<polyline class="w" points="1276.5,767.5 1285.5,767.5"/>
<polygon points="1276,767.5 1283,762.5 1283,772.5" class="f"/>
<path class="t" stroke-width="1" d="M1284.5 719.5 L1276.5 719.5 L1276.5 715.5 L1277.5 714.5 L1281.5 714.5 L1282.5 715.5 L1282.5 719.5 M1276.5 710.5 L1276.5 707.5 M1276.5 709.5 L1284.5 709.5 M1284.5 710.5 L1284.5 707.5 M1284.5 703.5 L1276.5 703.5 L1284.5 698.5 L1276.5 698.5 M1277.5 694.5 L1276.5 693.5 L1276.5 690.5 L1277.5 689.5 L1279.5 689.5 L1284.5 694.5 L1284.5 689.5"/>
<path class="t" stroke-width="1" d="M1284.5 843.5 L1276.5 843.5 L1276.5 839.5 L1277.5 838.5 L1281.5 838.5 L1282.5 839.5 L1282.5 843.5 M1276.5 834.5 L1276.5 831.5 M1276.5 833.5 L1284.5 833.5 M1284.5 834.5 L1284.5 831.5 M1284.5 827.5 L1276.5 827.5 L1284.5 822.5 L1276.5 822.5 M1277.5 818.5 L1276.5 817.5 L1276.5 814.5 L1277.5 813.5 L1279.5 813.5 L1280.5 814.5 L1281.5 813.5 L1283.5 813.5 L1284.5 814.5 L1284.5 817.5 L1283.5 818.5 M1280.5 816.5 L1280.5 814.5"/>
<path class="t" stroke-width="1" d="M1208.5 733.5 L1214.5 733.5 M1211.5 733.5 L1211.5 743.5 M1217.5 735.5 L1219.5 733.5 L1219.5 743.5 M1217.5 743.5 L1221.5 743.5"/>
<path class="t" stroke-width="1" d="M1202.5 773.5 L1202.5 764.5 L1206.5 764.5 L1208.5 766.5 L1208.5 767.5 L1206.5 768.5 L1202.5 768.5 M1206.5 768.5 L1208.5 770.5 L1208.5 772.5 L1206.5 773.5 L1202.5 773.5 M1211.5 764.5 L1211.5 772.5 L1212.5 773.5 L1215.5 773.5 L1217.5 772.5 L1217.5 764.5 M1221.5 764.5 L1227.5 764.5 L1227.5 766.5 L1221.5 771.5 L1221.5 773.5 L1227.5 773.5 M1230.5 764.5 L1236.5 764.5 L1236.5 766.5 L1230.5 772.5 L1230.5 773.5 M1241.5 766.5 L1243.5 764.5 L1243.5 773.5 M1241.5 773.5 L1244.5 773.5 M1249.5 773.5 L1249.5 767.5 L1252.5 764.5 L1255.5 767.5 L1255.5 773.5 M1249.5 769.5 L1255.5 769.5"/>
<path class="t" stroke-width="1" d="M1222.5 794.5 L1222.5 786.5 L1226.5 786.5 L1227.5 787.5 L1227.5 791.5 L1226.5 792.5 L1222.5 792.5 M1231.5 786.5 L1234.5 786.5 M1232.5 786.5 L1232.5 794.5 M1231.5 794.5 L1234.5 794.5 M1237.5 794.5 L1237.5 786.5 L1242.5 794.5 L1242.5 786.5 M1246.5 787.5 L1247.5 786.5 L1247.5 794.5 M1246.5 794.5 L1249.5 794.5"/>
<polygon points="791.5,849.5 835,820.5 835,879.5" class="p" stroke-width="3" stroke-linejoin="bevel"/>
<path class="t" stroke-width="1" d="M786.5 820.5 L786.5 827.5 L790.5 827.5 M793.5 827.5 L793.5 820.5 L795.5 822.5 L797.5 820.5 L797.5 827.5 M800.5 821.5 L801.5 820.5 L803.5 820.5 L804.5 821.5 L804.5 822.5 L803.5 824.5 L804.5 825.5 L804.5 826.5 L803.5 827.5 L801.5 827.5 L800.5 826.5 M802.5 824.5 L803.5 824.5 M807.5 821.5 L808.5 820.5 L810.5 820.5 L811.5 821.5 L811.5 822.5 L810.5 824.5 L811.5 825.5 L811.5 826.5 L810.5 827.5 L808.5 827.5 L807.5 826.5 M809.5 824.5 L810.5 824.5 M815.5 827.5 L817.5 827.5 L818.5 826.5 L818.5 821.5 L817.5 820.5 L815.5 820.5 L814.5 821.5 L814.5 822.5 L815.5 824.5 L818.5 824.5"/>
<path class="t" stroke-width="1" d="M805.5 846.5 L808.5 846.5 L809.5 847.5 L809.5 853.5 L808.5 854.5 L805.5 854.5 L804.5 853.5 L804.5 847.5 L805.5 846.5 M813.5 846.5 L813.5 853.5 L814.5 854.5 L817.5 854.5 L818.5 853.5 L818.5 846.5 M822.5 846.5 L827.5 846.5 M824.5 846.5 L824.5 854.5"/>
<path class="t" stroke-width="1" d="M768.5 880.5 L771.5 880.5 M769.5 880.5 L769.5 887.5 M768.5 887.5 L771.5 887.5 M778.5 881.5 L777.5 880.5 L775.5 880.5 L774.5 881.5 L774.5 886.5 L775.5 887.5 L777.5 887.5 L778.5 886.5 M782.5 881.5 L783.5 880.5 L783.5 887.5 M782.5 887.5 L784.5 887.5 M787.5 880.5 L787.5 887.5 M791.5 880.5 L788.5 884.5 L791.5 887.5 M787.5 884.5 L788.5 884.5 M795.5 880.5 L797.5 880.5 L798.5 881.5 L798.5 886.5 L797.5 887.5 L795.5 887.5 L794.5 886.5 L794.5 881.5 L795.5 880.5 M800.5 887.5 L800.5 880.5 L802.5 882.5 L804.5 880.5 L804.5 887.5 M807.5 887.5 L807.5 880.5 L810.5 880.5 L811.5 881.5 L811.5 884.5 L810.5 885.5 L807.5 885.5 M817.5 887.5 L817.5 880.5 L814.5 884.5 L818.5 884.5"/>
<line x1="813" y1="833.5" x2="821" y2="833.5" stroke-width="1.2"/>
<line x1="813" y1="864.5" x2="821" y2="864.5" stroke-width="1.2"/>
<line x1="817" y1="860.5" x2="817" y2="868.5" stroke-width="1.2"/>
<path class="t" stroke-width="1" d="M854.5 832.5 L854.5 824.5 L858.5 824.5 L859.5 825.5 L859.5 829.5 L858.5 830.5 L854.5 830.5 M863.5 824.5 L866.5 824.5 M864.5 824.5 L864.5 832.5 M863.5 832.5 L866.5 832.5 M870.5 832.5 L870.5 824.5 L875.5 832.5 L875.5 824.5 M878.5 825.5 L879.5 824.5 L879.5 832.5 M878.5 832.5 L881.5 832.5 M886.5 824.5 L889.5 824.5 L890.5 825.5 L890.5 831.5 L889.5 832.5 L886.5 832.5 L885.5 831.5 L885.5 825.5 L886.5 824.5 M885.5 831.5 L890.5 825.5"/>
<path class="t" stroke-width="1" d="M854.5 862.5 L854.5 854.5 L858.5 854.5 L859.5 855.5 L859.5 859.5 L858.5 860.5 L854.5 860.5 M862.5 854.5 L865.5 854.5 M863.5 854.5 L863.5 862.5 M862.5 862.5 L865.5 862.5 M869.5 862.5 L869.5 854.5 L874.5 862.5 L874.5 854.5 M877.5 855.5 L878.5 854.5 L878.5 862.5 M877.5 862.5 L880.5 862.5 M885.5 855.5 L886.5 854.5 L886.5 862.5 M885.5 862.5 L888.5 862.5"/>
<polyline class="w" points="836.5,864.5 865.5,864.5 865.5,1007.5"/>
<rect x="857" y="1005.75" width="17" height="2.5" class="f"/>
<rect x="857" y="1013.25" width="17" height="2.5" class="f"/>
<polyline class="w" points="865.5,1014.5 865.5,1052.5 918.5,1052.5"/>
<polygon points="864.5,958.5 866.5,958.5 869.3,961.7 869.3,963.3 866.5,966.5 864.5,966.5 861.7,963.3 861.7,961.7" class="f"/>
<polygon points="917.5,958.5 919.5,958.5 922.3,961.7 922.3,963.3 919.5,966.5 917.5,966.5 914.7,963.3 914.7,961.7" class="f"/>
<polygon points="917.5,1048.5 919.5,1048.5 922.3,1051.7 922.3,1053.3 919.5,1056.5 917.5,1056.5 914.7,1053.3 914.7,1051.7" class="f"/>
<polyline class="w" points="865.5,962.5 918.5,962.5"/>
<path class="t" stroke-width="1" d="M918.5 848.5 L918.5 854.5 L921.5 857.5 L924.5 854.5 L924.5 848.5 M934.5 850.5 L932.5 848.5 L929.5 848.5 L928.5 850.5 L928.5 856.5 L929.5 857.5 L932.5 857.5 L934.5 856.5 M944.5 850.5 L942.5 848.5 L939.5 848.5 L938.5 850.5 L938.5 856.5 L939.5 857.5 L942.5 857.5 L944.5 856.5"/>
<polyline class="w" points="918.5,856.5 918.5,895.5"/>
<rect x="911.5" y="895.5" width="15" height="29" class="b" stroke-width="3"/>
<polyline class="w" points="918.5,925.5 918.5,992.5"/>
<rect x="911.5" y="992.5" width="15" height="30" class="b" stroke-width="3"/>
<polyline class="w" points="918.5,1023.5 918.5,1059.5"/>
<line x1="910.5" y1="1059.5" x2="926.5" y2="1059.5" stroke-width="1.2"/>
<path class="t" stroke-width="1" d="M904.5 924.5 L897.5 924.5 L897.5 921.5 L898.5 920.5 L899.5 920.5 L901.5 921.5 L901.5 924.5 M901.5 921.5 L903.5 920.5 L904.5 920.5 M898.5 916.5 L897.5 915.5 L904.5 915.5 M904.5 916.5 L904.5 914.5 M897.5 907.5 L897.5 911.5 L900.5 911.5 L900.5 908.5 L901.5 907.5 L903.5 907.5 L904.5 908.5 L904.5 910.5 L903.5 911.5"/>
<path class="t" stroke-width="1" d="M935.5 924.5 L934.5 923.5 L934.5 921.5 L935.5 920.5 L936.5 920.5 L938.5 921.5 L939.5 920.5 L940.5 920.5 L941.5 921.5 L941.5 923.5 L940.5 924.5 M938.5 922.5 L938.5 921.5 M935.5 917.5 L934.5 916.5 L934.5 914.5 L935.5 913.5 L936.5 913.5 L938.5 914.5 L939.5 913.5 L940.5 913.5 L941.5 914.5 L941.5 916.5 L940.5 917.5 M938.5 915.5 L938.5 914.5 M934.5 911.5 L941.5 911.5 M934.5 907.5 L938.5 910.5 L941.5 907.5 M938.5 911.5 L938.5 910.5"/>
<path class="t" stroke-width="1" d="M904.5 1021.5 L897.5 1021.5 L897.5 1018.5 L898.5 1017.5 L899.5 1017.5 L901.5 1018.5 L901.5 1021.5 M901.5 1018.5 L903.5 1017.5 L904.5 1017.5 M898.5 1013.5 L897.5 1012.5 L904.5 1012.5 M904.5 1013.5 L904.5 1011.5 M904.5 1004.5 L897.5 1004.5 L901.5 1007.5 L901.5 1003.5"/>
<path class="t" stroke-width="1" d="M941.5 1012.5 L934.5 1012.5 L938.5 1015.5 L938.5 1011.5 M934.5 1008.5 L941.5 1008.5 M934.5 1004.5 L938.5 1007.5 L941.5 1004.5 M938.5 1008.5 L938.5 1007.5 M934.5 1001.5 L934.5 997.5 L935.5 997.5 L940.5 1001.5 L941.5 1001.5"/>
<path class="t" stroke-width="1" d="M845.5 1017.5 L844.5 1018.5 L844.5 1020.5 L845.5 1021.5 L850.5 1021.5 L851.5 1020.5 L851.5 1018.5 L850.5 1017.5 M845.5 1014.5 L844.5 1013.5 L851.5 1013.5 M851.5 1014.5 L851.5 1012.5 M844.5 1007.5 L844.5 1005.5 L845.5 1004.5 L850.5 1004.5 L851.5 1005.5 L851.5 1007.5 L850.5 1008.5 L845.5 1008.5 L844.5 1007.5 M850.5 1008.5 L845.5 1004.5"/>
<path class="t" stroke-width="1" d="M883.5 1021.5 L882.5 1020.5 L889.5 1020.5 M889.5 1021.5 L889.5 1019.5 M882.5 1014.5 L882.5 1012.5 L883.5 1011.5 L888.5 1011.5 L889.5 1012.5 L889.5 1014.5 L888.5 1015.5 L883.5 1015.5 L882.5 1014.5 M888.5 1015.5 L883.5 1011.5 M882.5 1007.5 L882.5 1005.5 L883.5 1004.5 L888.5 1004.5 L889.5 1005.5 L889.5 1007.5 L888.5 1008.5 L883.5 1008.5 L882.5 1007.5 M888.5 1008.5 L883.5 1004.5 M889.5 1001.5 L884.5 1001.5 L884.5 998.5 L886.5 997.5 L889.5 997.5 M882.5 990.5 L882.5 994.5 L889.5 994.5 M886.5 994.5 L886.5 991.5"/>
<polyline class="w" points="153.5,744.5 595.5,744.5 595.5,939.5 439.5,939.5"/>
<polyline class="w" points="153.5,744.5 153.5,879.5 318.5,879.5"/>
<polyline class="w" points="265.5,767.5 730.5,767.5 760.5,767.5"/>
<rect x="761" y="760.5" width="29.5" height="14" class="b" stroke-width="2"/>
<polyline class="w" points="791.5,767.5 865.5,767.5"/>
<polyline class="w" points="265.5,767.5 265.5,819.5 318.5,819.5"/>
<polygon points="729.5,763.5 731.5,763.5 734.3,766.7 734.3,768.3 731.5,771.5 729.5,771.5 726.7,768.3 726.7,766.7" class="f"/>
<path class="t" stroke-width="1" d="M760.5 753.5 L760.5 746.5 L763.5 746.5 L764.5 747.5 L764.5 748.5 L763.5 750.5 L760.5 750.5 M763.5 750.5 L764.5 752.5 L764.5 753.5 M767.5 747.5 L768.5 746.5 L770.5 746.5 L771.5 747.5 L771.5 748.5 L767.5 753.5 L771.5 753.5 M775.5 747.5 L776.5 746.5 L778.5 746.5 L779.5 747.5 L779.5 748.5 L775.5 753.5 L779.5 753.5"/>
<path class="t" stroke-width="1" d="M763.5 789.5 L763.5 782.5 L760.5 786.5 L764.5 786.5 M767.5 782.5 L767.5 789.5 M771.5 782.5 L768.5 786.5 L771.5 789.5 M767.5 786.5 L768.5 786.5 M774.5 782.5 L778.5 782.5 L778.5 783.5 L774.5 788.5 L774.5 789.5"/>
<rect x="317" y="804" width="3" height="242" class="f"/>
<rect x="437" y="804" width="3" height="242" class="f"/>
<rect x="317" y="804" width="123" height="2" class="f"/>
<rect x="317" y="1044" width="123" height="2" class="f"/>
<path class="t" stroke-width="1" d="M347.5 780.5 L351.5 780.5 M349.5 780.5 L349.5 789.5 M347.5 789.5 L351.5 789.5 M363.5 782.5 L361.5 780.5 L358.5 780.5 L357.5 782.5 L357.5 788.5 L358.5 789.5 L361.5 789.5 L363.5 788.5 M373.5 780.5 L367.5 780.5 L367.5 784.5 L371.5 784.5 L373.5 785.5 L373.5 788.5 L371.5 789.5 L368.5 789.5 L367.5 788.5"/>
<path class="t" stroke-width="1" d="M347.5 1050.5 L353.5 1050.5 L353.5 1052.5 L347.5 1058.5 L347.5 1059.5 M361.5 1059.5 L361.5 1050.5 L357.5 1055.5 L363.5 1055.5 M367.5 1050.5 L367.5 1059.5 M373.5 1050.5 L373.5 1059.5 M367.5 1054.5 L373.5 1054.5 M383.5 1052.5 L381.5 1050.5 L378.5 1050.5 L377.5 1052.5 L377.5 1058.5 L378.5 1059.5 L381.5 1059.5 L383.5 1058.5 M386.5 1050.5 L392.5 1050.5 M389.5 1050.5 L389.5 1059.5 M397.5 1052.5 L399.5 1050.5 L399.5 1059.5 M397.5 1059.5 L400.5 1059.5 M406.5 1052.5 L407.5 1050.5 L410.5 1050.5 L412.5 1052.5 L412.5 1053.5 L406.5 1059.5 L412.5 1059.5 M416.5 1052.5 L417.5 1050.5 L420.5 1050.5 L422.5 1052.5 L422.5 1053.5 L420.5 1054.5 L422.5 1056.5 L422.5 1058.5 L420.5 1059.5 L417.5 1059.5 L416.5 1058.5 M418.5 1054.5 L420.5 1054.5"/>
<path class="t" stroke-width="1" d="M273.5 817.5 L273.5 809.5 L277.5 809.5 L278.5 810.5 L278.5 814.5 L277.5 815.5 L273.5 815.5 M283.5 809.5 L286.5 809.5 M284.5 809.5 L284.5 817.5 M283.5 817.5 L286.5 817.5 M290.5 817.5 L290.5 809.5 L295.5 817.5 L295.5 809.5 M300.5 810.5 L301.5 809.5 L301.5 817.5 M300.5 817.5 L303.5 817.5"/>
<path class="t" stroke-width="1" d="M456.5 817.5 L456.5 809.5 L460.5 809.5 L461.5 810.5 L461.5 814.5 L460.5 815.5 L456.5 815.5 M465.5 809.5 L468.5 809.5 M466.5 809.5 L466.5 817.5 M465.5 817.5 L468.5 817.5 M472.5 817.5 L472.5 809.5 L477.5 817.5 L477.5 809.5 M480.5 810.5 L481.5 809.5 L481.5 817.5 M480.5 817.5 L483.5 817.5 M492.5 809.5 L489.5 809.5 L487.5 812.5 L487.5 816.5 L488.5 817.5 L491.5 817.5 L492.5 816.5 L492.5 814.5 L491.5 813.5 L487.5 813.5"/>
<path class="t" stroke-width="1" d="M273.5 847.5 L273.5 839.5 L277.5 839.5 L278.5 840.5 L278.5 844.5 L277.5 845.5 L273.5 845.5 M282.5 839.5 L285.5 839.5 M283.5 839.5 L283.5 847.5 M282.5 847.5 L285.5 847.5 M289.5 847.5 L289.5 839.5 L294.5 847.5 L294.5 839.5 M298.5 840.5 L299.5 839.5 L302.5 839.5 L303.5 840.5 L303.5 842.5 L298.5 847.5 L303.5 847.5"/>
<path class="t" stroke-width="1" d="M456.5 847.5 L456.5 839.5 L460.5 839.5 L461.5 840.5 L461.5 844.5 L460.5 845.5 L456.5 845.5 M465.5 839.5 L468.5 839.5 M466.5 839.5 L466.5 847.5 M465.5 847.5 L468.5 847.5 M472.5 847.5 L472.5 839.5 L477.5 847.5 L477.5 839.5 M480.5 840.5 L481.5 839.5 L481.5 847.5 M480.5 847.5 L483.5 847.5 M492.5 839.5 L487.5 839.5 L487.5 842.5 L491.5 842.5 L492.5 844.5 L492.5 846.5 L491.5 847.5 L488.5 847.5 L487.5 846.5"/>
<path class="t" stroke-width="1" d="M273.5 877.5 L273.5 869.5 L277.5 869.5 L278.5 870.5 L278.5 874.5 L277.5 875.5 L273.5 875.5 M282.5 869.5 L285.5 869.5 M283.5 869.5 L283.5 877.5 M282.5 877.5 L285.5 877.5 M289.5 877.5 L289.5 869.5 L294.5 877.5 L294.5 869.5 M298.5 870.5 L299.5 869.5 L302.5 869.5 L303.5 870.5 L303.5 872.5 L302.5 873.5 L303.5 874.5 L303.5 876.5 L302.5 877.5 L299.5 877.5 L298.5 876.5 M300.5 873.5 L302.5 873.5"/>
<path class="t" stroke-width="1" d="M456.5 877.5 L456.5 869.5 L460.5 869.5 L461.5 870.5 L461.5 874.5 L460.5 875.5 L456.5 875.5 M465.5 869.5 L468.5 869.5 M466.5 869.5 L466.5 877.5 M465.5 877.5 L468.5 877.5 M472.5 877.5 L472.5 869.5 L477.5 877.5 L477.5 869.5 M480.5 870.5 L481.5 869.5 L481.5 877.5 M480.5 877.5 L483.5 877.5 M491.5 877.5 L491.5 869.5 L487.5 873.5 L492.5 873.5"/>
<path class="t" stroke-width="1" d="M273.5 907.5 L273.5 899.5 L277.5 899.5 L278.5 900.5 L278.5 904.5 L277.5 905.5 L273.5 905.5 M282.5 899.5 L285.5 899.5 M283.5 899.5 L283.5 907.5 M282.5 907.5 L285.5 907.5 M289.5 907.5 L289.5 899.5 L294.5 907.5 L294.5 899.5 M302.5 907.5 L302.5 899.5 L298.5 903.5 L303.5 903.5"/>
<path class="t" stroke-width="1" d="M456.5 907.5 L456.5 899.5 L460.5 899.5 L461.5 900.5 L461.5 904.5 L460.5 905.5 L456.5 905.5 M465.5 899.5 L468.5 899.5 M466.5 899.5 L466.5 907.5 M465.5 907.5 L468.5 907.5 M472.5 907.5 L472.5 899.5 L477.5 907.5 L477.5 899.5 M480.5 900.5 L481.5 899.5 L481.5 907.5 M480.5 907.5 L483.5 907.5 M487.5 900.5 L488.5 899.5 L491.5 899.5 L492.5 900.5 L492.5 902.5 L491.5 903.5 L492.5 904.5 L492.5 906.5 L491.5 907.5 L488.5 907.5 L487.5 906.5 M489.5 903.5 L491.5 903.5"/>
<path class="t" stroke-width="1" d="M273.5 937.5 L273.5 929.5 L277.5 929.5 L278.5 930.5 L278.5 934.5 L277.5 935.5 L273.5 935.5 M282.5 929.5 L285.5 929.5 M283.5 929.5 L283.5 937.5 M282.5 937.5 L285.5 937.5 M289.5 937.5 L289.5 929.5 L294.5 937.5 L294.5 929.5 M303.5 929.5 L298.5 929.5 L298.5 932.5 L302.5 932.5 L303.5 934.5 L303.5 936.5 L302.5 937.5 L299.5 937.5 L298.5 936.5"/>
<path class="t" stroke-width="1" d="M456.5 937.5 L456.5 929.5 L460.5 929.5 L461.5 930.5 L461.5 934.5 L460.5 935.5 L456.5 935.5 M465.5 929.5 L468.5 929.5 M466.5 929.5 L466.5 937.5 M465.5 937.5 L468.5 937.5 M472.5 937.5 L472.5 929.5 L477.5 937.5 L477.5 929.5 M480.5 930.5 L481.5 929.5 L481.5 937.5 M480.5 937.5 L483.5 937.5 M487.5 930.5 L488.5 929.5 L491.5 929.5 L492.5 930.5 L492.5 932.5 L487.5 937.5 L492.5 937.5"/>
<path class="t" stroke-width="1" d="M273.5 967.5 L273.5 959.5 L277.5 959.5 L278.5 960.5 L278.5 964.5 L277.5 965.5 L273.5 965.5 M282.5 959.5 L285.5 959.5 M283.5 959.5 L283.5 967.5 M282.5 967.5 L285.5 967.5 M289.5 967.5 L289.5 959.5 L294.5 967.5 L294.5 959.5 M303.5 959.5 L300.5 959.5 L298.5 962.5 L298.5 966.5 L299.5 967.5 L302.5 967.5 L303.5 966.5 L303.5 964.5 L302.5 963.5 L298.5 963.5"/>
<path class="t" stroke-width="1" d="M456.5 967.5 L456.5 959.5 L460.5 959.5 L461.5 960.5 L461.5 964.5 L460.5 965.5 L456.5 965.5 M464.5 959.5 L467.5 959.5 M465.5 959.5 L465.5 967.5 M464.5 967.5 L467.5 967.5 M471.5 967.5 L471.5 959.5 L476.5 967.5 L476.5 959.5 M479.5 960.5 L480.5 959.5 L480.5 967.5 M479.5 967.5 L482.5 967.5 M487.5 960.5 L488.5 959.5 L488.5 967.5 M487.5 967.5 L490.5 967.5"/>
<path class="t" stroke-width="1" d="M273.5 997.5 L273.5 989.5 L277.5 989.5 L278.5 990.5 L278.5 994.5 L277.5 995.5 L273.5 995.5 M282.5 989.5 L285.5 989.5 M283.5 989.5 L283.5 997.5 M282.5 997.5 L285.5 997.5 M289.5 997.5 L289.5 989.5 L294.5 997.5 L294.5 989.5 M298.5 989.5 L303.5 989.5 L303.5 990.5 L298.5 996.5 L298.5 997.5"/>
<path class="t" stroke-width="1" d="M456.5 997.5 L456.5 989.5 L460.5 989.5 L461.5 990.5 L461.5 994.5 L460.5 995.5 L456.5 995.5 M465.5 989.5 L468.5 989.5 M466.5 989.5 L466.5 997.5 M465.5 997.5 L468.5 997.5 M472.5 997.5 L472.5 989.5 L477.5 997.5 L477.5 989.5 M480.5 990.5 L481.5 989.5 L481.5 997.5 M480.5 997.5 L483.5 997.5 M488.5 989.5 L491.5 989.5 L492.5 990.5 L492.5 996.5 L491.5 997.5 L488.5 997.5 L487.5 996.5 L487.5 990.5 L488.5 989.5 M487.5 996.5 L492.5 990.5"/>
<path class="t" stroke-width="1" d="M273.5 1027.5 L273.5 1019.5 L277.5 1019.5 L278.5 1020.5 L278.5 1024.5 L277.5 1025.5 L273.5 1025.5 M282.5 1019.5 L285.5 1019.5 M283.5 1019.5 L283.5 1027.5 M282.5 1027.5 L285.5 1027.5 M289.5 1027.5 L289.5 1019.5 L294.5 1027.5 L294.5 1019.5 M299.5 1019.5 L302.5 1019.5 L303.5 1020.5 L303.5 1022.5 L302.5 1023.5 L299.5 1023.5 L298.5 1022.5 L298.5 1020.5 L299.5 1019.5 M299.5 1023.5 L298.5 1024.5 L298.5 1026.5 L299.5 1027.5 L302.5 1027.5 L303.5 1026.5 L303.5 1024.5 L302.5 1023.5"/>
<path class="t" stroke-width="1" d="M456.5 1027.5 L456.5 1019.5 L460.5 1019.5 L461.5 1020.5 L461.5 1024.5 L460.5 1025.5 L456.5 1025.5 M465.5 1019.5 L468.5 1019.5 M466.5 1019.5 L466.5 1027.5 M465.5 1027.5 L468.5 1027.5 M473.5 1027.5 L473.5 1019.5 L478.5 1027.5 L478.5 1019.5 M482.5 1027.5 L485.5 1027.5 L486.5 1026.5 L486.5 1020.5 L485.5 1019.5 L482.5 1019.5 L481.5 1020.5 L481.5 1022.5 L482.5 1023.5 L486.5 1023.5"/>
<path class="t" stroke-width="1" d="M332.5 823.5 L338.5 816.5 M341.5 816.5 L343.5 814.5 L343.5 823.5 M341.5 823.5 L344.5 823.5 M348.5 823.5 L348.5 817.5 L351.5 814.5 L354.5 817.5 L354.5 823.5 M348.5 819.5 L354.5 819.5"/>
<path class="t" stroke-width="1" d="M332.5 846.5 L334.5 844.5 L334.5 853.5 M332.5 853.5 L335.5 853.5 M339.5 853.5 L339.5 844.5 L343.5 844.5 L345.5 846.5 L345.5 847.5 L343.5 848.5 L339.5 848.5 M343.5 848.5 L345.5 850.5 L345.5 852.5 L343.5 853.5 L339.5 853.5"/>
<path class="t" stroke-width="1" d="M332.5 883.5 L338.5 876.5 M341.5 876.5 L343.5 874.5 L343.5 883.5 M341.5 883.5 L344.5 883.5 M348.5 883.5 L348.5 874.5 L352.5 874.5 L354.5 876.5 L354.5 877.5 L352.5 878.5 L348.5 878.5 M351.5 878.5 L354.5 882.5 L354.5 883.5"/>
<path class="t" stroke-width="1" d="M332.5 913.5 L338.5 906.5 M341.5 906.5 L343.5 904.5 L343.5 913.5 M341.5 913.5 L344.5 913.5 M349.5 904.5 L352.5 904.5 L354.5 906.5 L354.5 912.5 L352.5 913.5 L349.5 913.5 L348.5 912.5 L348.5 906.5 L349.5 904.5 M351.5 911.5 L354.5 913.5"/>
<path class="t" stroke-width="1" d="M332.5 936.5 L333.5 934.5 L336.5 934.5 L338.5 936.5 L338.5 937.5 L332.5 943.5 L338.5 943.5 M341.5 934.5 L344.5 934.5 L346.5 936.5 L346.5 942.5 L344.5 943.5 L341.5 943.5 L340.5 942.5 L340.5 936.5 L341.5 934.5 M343.5 941.5 L346.5 943.5"/>
<path class="t" stroke-width="1" d="M332.5 966.5 L333.5 964.5 L336.5 964.5 L338.5 966.5 L338.5 967.5 L332.5 973.5 L338.5 973.5 M346.5 966.5 L344.5 964.5 L341.5 964.5 L340.5 966.5 L340.5 972.5 L341.5 973.5 L344.5 973.5 L346.5 972.5 M349.5 964.5 L355.5 973.5 M355.5 964.5 L349.5 973.5"/>
<path class="t" stroke-width="1" d="M332.5 996.5 L333.5 994.5 L336.5 994.5 L338.5 996.5 L338.5 997.5 L332.5 1003.5 L338.5 1003.5 M340.5 1003.5 L340.5 994.5 L344.5 994.5 L346.5 996.5 L346.5 997.5 L344.5 998.5 L340.5 998.5 M343.5 998.5 L346.5 1002.5 L346.5 1003.5 M349.5 994.5 L355.5 1003.5 M355.5 994.5 L349.5 1003.5 M363.5 996.5 L361.5 994.5 L358.5 994.5 L357.5 996.5 L357.5 1002.5 L358.5 1003.5 L361.5 1003.5 L363.5 1002.5 M365.5 994.5 L371.5 1003.5 M371.5 994.5 L365.5 1003.5"/>
<path class="t" stroke-width="1" d="M338.5 1026.5 L336.5 1024.5 L333.5 1024.5 L332.5 1026.5 L332.5 1032.5 L333.5 1033.5 L336.5 1033.5 L338.5 1032.5 L338.5 1028.5 L335.5 1028.5 M340.5 1033.5 L340.5 1024.5 L346.5 1033.5 L346.5 1024.5 M349.5 1024.5 L353.5 1024.5 L355.5 1026.5 L355.5 1032.5 L353.5 1033.5 L349.5 1033.5 L349.5 1024.5"/>
<path class="t" stroke-width="1" d="M400.5 815.5 L400.5 821.5 L403.5 824.5 L406.5 821.5 L406.5 815.5 M415.5 817.5 L413.5 815.5 L410.5 815.5 L409.5 817.5 L409.5 823.5 L410.5 824.5 L413.5 824.5 L415.5 823.5 M424.5 817.5 L422.5 815.5 L419.5 815.5 L418.5 817.5 L418.5 823.5 L419.5 824.5 L422.5 824.5 L424.5 823.5"/>
<path class="t" stroke-width="1" d="M384.5 847.5 L386.5 845.5 L386.5 854.5 M384.5 854.5 L387.5 854.5 M392.5 854.5 L392.5 845.5 L396.5 845.5 L398.5 847.5 L398.5 848.5 L396.5 849.5 L392.5 849.5 M395.5 849.5 L398.5 853.5 L398.5 854.5 M400.5 845.5 L406.5 854.5 M406.5 845.5 L400.5 854.5 M415.5 847.5 L413.5 845.5 L410.5 845.5 L409.5 847.5 L409.5 853.5 L410.5 854.5 L413.5 854.5 L415.5 853.5 M417.5 845.5 L423.5 854.5 M423.5 845.5 L417.5 854.5"/>
<path class="t" stroke-width="1" d="M400.5 877.5 L402.5 875.5 L402.5 884.5 M400.5 884.5 L403.5 884.5 M415.5 877.5 L413.5 875.5 L410.5 875.5 L409.5 877.5 L409.5 883.5 L410.5 884.5 L413.5 884.5 L415.5 883.5 M418.5 875.5 L424.5 884.5 M424.5 875.5 L418.5 884.5"/>
<path class="t" stroke-width="1" d="M408.5 907.5 L410.5 905.5 L410.5 914.5 M408.5 914.5 L411.5 914.5 M418.5 905.5 L421.5 905.5 L423.5 907.5 L423.5 913.5 L421.5 914.5 L418.5 914.5 L417.5 913.5 L417.5 907.5 L418.5 905.5 M420.5 912.5 L423.5 914.5"/>
<path class="t" stroke-width="1" d="M400.5 944.5 L406.5 937.5 M409.5 937.5 L410.5 935.5 L413.5 935.5 L415.5 937.5 L415.5 938.5 L409.5 944.5 L415.5 944.5 M419.5 935.5 L422.5 935.5 L424.5 937.5 L424.5 943.5 L422.5 944.5 L419.5 944.5 L418.5 943.5 L418.5 937.5 L419.5 935.5 M421.5 942.5 L424.5 944.5"/>
<path class="t" stroke-width="1" d="M400.5 974.5 L406.5 967.5 M409.5 967.5 L410.5 965.5 L413.5 965.5 L415.5 967.5 L415.5 968.5 L409.5 974.5 L415.5 974.5 M418.5 974.5 L418.5 965.5 L422.5 965.5 L424.5 967.5 L424.5 968.5 L422.5 969.5 L418.5 969.5 M421.5 969.5 L424.5 973.5 L424.5 974.5"/>
<path class="t" stroke-width="1" d="M408.5 997.5 L409.5 995.5 L412.5 995.5 L414.5 997.5 L414.5 998.5 L408.5 1004.5 L414.5 1004.5 M417.5 1004.5 L417.5 995.5 L421.5 995.5 L423.5 997.5 L423.5 998.5 L421.5 999.5 L417.5 999.5 M421.5 999.5 L423.5 1001.5 L423.5 1003.5 L421.5 1004.5 L417.5 1004.5"/>
<path class="t" stroke-width="1" d="M400.5 1034.5 L406.5 1027.5 M409.5 1027.5 L410.5 1025.5 L413.5 1025.5 L415.5 1027.5 L415.5 1028.5 L409.5 1034.5 L415.5 1034.5 M418.5 1034.5 L418.5 1028.5 L421.5 1025.5 L424.5 1028.5 L424.5 1034.5 M418.5 1030.5 L424.5 1030.5"/>
<polyline class="w" points="40.5,849.5 190.5,849.5"/>
<rect x="191" y="842.5" width="29.5" height="15" class="b" stroke-width="2"/>
<polyline class="w" points="221.5,849.5 318.5,849.5"/>
<polygon points="92.5,845.5 94.5,845.5 97.3,848.7 97.3,850.3 94.5,853.5 92.5,853.5 89.7,850.3 89.7,848.7" class="f"/>
<polyline class="w" points="93.5,827.5 93.5,999.5 153.5,999.5"/>
<path class="t" stroke-width="1" d="M62.5 824.5 L62.5 831.5 L65.5 834.5 L68.5 831.5 L68.5 824.5 M78.5 826.5 L77.5 824.5 L74.5 824.5 L72.5 826.5 L72.5 832.5 L74.5 834.5 L77.5 834.5 L78.5 832.5 M89.5 826.5 L88.5 824.5 L85.5 824.5 L83.5 826.5 L83.5 832.5 L85.5 834.5 L88.5 834.5 L89.5 832.5"/>
<path class="t" stroke-width="1" d="M190.5 835.5 L190.5 828.5 L193.5 828.5 L194.5 829.5 L194.5 830.5 L193.5 832.5 L190.5 832.5 M193.5 832.5 L194.5 834.5 L194.5 835.5 M198.5 829.5 L199.5 828.5 L199.5 835.5 M198.5 835.5 L200.5 835.5 M207.5 828.5 L205.5 828.5 L203.5 830.5 L203.5 834.5 L204.5 835.5 L206.5 835.5 L207.5 834.5 L207.5 833.5 L206.5 832.5 L203.5 832.5"/>
<path class="t" stroke-width="1" d="M194.5 873.5 L194.5 866.5 L191.5 870.5 L195.5 870.5 M198.5 866.5 L198.5 873.5 M202.5 866.5 L199.5 870.5 L202.5 873.5 M198.5 870.5 L199.5 870.5 M205.5 866.5 L209.5 866.5 L209.5 867.5 L205.5 872.5 L205.5 873.5"/>
<polyline class="w" points="40.5,849.5 40.5,891.5"/>
<polygon points="36,899.5 45.5,890 46,899.5" class="f"/>
<line x1="42" y1="896.5" x2="55.5" y2="909.5" stroke-width="2"/>
<line x1="55.5" y1="897" x2="55.5" y2="921.5" stroke-width="2.2"/>
<polyline class="w" points="55.5,909.5 153.5,909.5"/>
<rect x="153.5" y="902.5" width="29.5" height="15" class="b" stroke-width="2"/>
<polyline class="w" points="183.5,909.5 318.5,909.5"/>
<line x1="55.5" y1="911.5" x2="41" y2="924.5" stroke-width="2"/>
<polyline class="w" points="40.5,924.5 40.5,985.5"/>
<polygon points="39.5,950.5 41.5,950.5 44.3,953.7 44.3,955.3 41.5,958.5 39.5,958.5 36.7,955.3 36.7,953.7" class="f"/>
<polyline class="w" points="25.5,954.5 40.5,954.5"/>
<path class="t" stroke-width="1" d="M62.5 880.5 L66.5 880.5 M64.5 880.5 L64.5 887.5 M69.5 887.5 L69.5 880.5 L72.5 880.5 L73.5 881.5 L73.5 882.5 L72.5 884.5 L69.5 884.5 M72.5 884.5 L73.5 886.5 L73.5 887.5 M76.5 881.5 L77.5 880.5 L79.5 880.5 L80.5 881.5 L80.5 882.5 L76.5 887.5 L80.5 887.5"/>
<path class="t" stroke-width="1" d="M44.5 935.5 L44.5 928.5 L47.5 928.5 L48.5 929.5 L48.5 930.5 L47.5 932.5 L44.5 932.5 M47.5 932.5 L48.5 933.5 L48.5 934.5 L47.5 935.5 L44.5 935.5 M55.5 929.5 L54.5 928.5 L52.5 928.5 L51.5 929.5 L51.5 934.5 L52.5 935.5 L54.5 935.5 L55.5 934.5 M62.5 928.5 L58.5 928.5 L58.5 931.5 L61.5 931.5 L62.5 932.5 L62.5 934.5 L61.5 935.5 L59.5 935.5 L58.5 934.5 M69.5 928.5 L65.5 928.5 L65.5 931.5 L68.5 931.5 L69.5 932.5 L69.5 934.5 L68.5 935.5 L66.5 935.5 L65.5 934.5 M72.5 928.5 L76.5 928.5 L76.5 929.5 L72.5 934.5 L72.5 935.5 M83.5 929.5 L82.5 928.5 L80.5 928.5 L79.5 929.5 L79.5 934.5 L80.5 935.5 L82.5 935.5 L83.5 934.5"/>
<path class="t" stroke-width="1" d="M153.5 895.5 L153.5 888.5 L156.5 888.5 L157.5 889.5 L157.5 890.5 L156.5 892.5 L153.5 892.5 M156.5 892.5 L157.5 894.5 L157.5 895.5 M161.5 889.5 L162.5 888.5 L164.5 888.5 L165.5 889.5 L165.5 890.5 L161.5 895.5 L165.5 895.5 M169.5 895.5 L171.5 895.5 L172.5 894.5 L172.5 889.5 L171.5 888.5 L169.5 888.5 L168.5 889.5 L168.5 890.5 L169.5 892.5 L172.5 892.5"/>
<path class="t" stroke-width="1" d="M156.5 932.5 L156.5 925.5 L153.5 929.5 L157.5 929.5 M161.5 925.5 L161.5 932.5 M165.5 925.5 L162.5 929.5 L165.5 932.5 M161.5 929.5 L162.5 929.5 M168.5 925.5 L172.5 925.5 L172.5 926.5 L168.5 931.5 L168.5 932.5"/>
<polygon points="32.5,984 49.5,984 43.5,999 38.5,999" class="f"/>
<rect x="32.5" y="999" width="17" height="3" class="f"/>
<line x1="30.5" y1="987.5" x2="24.5" y2="993.5" stroke-width="1.6"/>
<polygon points="21.3,989.8 21.3,996 27.2,996" class="f"/>
<line x1="30.5" y1="996.5" x2="24.5" y2="1002.5" stroke-width="1.6"/>
<polygon points="21.3,998.8 21.3,1005 27.2,1005" class="f"/>
<polyline class="w" points="40.5,1000.5 40.5,1029.5 100.5,1029.5"/>
<path class="t" stroke-width="1" d="M48.5 976.5 L48.5 967.5 L52.5 967.5 L54.5 969.5 L54.5 970.5 L52.5 971.5 L48.5 971.5 M51.5 971.5 L54.5 975.5 L54.5 976.5 M59.5 967.5 L62.5 967.5 L64.5 969.5 L64.5 975.5 L62.5 976.5 L59.5 976.5 L58.5 975.5 L58.5 969.5 L59.5 967.5 M68.5 967.5 L74.5 967.5 M71.5 967.5 L71.5 976.5"/>
<path class="t" stroke-width="1" d="M56.5 1007.5 L63.5 1007.5 L63.5 1003.5 M56.5 996.5 L56.5 1000.5 L63.5 1000.5 L63.5 996.5 M60.5 1000.5 L60.5 997.5 M56.5 992.5 L56.5 989.5 L57.5 988.5 L62.5 988.5 L63.5 989.5 L63.5 992.5 L56.5 992.5"/>
<path class="t" stroke-width="1" d="M20.5 1043.5 L20.5 1040.5 L21.5 1039.5 L26.5 1039.5 L27.5 1040.5 L27.5 1043.5 L20.5 1043.5 M21.5 1036.5 L20.5 1035.5 L27.5 1035.5 M27.5 1036.5 L27.5 1034.5"/>
<rect x="101.5" y="1022.5" width="29" height="15" class="b" stroke-width="2"/>
<polyline class="w" points="131.5,1029.5 318.5,1029.5"/>
<polygon points="264.5,1025.5 266.5,1025.5 269.3,1028.7 269.3,1030.3 266.5,1033.5 264.5,1033.5 261.7,1030.3 261.7,1028.7" class="f"/>
<polyline class="w" points="265.5,1029.5 265.5,1052.5"/>
<line x1="257.5" y1="1052.5" x2="273.5" y2="1052.5" stroke-width="1.2"/>
<path class="t" stroke-width="1" d="M100.5 1014.5 L100.5 1007.5 L103.5 1007.5 L104.5 1008.5 L104.5 1009.5 L103.5 1011.5 L100.5 1011.5 M103.5 1011.5 L104.5 1013.5 L104.5 1014.5 M107.5 1008.5 L108.5 1007.5 L110.5 1007.5 L111.5 1008.5 L111.5 1009.5 L107.5 1014.5 L111.5 1014.5 M115.5 1007.5 L117.5 1007.5 L118.5 1008.5 L118.5 1013.5 L117.5 1014.5 L115.5 1014.5 L114.5 1013.5 L114.5 1008.5 L115.5 1007.5 M114.5 1013.5 L118.5 1008.5"/>
<path class="t" stroke-width="1" d="M104.5 1046.5 L102.5 1046.5 L100.5 1048.5 L100.5 1052.5 L101.5 1053.5 L103.5 1053.5 L104.5 1052.5 L104.5 1051.5 L103.5 1050.5 L100.5 1050.5 M108.5 1046.5 L110.5 1046.5 L111.5 1047.5 L111.5 1048.5 L110.5 1050.5 L108.5 1050.5 L107.5 1048.5 L107.5 1047.5 L108.5 1046.5 M108.5 1050.5 L107.5 1051.5 L107.5 1052.5 L108.5 1053.5 L110.5 1053.5 L111.5 1052.5 L111.5 1051.5 L110.5 1050.5 M115.5 1046.5 L117.5 1046.5 L118.5 1047.5 L118.5 1052.5 L117.5 1053.5 L115.5 1053.5 L114.5 1052.5 L114.5 1047.5 L115.5 1046.5 M114.5 1052.5 L118.5 1047.5 M121.5 1053.5 L121.5 1046.5 L124.5 1046.5 L125.5 1047.5 L125.5 1048.5 L124.5 1050.5 L121.5 1050.5 M124.5 1050.5 L125.5 1052.5 L125.5 1053.5"/>
<rect x="153.5" y="992.5" width="29.5" height="15" class="b" stroke-width="2"/>
<polyline class="w" points="183.5,999.5 318.5,999.5"/>
<polygon points="234.5,995.5 236.5,995.5 239.3,998.7 239.3,1000.3 236.5,1003.5 234.5,1003.5 231.7,1000.3 231.7,998.7" class="f"/>
<polyline class="w" points="235.5,999.5 235.5,970.5"/>
<rect x="227" y="960.75" width="17" height="2.5" class="f"/>
<rect x="227" y="968.75" width="17" height="2.5" class="f"/>
<polyline class="w" points="235.5,962.5 235.5,932.5 265.5,932.5 265.5,969.5 318.5,969.5"/>
<polyline class="w" points="287.5,939.5 318.5,939.5"/>
<path class="t" stroke-width="1" d="M153.5 985.5 L153.5 978.5 L156.5 978.5 L157.5 979.5 L157.5 980.5 L156.5 982.5 L153.5 982.5 M156.5 982.5 L157.5 984.5 L157.5 985.5 M161.5 979.5 L162.5 978.5 L162.5 985.5 M161.5 985.5 L163.5 985.5 M167.5 978.5 L171.5 978.5 L171.5 979.5 L167.5 984.5 L167.5 985.5"/>
<path class="t" stroke-width="1" d="M153.5 1017.5 L154.5 1016.5 L156.5 1016.5 L157.5 1017.5 L157.5 1018.5 L156.5 1020.5 L157.5 1021.5 L157.5 1022.5 L156.5 1023.5 L154.5 1023.5 L153.5 1022.5 M155.5 1020.5 L156.5 1020.5 M161.5 1017.5 L162.5 1016.5 L164.5 1016.5 L165.5 1017.5 L165.5 1018.5 L164.5 1020.5 L165.5 1021.5 L165.5 1022.5 L164.5 1023.5 L162.5 1023.5 L161.5 1022.5 M163.5 1020.5 L164.5 1020.5 M168.5 1016.5 L168.5 1023.5 M172.5 1016.5 L169.5 1020.5 L172.5 1023.5 M168.5 1020.5 L169.5 1020.5"/>
<path class="t" stroke-width="1" d="M214.5 973.5 L213.5 974.5 L213.5 976.5 L214.5 977.5 L219.5 977.5 L220.5 976.5 L220.5 974.5 L219.5 973.5 M214.5 968.5 L213.5 967.5 L220.5 967.5 M220.5 968.5 L220.5 966.5 M214.5 962.5 L213.5 961.5 L213.5 959.5 L214.5 958.5 L215.5 958.5 L220.5 962.5 L220.5 958.5"/>
<path class="t" stroke-width="1" d="M252.5 977.5 L251.5 976.5 L251.5 974.5 L252.5 973.5 L253.5 973.5 L255.5 974.5 L256.5 973.5 L257.5 973.5 L258.5 974.5 L258.5 976.5 L257.5 977.5 M255.5 975.5 L255.5 974.5 M252.5 970.5 L251.5 969.5 L251.5 967.5 L252.5 966.5 L253.5 966.5 L255.5 967.5 L256.5 966.5 L257.5 966.5 L258.5 967.5 L258.5 969.5 L257.5 970.5 M255.5 968.5 L255.5 967.5 M251.5 961.5 L251.5 959.5 L252.5 958.5 L257.5 958.5 L258.5 959.5 L258.5 961.5 L257.5 962.5 L252.5 962.5 L251.5 961.5 M257.5 962.5 L252.5 958.5 M258.5 955.5 L253.5 955.5 L253.5 952.5 L255.5 951.5 L258.5 951.5 M251.5 944.5 L251.5 948.5 L258.5 948.5 M255.5 948.5 L255.5 945.5"/>
<polyline class="w" points="440.5,819.5 498.5,819.5 498.5,789.5 670.5,789.5 670.5,812.5"/>
<polygon points="669.5,808.5 671.5,808.5 674.3,811.7 674.3,813.3 671.5,816.5 669.5,816.5 666.7,813.3 666.7,811.7" class="f"/>
<polyline class="w" points="670.5,812.5 687.5,812.5"/>
<path class="t" stroke-width="1" d="M678.5 794.5 L678.5 801.5 L681.5 804.5 L684.5 801.5 L684.5 794.5 M694.5 796.5 L693.5 794.5 L690.5 794.5 L688.5 796.5 L688.5 802.5 L690.5 804.5 L693.5 804.5 L694.5 802.5 M704.5 796.5 L703.5 794.5 L700.5 794.5 L698.5 796.5 L698.5 802.5 L700.5 804.5 L703.5 804.5 L704.5 802.5"/>
<polyline class="w" points="440.5,849.5 513.5,849.5 513.5,812.5 610.5,812.5"/>
<rect x="611" y="805" width="29.5" height="15" class="b" stroke-width="2"/>
<polyline class="w" points="641.5,812.5 670.5,812.5"/>
<polygon points="542.5,808.5 544.5,808.5 547.3,811.7 547.3,813.3 544.5,816.5 542.5,816.5 539.7,813.3 539.7,811.7" class="f"/>
<path class="t" stroke-width="1" d="M610.5 797.5 L610.5 790.5 L613.5 790.5 L614.5 791.5 L614.5 792.5 L613.5 794.5 L610.5 794.5 M613.5 794.5 L614.5 796.5 L614.5 797.5 M618.5 791.5 L619.5 790.5 L619.5 797.5 M618.5 797.5 L620.5 797.5 M625.5 790.5 L627.5 790.5 L628.5 791.5 L628.5 792.5 L627.5 794.5 L625.5 794.5 L624.5 792.5 L624.5 791.5 L625.5 790.5 M625.5 794.5 L624.5 795.5 L624.5 796.5 L625.5 797.5 L627.5 797.5 L628.5 796.5 L628.5 795.5 L627.5 794.5"/>
<path class="t" stroke-width="1" d="M610.5 828.5 L611.5 827.5 L611.5 834.5 M610.5 834.5 L612.5 834.5 M617.5 827.5 L619.5 827.5 L620.5 828.5 L620.5 833.5 L619.5 834.5 L617.5 834.5 L616.5 833.5 L616.5 828.5 L617.5 827.5 M616.5 833.5 L620.5 828.5 M625.5 827.5 L627.5 827.5 L628.5 828.5 L628.5 833.5 L627.5 834.5 L625.5 834.5 L624.5 833.5 L624.5 828.5 L625.5 827.5 M624.5 833.5 L628.5 828.5 M631.5 827.5 L631.5 834.5 M635.5 827.5 L632.5 831.5 L635.5 834.5 M631.5 831.5 L632.5 831.5"/>
<polyline class="w" points="543.5,812.5 543.5,841.5"/>
<rect x="534.75" y="842.75" width="17.5" height="4.5" class="b" stroke-width="2.5"/>
<rect x="533.5" y="850.5" width="20" height="7" class="f"/>
<line x1="546" y1="835.5" x2="556" y2="835.5" stroke-width="2"/>
<line x1="551" y1="831" x2="551" y2="840" stroke-width="2"/>
<polyline class="w" points="543.5,857.5 543.5,887.5 513.5,887.5 513.5,879.5 440.5,879.5"/>
<path class="t" stroke-width="1" d="M524.5 859.5 L523.5 858.5 L530.5 858.5 M530.5 859.5 L530.5 857.5 M523.5 852.5 L523.5 850.5 L524.5 849.5 L529.5 849.5 L530.5 850.5 L530.5 852.5 L529.5 853.5 L524.5 853.5 L523.5 852.5 M529.5 853.5 L524.5 849.5 M525.5 846.5 L529.5 846.5 L530.5 845.5 L530.5 842.5 M525.5 842.5 L530.5 842.5 M523.5 836.5 L523.5 840.5 L530.5 840.5 M527.5 840.5 L527.5 837.5"/>
<path class="t" stroke-width="1" d="M559.5 849.5 L558.5 850.5 L558.5 852.5 L559.5 853.5 L564.5 853.5 L565.5 852.5 L565.5 850.5 L564.5 849.5 M559.5 845.5 L558.5 844.5 L565.5 844.5 M565.5 845.5 L565.5 843.5 M559.5 839.5 L558.5 838.5 L558.5 836.5 L559.5 835.5 L560.5 835.5 L562.5 836.5 L563.5 835.5 L564.5 835.5 L565.5 836.5 L565.5 838.5 L564.5 839.5 M562.5 837.5 L562.5 836.5"/>
<polyline class="w" points="440.5,909.5 580.5,909.5 580.5,714.5"/>
<polyline class="w" points="440.5,969.5 543.5,969.5 543.5,999.5"/>
<polyline class="w" points="440.5,999.5 670.5,999.5 670.5,873.5"/>
<polygon points="542.5,995.5 544.5,995.5 547.3,998.7 547.3,1000.3 544.5,1003.5 542.5,1003.5 539.7,1000.3 539.7,998.7" class="f"/>
<rect x="663.5" y="842.5" width="15" height="30" class="b" stroke-width="3"/>
<polyline class="w" points="670.5,841.5 670.5,812.5"/>
<path class="t" stroke-width="1" d="M655.5 872.5 L648.5 872.5 L648.5 869.5 L649.5 868.5 L650.5 868.5 L652.5 869.5 L652.5 872.5 M652.5 869.5 L654.5 868.5 L655.5 868.5 M649.5 865.5 L648.5 864.5 L648.5 862.5 L649.5 861.5 L650.5 861.5 L655.5 865.5 L655.5 861.5 M649.5 857.5 L648.5 856.5 L655.5 856.5 M655.5 857.5 L655.5 855.5"/>
<path class="t" stroke-width="1" d="M694.5 869.5 L687.5 869.5 L691.5 872.5 L691.5 868.5 M687.5 864.5 L694.5 864.5 M687.5 860.5 L691.5 863.5 L694.5 860.5 M691.5 864.5 L691.5 863.5 M687.5 856.5 L687.5 852.5 L688.5 852.5 L693.5 856.5 L694.5 856.5"/>
<polyline class="w" points="440.5,1029.5 700.5,1029.5 700.5,849.5 791.5,849.5"/>
<polygon points="729.5,845.5 731.5,845.5 734.3,848.7 734.3,850.3 731.5,853.5 729.5,853.5 726.7,850.3 726.7,848.7" class="f"/>
<polyline class="w" points="730.5,767.5 730.5,879.5"/>
<rect x="722" y="878.25" width="17" height="2.5" class="f"/>
<rect x="722" y="886.25" width="17" height="2.5" class="f"/>
<polyline class="w" points="730.5,887.5 730.5,923.5"/>
<line x1="722" y1="923.5" x2="739" y2="923.5" stroke-width="1.2"/>
<path class="t" stroke-width="1" d="M711.5 890.5 L710.5 891.5 L710.5 893.5 L711.5 894.5 L716.5 894.5 L717.5 893.5 L717.5 891.5 L716.5 890.5 M711.5 887.5 L710.5 886.5 L717.5 886.5 M717.5 887.5 L717.5 885.5 M711.5 881.5 L710.5 880.5 L717.5 880.5 M717.5 881.5 L717.5 879.5"/>
<path class="t" stroke-width="1" d="M748.5 894.5 L747.5 893.5 L754.5 893.5 M754.5 894.5 L754.5 892.5 M747.5 887.5 L747.5 885.5 L748.5 884.5 L753.5 884.5 L754.5 885.5 L754.5 887.5 L753.5 888.5 L748.5 888.5 L747.5 887.5 M753.5 888.5 L748.5 884.5 M747.5 880.5 L747.5 878.5 L748.5 877.5 L753.5 877.5 L754.5 878.5 L754.5 880.5 L753.5 881.5 L748.5 881.5 L747.5 880.5 M753.5 881.5 L748.5 877.5 M754.5 875.5 L749.5 875.5 L749.5 872.5 L751.5 871.5 L754.5 871.5 M747.5 864.5 L747.5 868.5 L754.5 868.5 M751.5 868.5 L751.5 865.5"/>
<path class="t" stroke-width="1" d="M738.5 847.5 L738.5 839.5 L742.5 839.5 L743.5 840.5 L743.5 844.5 L742.5 845.5 L738.5 845.5 M747.5 839.5 L750.5 839.5 M748.5 839.5 L748.5 847.5 M747.5 847.5 L750.5 847.5 M754.5 847.5 L754.5 839.5 L759.5 847.5 L759.5 839.5 M763.5 840.5 L764.5 839.5 L764.5 847.5 M763.5 847.5 L766.5 847.5 M770.5 840.5 L771.5 839.5 L774.5 839.5 L775.5 840.5 L775.5 842.5 L774.5 843.5 L775.5 844.5 L775.5 846.5 L774.5 847.5 L771.5 847.5 L770.5 846.5 M772.5 843.5 L774.5 843.5"/>
<rect x="962" y="864" width="603" height="2" class="f"/>
<rect x="962" y="864" width="3" height="213" class="f"/>
<rect x="962" y="938.5" width="603" height="2" class="f"/>
<rect x="962" y="984" width="603" height="2" class="f"/>
<rect x="962" y="1044" width="603" height="2" class="f"/>
<rect x="1480" y="984" width="2" height="62" class="f"/>
<rect x="1382" y="1044" width="2" height="33" class="f"/>
<path class="t" stroke-width="3" d="M993.5 909.5 L993.5 887.5 L1003.5 887.5 L1007.5 891.5 L1007.5 894.5 L1003.5 898.5 L993.5 898.5 M1003.5 898.5 L1007.5 902.5 L1007.5 905.5 L1003.5 909.5 L993.5 909.5 M1016.5 894.5 L1023.5 894.5 L1027.5 898.5 L1027.5 905.5 L1023.5 909.5 L1016.5 909.5 L1013.5 905.5 L1013.5 898.5 L1016.5 894.5 M1036.5 894.5 L1043.5 894.5 L1047.5 898.5 L1047.5 905.5 L1043.5 909.5 L1036.5 909.5 L1033.5 905.5 L1033.5 898.5 L1036.5 894.5 M1067.5 894.5 L1056.5 894.5 L1053.5 898.5 L1056.5 902.5 L1063.5 902.5 L1067.5 905.5 L1063.5 909.5 L1053.5 909.5 M1077.5 890.5 L1077.5 906.5 L1080.5 909.5 M1073.5 894.5 L1082.5 894.5 M1093.5 902.5 L1107.5 902.5 L1107.5 898.5 L1103.5 894.5 L1096.5 894.5 L1093.5 898.5 L1093.5 905.5 L1096.5 909.5 L1105.5 909.5 M1113.5 894.5 L1113.5 909.5 M1113.5 898.5 L1116.5 894.5 L1123.5 894.5 M1162.5 887.5 L1159.5 887.5 L1156.5 890.5 L1156.5 909.5 M1153.5 894.5 L1162.5 894.5 M1173.5 894.5 L1173.5 905.5 L1176.5 909.5 L1187.5 909.5 M1187.5 894.5 L1187.5 909.5 M1176.5 887.5 L1176.5 891.5 M1183.5 887.5 L1183.5 891.5 M1193.5 894.5 L1193.5 909.5 M1193.5 898.5 L1196.5 894.5 L1203.5 894.5 M1247.5 891.5 L1243.5 887.5 L1236.5 887.5 L1233.5 891.5 L1233.5 894.5 L1236.5 898.5 L1243.5 898.5 L1247.5 902.5 L1247.5 905.5 L1243.5 909.5 L1236.5 909.5 L1233.5 905.5 M1253.5 902.5 L1267.5 902.5 L1267.5 898.5 L1263.5 894.5 L1256.5 894.5 L1253.5 898.5 L1253.5 905.5 L1256.5 909.5 L1265.5 909.5 M1276.5 887.5 L1280.5 887.5 L1280.5 909.5 M1276.5 909.5 L1284.5 909.5 M1293.5 902.5 L1307.5 902.5 L1307.5 898.5 L1303.5 894.5 L1296.5 894.5 L1293.5 898.5 L1293.5 905.5 L1296.5 909.5 L1305.5 909.5 M1326.5 894.5 L1315.5 894.5 L1312.5 898.5 L1312.5 905.5 L1315.5 909.5 L1326.5 909.5 M1336.5 890.5 L1336.5 906.5 L1339.5 909.5 M1332.5 894.5 L1341.5 894.5 M1352.5 894.5 L1352.5 909.5 M1352.5 898.5 L1355.5 894.5 L1362.5 894.5 M1375.5 894.5 L1379.5 894.5 L1379.5 909.5 M1375.5 909.5 L1382.5 909.5 M1379.5 888.5 L1379.5 890.5 M1392.5 894.5 L1406.5 909.5 M1406.5 894.5 L1392.5 909.5"/>
<path class="t" stroke-width="1" d="M972.5 948.5 L980.5 948.5 M976.5 948.5 L976.5 962.5 M986.5 948.5 L992.5 948.5 M989.5 948.5 L989.5 962.5 M986.5 962.5 L992.5 962.5 M998.5 948.5 L1006.5 948.5 M1002.5 948.5 L1002.5 962.5 M1011.5 948.5 L1011.5 962.5 L1019.5 962.5 M1031.5 948.5 L1023.5 948.5 L1023.5 962.5 L1031.5 962.5 M1023.5 955.5 L1029.5 955.5 M1039.5 952.5 L1041.5 952.5 L1041.5 955.5 L1039.5 955.5 L1039.5 952.5 M1039.5 959.5 L1041.5 959.5 L1041.5 962.5 L1039.5 962.5 L1039.5 959.5"/>
<path class="t" stroke-width="1" d="M1067.5 948.5 L1067.5 962.5 L1073.5 962.5 L1075.5 959.5 L1075.5 955.5 L1073.5 952.5 L1067.5 952.5 M1083.5 952.5 L1087.5 952.5 L1089.5 955.5 L1089.5 959.5 L1087.5 962.5 L1083.5 962.5 L1081.5 959.5 L1081.5 955.5 L1083.5 952.5 M1096.5 952.5 L1100.5 952.5 L1102.5 955.5 L1102.5 959.5 L1100.5 962.5 L1096.5 962.5 L1094.5 959.5 L1094.5 955.5 L1096.5 952.5 M1116.5 952.5 L1110.5 952.5 L1108.5 955.5 L1110.5 957.5 L1114.5 957.5 L1116.5 959.5 L1114.5 962.5 L1108.5 962.5 M1124.5 950.5 L1124.5 960.5 L1125.5 962.5 M1121.5 952.5 L1126.5 952.5 M1135.5 957.5 L1143.5 957.5 L1143.5 955.5 L1141.5 952.5 L1137.5 952.5 L1135.5 955.5 L1135.5 959.5 L1137.5 962.5 L1142.5 962.5 M1149.5 952.5 L1149.5 962.5 M1149.5 955.5 L1151.5 952.5 L1155.5 952.5"/>
<path class="t" stroke-width="3" d="M1241.5 951.5 L1235.5 957.5 L1235.5 965.5 L1241.5 971.5 M1266.5 958.5 L1257.5 958.5 L1254.5 961.5 L1254.5 968.5 L1257.5 971.5 L1266.5 971.5 M1280.5 951.5 L1286.5 957.5 L1286.5 965.5 L1280.5 971.5 M1316.5 951.5 L1316.5 968.5 L1319.5 971.5 L1325.5 971.5 L1328.5 968.5 L1328.5 951.5 M1337.5 958.5 L1337.5 968.5 L1340.5 971.5 L1343.5 968.5 L1346.5 971.5 L1349.5 968.5 L1349.5 958.5 M1358.5 964.5 L1370.5 964.5 L1370.5 961.5 L1367.5 958.5 L1361.5 958.5 L1358.5 961.5 L1358.5 968.5 L1361.5 971.5 L1369.5 971.5 M1399.5 971.5 L1399.5 951.5 L1405.5 958.5 L1411.5 951.5 L1411.5 971.5 M1422.5 958.5 L1429.5 958.5 L1432.5 961.5 L1432.5 971.5 L1423.5 971.5 L1420.5 968.5 L1423.5 964.5 L1432.5 964.5 M1452.5 958.5 L1443.5 958.5 L1440.5 961.5 L1440.5 965.5 L1443.5 968.5 L1452.5 968.5 M1452.5 958.5 L1452.5 974.5 L1449.5 977.5 L1445.5 977.5 M1461.5 971.5 L1461.5 958.5 L1470.5 958.5 L1473.5 961.5 L1473.5 971.5 M1482.5 958.5 L1482.5 968.5 L1485.5 971.5 L1494.5 971.5 M1494.5 958.5 L1494.5 971.5 M1515.5 958.5 L1506.5 958.5 L1503.5 961.5 L1506.5 964.5 L1512.5 964.5 L1515.5 968.5 L1512.5 971.5 L1503.5 971.5"/>
<path class="t" stroke-width="1" d="M972.5 993.5 L979.5 993.5 L981.5 995.5 L981.5 1005.5 L979.5 1007.5 L972.5 1007.5 L972.5 993.5 M988.5 998.5 L993.5 998.5 L995.5 1000.5 L995.5 1005.5 L993.5 1007.5 L988.5 1007.5 L986.5 1005.5 L986.5 1000.5 L988.5 998.5 M1008.5 998.5 L1001.5 998.5 L999.5 1000.5 L999.5 1005.5 L1001.5 1007.5 L1008.5 1007.5 M1013.5 998.5 L1013.5 1005.5 L1015.5 1007.5 L1022.5 1007.5 M1022.5 998.5 L1022.5 1007.5 M1026.5 1007.5 L1026.5 998.5 L1033.5 998.5 L1035.5 999.5 L1035.5 1007.5 M1030.5 998.5 L1030.5 1007.5 M1040.5 1002.5 L1049.5 1002.5 L1049.5 1000.5 L1047.5 998.5 L1042.5 998.5 L1040.5 1000.5 L1040.5 1005.5 L1042.5 1007.5 L1048.5 1007.5 M1054.5 1007.5 L1054.5 998.5 L1061.5 998.5 L1063.5 1000.5 L1063.5 1007.5 M1070.5 995.5 L1070.5 1005.5 L1071.5 1007.5 M1067.5 998.5 L1072.5 998.5 M1094.5 1007.5 L1094.5 993.5 L1103.5 1007.5 L1103.5 993.5 M1108.5 998.5 L1108.5 1005.5 L1110.5 1007.5 L1117.5 1007.5 M1117.5 998.5 L1117.5 1007.5 M1122.5 1007.5 L1122.5 998.5 L1129.5 998.5 L1131.5 999.5 L1131.5 1007.5 M1126.5 998.5 L1126.5 1007.5 M1135.5 993.5 L1135.5 1007.5 L1142.5 1007.5 L1144.5 1005.5 L1144.5 1000.5 L1142.5 998.5 L1135.5 998.5 M1149.5 1002.5 L1158.5 1002.5 L1158.5 1000.5 L1156.5 998.5 L1151.5 998.5 L1149.5 1000.5 L1149.5 1005.5 L1151.5 1007.5 L1157.5 1007.5 M1162.5 998.5 L1162.5 1007.5 M1162.5 1000.5 L1164.5 998.5 L1169.5 998.5 M1179.5 998.5 L1181.5 998.5 L1181.5 1000.5 L1179.5 1000.5 L1179.5 998.5 M1179.5 1005.5 L1181.5 1005.5 L1181.5 1007.5 L1179.5 1007.5 L1179.5 1005.5"/>
<path class="t" stroke-width="1" d="M1488.5 1006.5 L1488.5 992.5 L1495.5 992.5 L1497.5 994.5 L1497.5 997.5 L1495.5 999.5 L1488.5 999.5 M1493.5 999.5 L1497.5 1004.5 L1497.5 1006.5 M1510.5 992.5 L1501.5 992.5 L1501.5 1006.5 L1510.5 1006.5 M1501.5 999.5 L1508.5 999.5 M1514.5 992.5 L1514.5 1001.5 L1518.5 1006.5 L1523.5 1001.5 L1523.5 992.5 M1530.5 997.5 L1532.5 997.5 L1532.5 999.5 L1530.5 999.5 L1530.5 997.5 M1530.5 1004.5 L1532.5 1004.5 L1532.5 1006.5 L1530.5 1006.5 L1530.5 1004.5"/>
<path class="t" stroke-width="3" d="M1497.5 1019.5 L1500.5 1015.5 L1500.5 1036.5 M1496.5 1036.5 L1504.5 1036.5 M1518.5 1033.5 L1521.5 1033.5 L1521.5 1036.5 L1518.5 1036.5 L1518.5 1033.5 M1535.5 1015.5 L1542.5 1015.5 L1545.5 1019.5 L1545.5 1033.5 L1542.5 1036.5 L1535.5 1036.5 L1532.5 1033.5 L1532.5 1019.5 L1535.5 1015.5 M1532.5 1033.5 L1545.5 1019.5"/>
<path class="t" stroke-width="1" d="M971.5 1052.5 L978.5 1052.5 L980.5 1054.5 L980.5 1064.5 L978.5 1067.5 L971.5 1067.5 L971.5 1052.5 M985.5 1057.5 L991.5 1057.5 L993.5 1060.5 L993.5 1067.5 L986.5 1067.5 L984.5 1064.5 L986.5 1062.5 L993.5 1062.5 M1000.5 1054.5 L1000.5 1065.5 L1002.5 1067.5 M997.5 1057.5 L1003.5 1057.5 M1010.5 1062.5 L1019.5 1062.5 L1019.5 1060.5 L1017.5 1057.5 L1012.5 1057.5 L1010.5 1060.5 L1010.5 1064.5 L1012.5 1067.5 L1018.5 1067.5 M1026.5 1057.5 L1029.5 1057.5 L1029.5 1060.5 L1026.5 1060.5 L1026.5 1057.5 M1026.5 1064.5 L1029.5 1064.5 L1029.5 1067.5 L1026.5 1067.5 L1026.5 1064.5 M1037.5 1054.5 L1039.5 1052.5 L1044.5 1052.5 L1046.5 1054.5 L1046.5 1057.5 L1037.5 1067.5 L1046.5 1067.5 M1052.5 1067.5 L1057.5 1067.5 L1059.5 1064.5 L1059.5 1054.5 L1057.5 1052.5 L1052.5 1052.5 L1050.5 1054.5 L1050.5 1057.5 L1052.5 1060.5 L1059.5 1060.5 M1066.5 1064.5 L1069.5 1064.5 L1069.5 1067.5 L1066.5 1067.5 L1066.5 1064.5 M1078.5 1052.5 L1083.5 1052.5 L1085.5 1054.5 L1085.5 1064.5 L1083.5 1067.5 L1078.5 1067.5 L1076.5 1064.5 L1076.5 1054.5 L1078.5 1052.5 M1076.5 1064.5 L1085.5 1054.5 M1091.5 1054.5 L1093.5 1052.5 L1093.5 1067.5 M1090.5 1067.5 L1096.5 1067.5 M1105.5 1064.5 L1108.5 1064.5 L1108.5 1067.5 L1105.5 1067.5 L1105.5 1064.5 M1115.5 1054.5 L1117.5 1052.5 L1122.5 1052.5 L1124.5 1054.5 L1124.5 1057.5 L1115.5 1067.5 L1124.5 1067.5 M1130.5 1052.5 L1135.5 1052.5 L1137.5 1054.5 L1137.5 1064.5 L1135.5 1067.5 L1130.5 1067.5 L1128.5 1064.5 L1128.5 1054.5 L1130.5 1052.5 M1128.5 1064.5 L1137.5 1054.5 M1144.5 1052.5 L1149.5 1052.5 L1151.5 1054.5 L1151.5 1064.5 L1149.5 1067.5 L1144.5 1067.5 L1142.5 1064.5 L1142.5 1054.5 L1144.5 1052.5 M1142.5 1064.5 L1151.5 1054.5 M1155.5 1054.5 L1157.5 1052.5 L1162.5 1052.5 L1164.5 1054.5 L1164.5 1057.5 L1162.5 1060.5 L1164.5 1062.5 L1164.5 1064.5 L1162.5 1067.5 L1157.5 1067.5 L1155.5 1064.5 M1158.5 1060.5 L1162.5 1060.5 M1181.5 1054.5 L1183.5 1052.5 L1188.5 1052.5 L1190.5 1054.5 L1190.5 1057.5 L1181.5 1067.5 L1190.5 1067.5 M1196.5 1054.5 L1198.5 1052.5 L1198.5 1067.5 M1195.5 1067.5 L1201.5 1067.5 M1210.5 1057.5 L1213.5 1057.5 L1213.5 1060.5 L1210.5 1060.5 L1210.5 1057.5 M1210.5 1064.5 L1213.5 1064.5 L1213.5 1067.5 L1210.5 1067.5 L1210.5 1064.5 M1227.5 1067.5 L1227.5 1052.5 L1220.5 1060.5 L1229.5 1060.5 M1240.5 1067.5 L1240.5 1052.5 L1233.5 1060.5 L1242.5 1060.5 M1249.5 1057.5 L1252.5 1057.5 L1252.5 1060.5 L1249.5 1060.5 L1249.5 1057.5 M1249.5 1064.5 L1252.5 1064.5 L1252.5 1067.5 L1249.5 1067.5 L1249.5 1064.5 M1260.5 1054.5 L1262.5 1052.5 L1267.5 1052.5 L1269.5 1054.5 L1269.5 1057.5 L1260.5 1067.5 L1269.5 1067.5 M1275.5 1052.5 L1280.5 1052.5 L1282.5 1054.5 L1282.5 1057.5 L1280.5 1060.5 L1275.5 1060.5 L1273.5 1057.5 L1273.5 1054.5 L1275.5 1052.5 M1275.5 1060.5 L1273.5 1062.5 L1273.5 1064.5 L1275.5 1067.5 L1280.5 1067.5 L1282.5 1064.5 L1282.5 1062.5 L1280.5 1060.5"/>
<path class="t" stroke-width="1" d="M1399.5 1054.5 L1397.5 1052.5 L1392.5 1052.5 L1390.5 1054.5 L1390.5 1057.5 L1392.5 1060.5 L1397.5 1060.5 L1399.5 1062.5 L1399.5 1064.5 L1397.5 1067.5 L1392.5 1067.5 L1390.5 1064.5 M1403.5 1052.5 L1403.5 1067.5 M1403.5 1057.5 L1410.5 1057.5 L1412.5 1060.5 L1412.5 1067.5 M1417.5 1062.5 L1426.5 1062.5 L1426.5 1060.5 L1424.5 1057.5 L1419.5 1057.5 L1417.5 1060.5 L1417.5 1064.5 L1419.5 1067.5 L1425.5 1067.5 M1430.5 1062.5 L1439.5 1062.5 L1439.5 1060.5 L1437.5 1057.5 L1432.5 1057.5 L1430.5 1060.5 L1430.5 1064.5 L1432.5 1067.5 L1438.5 1067.5 M1446.5 1054.5 L1446.5 1065.5 L1448.5 1067.5 M1443.5 1057.5 L1449.5 1057.5 M1459.5 1057.5 L1462.5 1057.5 L1462.5 1060.5 L1459.5 1060.5 L1459.5 1057.5 M1459.5 1064.5 L1462.5 1064.5 L1462.5 1067.5 L1459.5 1067.5 L1459.5 1064.5 M1472.5 1054.5 L1474.5 1052.5 L1474.5 1067.5 M1471.5 1067.5 L1477.5 1067.5 M1483.5 1067.5 L1492.5 1056.5 M1498.5 1054.5 L1500.5 1052.5 L1500.5 1067.5 M1497.5 1067.5 L1503.5 1067.5"/>
</svg></body></html>
